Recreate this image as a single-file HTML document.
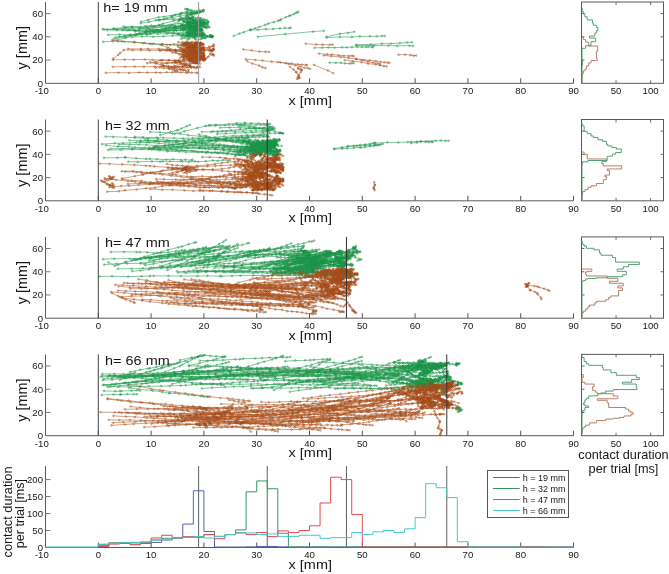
<!DOCTYPE html><html><head><meta charset="utf-8"><style>html,body{margin:0;padding:0;background:#fff;}svg{display:block;font-family:"Liberation Sans",sans-serif;filter:blur(0.35px);}</style></head><body>
<svg width="669" height="574" viewBox="0 0 669 574">
<rect width="669" height="574" fill="#fff"/>
<defs><marker id="mg" markerUnits="userSpaceOnUse" markerWidth="4" markerHeight="4" refX="2" refY="2" overflow="visible"><circle cx="2" cy="2" r="0.85" fill="none" stroke="#1a9048" stroke-width="0.55" opacity="0.95"/></marker><marker id="mb" markerUnits="userSpaceOnUse" markerWidth="4" markerHeight="4" refX="2" refY="2" overflow="visible"><circle cx="2" cy="2" r="0.85" fill="none" stroke="#a04a1a" stroke-width="0.55" opacity="0.95"/></marker></defs>
<g fill="none" stroke="#2aa055" stroke-width="0.7" stroke-opacity="0.85" marker-start="url(#mg)" marker-mid="url(#mg)" marker-end="url(#mg)">
<polyline points="102.6,29.0 114.4,29.0 124.6,28.4 132.4,28.2 140.2,27.7 143.0,27.9 152.4,27.9 161.3,27.2 170.5,26.9 175.1,26.7 183.5,26.4 189.3,26.4 190.2,26.5 194.7,26.5 198.9,26.9 203.1,27.0 205.2,27.2"/>
<polyline points="103.2,41.8 112.9,41.2 118.2,41.3 124.1,41.6 134.0,42.3 142.9,43.1 151.6,44.1 160.2,44.7 162.3,44.3 166.8,44.6 173.9,44.2 181.2,44.2 184.9,44.1 189.9,44.0 191.9,44.3"/>
<polyline points="103.9,29.6 117.3,29.7 127.7,30.5 134.2,30.3 146.8,31.0 149.8,31.1 153.5,30.8 162.1,30.9 171.7,30.5 176.4,30.6 183.0,30.2 188.5,29.8 192.6,29.8 195.3,30.3"/>
<polyline points="108.2,34.8 119.6,34.6 130.6,34.7 139.9,34.4 146.6,34.1 150.3,33.8 157.9,33.9 166.5,33.7 172.8,33.3 177.7,33.2 183.3,33.1 188.5,33.3 190.0,33.1"/>
<polyline points="107.2,30.0 116.8,29.9 129.2,29.6 138.8,30.0 147.7,29.5 155.5,29.5 165.0,29.3 173.3,28.5 180.7,28.4 184.6,28.0 190.6,27.8 196.3,27.4 199.1,27.1 197.4,27.4 200.1,25.9"/>
<polyline points="118.9,36.9 130.2,35.2 139.4,33.1 150.7,30.8 157.7,29.8 165.1,28.5 174.1,26.9 182.3,25.8 188.8,25.0 195.9,24.3 200.2,23.1 202.3,23.2 204.5,23.8 203.9,23.8"/>
<polyline points="113.7,38.9 124.6,37.0 134.9,35.5 141.6,34.2 150.4,33.2 160.3,31.9 169.5,30.7 176.2,30.1 182.4,29.4 185.1,29.1 189.1,29.0 187.1,27.5"/>
<polyline points="116.6,40.0 125.8,37.8 137.3,34.7 145.7,32.7 154.0,31.3 162.7,29.3 168.9,27.9 175.9,26.8 183.5,25.3 187.5,24.6 193.8,23.3 195.8,23.0 192.5,21.3"/>
<polyline points="115.5,37.3 124.7,36.0 135.8,34.2 145.1,32.8 154.3,31.9 159.7,31.1 169.0,29.9 175.9,28.8 181.5,28.0 188.0,27.4 194.2,26.2 198.5,25.6 201.2,24.8 199.2,26.1"/>
<polyline points="113.5,28.4 126.3,27.5 132.0,26.7 145.1,26.2 151.3,25.5 159.8,25.3 168.2,25.5 174.6,25.4 182.1,25.3 187.6,25.4 190.1,25.3 190.2,23.4"/>
<polyline points="123.5,26.3 131.8,27.2 140.2,27.9 150.0,29.1 160.1,30.8 164.7,31.5 174.4,33.0 179.3,34.3 182.7,34.7 186.6,35.7 187.5,38.7"/>
<polyline points="122.5,30.1 135.0,30.3 145.4,31.4 153.1,31.7 160.6,32.1 167.8,32.8 177.5,34.3 186.2,35.2 190.0,35.3 197.6,36.8 202.7,36.9 204.9,37.7 203.2,37.1"/>
<polyline points="134.9,31.5 146.1,31.1 152.9,31.0 163.0,31.0 173.4,30.5 180.6,30.4 184.5,29.9 188.6,30.1 190.3,29.6"/>
<polyline points="153.6,27.2 165.6,26.7 175.1,27.3 183.2,29.1 190.5,30.4 193.7,31.3 197.4,31.3"/>
<polyline points="156.6,29.9 166.3,28.5 175.7,28.2 185.0,29.3 190.4,29.8 195.8,30.7 195.1,29.6 191.7,30.1"/>
<polyline points="146.9,34.9 157.4,32.2 166.4,30.0 178.7,27.8 183.3,27.1 193.2,26.2 199.8,25.4 202.2,24.9 204.4,24.8 201.9,25.2 202.1,24.6"/>
<polyline points="131.7,37.3 141.8,36.6 153.2,36.7 163.5,36.3 172.6,35.7 180.9,35.9 186.1,35.7 194.7,35.3 200.2,35.8 202.2,35.4 201.6,36.8"/>
<polyline points="155.9,20.0 163.6,19.6 174.2,19.3 183.3,18.8 187.5,19.2 193.7,19.9 197.9,19.9 200.6,19.3"/>
<polyline points="178.7,20.4 189.0,17.6 193.4,19.2 192.1,17.0 198.0,17.6"/>
<polyline points="146.4,26.7 155.0,26.3 162.6,25.5 170.5,24.7 178.5,23.5 186.1,22.5 190.8,21.4 192.7,20.6 191.4,22.5 191.9,23.4"/>
<polyline points="171.7,25.0 179.0,20.8 186.9,15.9 192.0,14.0 196.5,12.1 194.7,12.6 194.1,11.6 192.5,13.0"/>
<polyline points="178.7,33.8 188.8,28.8 193.8,25.6 200.5,21.4 203.3,19.1 200.2,19.7"/>
<polyline points="183.7,28.3 188.9,22.5 193.3,17.1 196.1,12.9 194.0,13.5"/>
<polyline points="138.7,29.2 147.7,27.6 158.8,25.1 162.9,23.6 173.4,21.0 179.9,19.1 185.9,16.9 191.8,15.2 196.2,13.4 201.2,11.4 203.4,10.0 203.4,11.4"/>
<polyline points="141.0,21.7 147.9,19.9 158.5,17.3 164.0,16.6 175.0,14.7 180.7,13.9 186.5,13.2 192.6,12.4 197.1,12.7 198.8,12.5 197.3,12.8 196.2,13.0"/>
<polyline points="140.7,23.3 149.0,21.8 158.7,20.0 166.4,18.5 171.9,17.8 179.5,16.1 186.3,14.9 192.5,13.5 197.5,12.6 200.8,11.8 203.1,11.2 199.4,12.4 197.7,11.9 198.9,11.0"/>
<polyline points="183.7,21.9 187.9,14.1 188.0,9.1 187.0,9.5 187.2,9.0 185.2,9.0"/>
<polyline points="174.2,28.3 181.3,26.3 187.7,23.7 193.8,20.4 195.9,18.9 199.4,18.3 201.0,18.0"/>
<polyline points="174.3,30.7 181.2,25.3 185.1,21.8 187.9,16.9 190.3,13.3 190.5,13.6 190.6,14.0"/>
<polyline points="172.0,16.1 181.4,12.9 190.0,10.2 191.7,10.3 199.4,10.2 203.9,10.0"/>
<polyline points="159.7,20.1 171.5,16.5 180.3,14.0 187.0,12.1 190.7,11.8 196.5,12.2 199.9,12.3"/>
<polyline points="181.2,23.8 183.7,25.3 187.6,27.6 189.5,28.8 190.9,30.1 190.7,29.5 192.9,28.9 193.0,28.5 192.9,30.4 190.2,29.6 191.7,29.2 190.3,28.1"/>
<polyline points="189.8,24.5 192.2,27.9 195.8,31.4 197.9,34.3 198.8,35.8 199.3,35.0 199.6,34.4 198.6,35.6 198.6,35.9 199.7,35.7 203.1,35.6 204.1,34.0 204.7,34.8 204.6,34.6 202.3,34.4 198.8,34.2 198.4,34.4"/>
<polyline points="195.5,38.2 197.4,33.4 198.7,29.5 199.9,27.8 201.0,24.7 201.3,23.4 199.2,23.0 199.8,23.4 199.2,24.6 202.0,25.7 199.7,25.9 199.0,26.1 200.1,24.9 199.5,25.0 197.6,25.5"/>
<polyline points="188.9,30.8 193.4,28.1 196.9,26.5 199.9,24.5 203.0,22.9 203.7,22.2 200.7,22.9 197.1,23.0 194.0,22.8 190.6,22.0 192.2,22.6 192.7,21.3 194.9,19.2"/>
<polyline points="180.4,19.6 182.9,21.0 188.4,24.2 191.4,25.9 193.9,27.5 197.1,29.0 199.5,30.2 202.2,32.2 203.1,32.9 203.3,33.3 201.6,34.1 198.6,35.2 195.9,34.6 193.4,33.1 193.1,32.0 189.3,31.8 187.0,32.4 188.3,33.7"/>
<polyline points="181.1,38.8 184.8,37.7 189.6,35.6 191.4,35.0 195.5,33.4 198.3,32.2 200.1,31.4 201.1,31.1 202.6,30.7 202.1,30.1 196.8,29.6 197.8,29.7 195.7,29.1 197.2,29.6 198.0,29.9 199.6,29.9 200.3,29.4"/>
<polyline points="183.4,28.5 187.0,32.2 189.6,34.8 190.8,36.1 191.1,35.5 188.6,36.6 187.9,35.0 188.6,35.1 191.2,32.8 193.3,31.3 194.6,32.3 193.1,32.0 192.1,32.3 189.9,33.8"/>
<polyline points="195.4,39.6 195.5,36.5 195.3,31.8 195.7,30.4 195.0,29.5 195.0,29.3 196.0,30.2 195.5,29.3 195.9,30.9 198.0,30.7 198.2,30.5 200.7,29.7 201.5,29.3 199.6,29.3 200.7,28.9 200.7,29.6"/>
<polyline points="189.6,38.6 191.7,34.8 193.0,32.0 194.9,28.4 195.7,27.6 196.7,26.0 197.1,26.0 197.1,28.1 198.9,26.3 203.8,26.6 205.0,27.4 205.1,26.7 206.3,27.1 206.8,28.0 209.4,27.2"/>
<polyline points="181.2,17.4 185.9,19.5 189.9,20.9 193.0,21.9 194.2,22.7 195.1,21.0 194.5,21.1 194.7,22.7 194.1,23.5 193.4,23.8 195.2,23.1 190.8,23.6 188.8,25.1 189.7,26.3 189.7,25.9 188.1,25.5 189.0,24.6"/>
<polyline points="180.9,18.7 183.7,20.6 188.1,24.0 190.9,26.0 193.8,27.8 196.4,29.7 198.7,30.9 200.8,32.5 202.5,34.0 203.9,34.8 201.7,33.7 199.4,33.0 201.4,34.3 198.3,33.9 197.4,34.2 194.4,34.7 196.4,35.2 192.6,36.4 195.1,37.9 193.0,37.5 194.5,36.6 194.5,36.6"/>
<polyline points="191.9,37.1 193.1,33.0 193.3,29.8 193.9,31.3 191.7,31.9 189.1,33.3 189.3,33.9 187.0,33.4 187.0,33.6 188.7,35.2 188.6,34.3 189.6,34.3"/>
<polyline points="182.3,37.2 184.8,35.7 187.6,32.8 190.9,30.6 191.8,29.6 193.1,28.3 196.2,29.0 197.8,29.5 200.5,29.2 202.0,29.2 201.6,28.4 198.1,28.4 194.9,27.7 192.0,26.8 191.6,28.4 189.8,27.7 189.8,26.5 187.0,26.5"/>
<polyline points="192.9,34.4 195.0,30.3 196.1,28.2 198.0,24.0 198.7,21.8 198.9,20.1 199.3,21.4 196.4,21.9 194.7,20.9 197.1,21.4 199.1,21.1 197.1,24.3 195.3,26.5 196.8,27.0 194.9,27.1 194.3,26.0"/>
<polyline points="195.3,19.9 195.2,23.3 194.3,27.4 194.3,29.5 193.9,31.2 194.5,31.9 194.8,32.1 193.9,31.5 194.6,31.6 194.8,33.1 195.4,34.5"/>
<polyline points="185.8,27.1 189.8,25.9 194.0,24.7 196.9,23.7 201.1,22.6 203.2,22.2 204.2,21.8 205.1,21.1 203.0,23.4 205.6,24.0 204.8,23.5 204.0,23.4 207.7,21.6"/>
<polyline points="187.6,40.1 189.3,36.6 191.6,32.6 193.3,28.5 194.8,25.0 196.2,22.8 196.7,21.8 198.0,22.6 198.4,25.6 198.3,24.6 198.4,24.1 198.1,23.8 198.9,23.3 201.1,21.9 201.3,21.3 200.0,23.0 200.7,24.1"/>
<polyline points="182.6,34.9 186.1,32.2 189.3,30.8 192.6,28.3 194.7,27.3 194.6,29.6 196.5,27.3 193.2,26.7 192.8,27.3 196.2,26.8 192.1,26.2 195.2,25.8"/>
<polyline points="189.7,18.8 193.2,20.3 197.8,22.6 201.2,24.8 202.1,25.5 203.7,23.6 203.5,23.5 204.1,23.9 204.7,23.8 204.0,24.0 206.0,23.0 203.6,24.1 203.1,25.3 201.9,23.9 205.8,23.6"/>
<polyline points="194.2,34.3 192.9,29.7 192.6,26.5 191.9,23.1 190.9,19.4 191.0,18.1 191.8,18.9 189.9,17.7 187.5,18.7 189.4,18.8 188.8,18.5 192.6,17.4"/>
<polyline points="181.2,25.9 185.2,24.8 189.2,23.7 191.8,22.9 195.7,22.0 198.6,21.7 201.2,20.7 203.1,20.4 204.8,19.8 206.8,20.0 208.0,22.2 208.3,21.6 207.9,22.5 207.3,24.7 206.6,26.1 205.9,26.9 208.8,26.9 207.7,23.7"/>
<polyline points="185.5,27.8 189.1,25.4 191.7,23.3 189.3,23.4 188.9,23.2 188.1,23.5 188.6,25.7 187.0,23.3 190.8,22.8 188.3,22.1 187.1,20.5 187.7,21.4 187.7,22.0 187.0,22.1"/>
<polyline points="197.9,39.7 202.1,38.4 206.4,36.4 209.7,35.7 210.9,35.3 210.2,35.4"/>
<polyline points="200.9,39.1 205.0,38.3 209.7,36.9 211.7,37.2 212.1,36.5 211.2,36.3 212.9,36.3"/>
<polyline points="202.4,35.0 206.8,36.0 209.8,36.0 211.7,36.3 211.7,35.9 212.5,36.1"/>
<polyline points="198.9,36.1 202.7,36.3 206.9,36.3 210.6,36.8 212.6,36.2 212.3,37.3"/>
<polyline points="233.6,36.0 239.4,33.6 243.8,32.2 249.9,29.9 250.9,29.8 255.2,28.3 259.5,26.9 265.4,24.8 268.3,23.6 273.7,22.2 278.2,20.7 280.3,20.3 280.8,19.5 285.8,17.3 288.9,15.9 290.4,15.5 293.9,14.2 295.9,12.8 297.3,12.2 298.4,11.8"/>
<polyline points="250.6,29.9 257.9,29.7 266.1,29.2 273.1,29.0 279.8,28.4 284.9,28.0 289.1,28.2 290.7,27.7"/>
<polyline points="257.8,36.7 285.3,34.1 313.0,31.6 323.8,30.8"/>
<polyline points="326.5,36.7 339.9,33.8 347.8,32.8 354.3,31.7"/>
<polyline points="326.5,37.6 339.9,36.9 351.8,37.1 359.7,36.4 369.9,36.3 376.8,36.4 382.0,36.0 384.8,35.9"/>
<polyline points="314.5,47.8 322.2,47.7 328.2,47.5 334.6,47.6 342.2,47.4 346.9,47.4 351.9,47.2 357.4,46.9 361.9,47.1 365.9,47.0 368.4,46.8 372.0,47.0 373.1,47.2"/>
<polyline points="356.3,44.7 370.6,44.4 381.9,43.7 390.8,43.6 399.7,43.1 407.1,42.5 411.8,42.3"/>
<polyline points="356.3,45.5 374.0,45.5 388.4,45.6 397.2,45.9 409.4,45.6 413.2,45.9"/>
<polyline points="329.6,62.7 335.8,62.8 340.9,62.8 344.9,63.4 349.4,63.6 351.5,63.2 353.7,63.3"/>
</g>
<g fill="none" stroke="#b45e2c" stroke-width="0.7" stroke-opacity="0.85" marker-start="url(#mb)" marker-mid="url(#mb)" marker-end="url(#mb)">
<polyline points="112.2,40.2 121.7,41.3 134.6,42.1 144.7,43.0 149.8,43.6 153.5,43.6 162.3,44.2 170.2,44.9 177.9,45.3 185.0,46.1 186.5,45.9 193.6,46.8 198.4,47.2 203.5,47.4 208.7,47.8 210.2,47.8"/>
<polyline points="113.1,58.6 118.3,54.8 120.2,53.0 123.7,50.0 132.6,50.1 141.1,50.1 149.6,50.4 159.9,50.3 160.1,50.6 167.3,50.5 175.6,51.2 183.6,51.7 189.0,51.8 194.4,51.6 197.5,52.0 200.0,52.3"/>
<polyline points="113.0,59.8 124.7,59.6 133.6,59.6 144.8,59.5 152.5,59.8 160.3,60.2 161.9,60.2 168.6,60.3 175.8,60.4 184.0,60.4 189.1,60.6 194.8,60.1 198.3,60.2 199.9,60.6"/>
<polyline points="112.8,66.8 125.2,66.7 134.6,66.6 143.8,66.7 154.5,66.6 159.8,66.8 161.7,66.5 168.4,66.7 176.0,66.6 182.4,66.6 190.0,66.7 193.4,66.9 197.8,66.7 200.1,67.0"/>
<polyline points="105.8,72.8 118.5,72.6 129.2,72.9 139.1,72.5 147.3,72.6 156.1,72.5 160.2,72.7 166.6,72.4 172.4,72.4 180.7,72.4 186.2,72.7 191.6,72.6 196.5,72.8 197.9,72.7"/>
<polyline points="147.0,63.2 156.8,62.8 167.4,62.9 174.9,62.8 176.9,63.0 185.5,63.4 191.3,63.4 197.4,63.2 200.1,63.7"/>
<polyline points="128.0,48.8 140.8,49.0 147.8,48.9 158.7,49.0 167.6,49.2 170.2,49.4 175.5,49.8 182.5,49.6 189.1,49.9 194.0,49.7 196.2,50.1"/>
<polyline points="161.6,45.2 167.8,47.5 175.0,50.1 182.3,52.3 186.7,52.9 191.9,54.2 197.0,55.4 199.9,55.3 198.2,58.0 199.9,56.7 196.0,57.4"/>
<polyline points="172.3,52.6 181.3,54.1 189.1,54.7 194.1,56.0 196.8,56.4 199.0,55.3 195.2,55.8 193.4,57.3"/>
<polyline points="162.0,49.6 170.1,50.3 175.9,50.7 181.7,51.0 187.9,52.3 192.5,53.4 195.3,53.7 195.8,56.1 199.6,57.0 196.2,56.0"/>
<polyline points="183.2,45.7 184.5,53.2 187.3,57.2 189.6,60.2 191.7,60.3"/>
<polyline points="165.7,50.2 175.2,50.4 182.4,49.0 186.8,47.8 191.2,46.2 195.1,45.3 195.6,45.9"/>
<polyline points="178.8,54.3 184.2,58.1 191.9,61.3 195.3,61.7 195.6,59.1 191.8,59.7"/>
<polyline points="181.4,45.5 189.1,50.1 192.8,52.5 199.7,56.0 203.0,58.3 205.5,59.5 204.7,58.9 204.6,57.9 204.5,58.8"/>
<polyline points="170.0,50.6 175.8,52.5 183.1,54.6 187.4,56.2 190.2,56.6 187.4,55.1 187.7,55.0"/>
<polyline points="150.2,62.0 155.9,63.5 163.7,65.6 168.3,66.3 174.4,68.2 179.9,69.4 183.2,70.5 185.6,70.5 188.1,72.4 188.5,70.8 188.5,69.7"/>
<polyline points="161.4,63.8 166.6,63.3 172.3,62.7 179.3,61.8 183.7,61.5 189.5,61.9 191.9,61.5 194.9,61.9 193.6,61.2 193.5,61.1"/>
<polyline points="174.0,65.6 182.2,63.9 186.4,64.5 189.9,66.1 189.9,65.3 190.3,66.8"/>
<polyline points="181.0,63.6 184.3,64.0 184.9,65.5 185.8,65.3"/>
<polyline points="162.6,65.8 169.2,68.7 172.0,69.3 176.8,70.0 180.5,69.4 182.4,69.6 184.5,69.2"/>
<polyline points="163.0,65.5 170.8,66.9 177.6,67.1 182.3,67.4 187.1,67.5 191.4,67.6 194.3,67.5 197.5,67.2 196.0,68.5"/>
<polyline points="155.5,67.7 163.8,68.1 169.1,68.5 174.5,67.6 178.9,66.6 183.2,65.7 185.1,64.9 187.0,65.2 189.4,65.0 189.6,65.4 191.3,67.0"/>
<polyline points="171.7,67.1 175.8,71.5 174.1,70.6 177.7,71.6"/>
<polyline points="154.4,61.7 162.4,60.2 169.0,60.1 174.1,60.6 178.4,61.3 180.9,62.1 180.0,62.6 175.9,62.4 175.1,61.8 174.7,61.0"/>
<polyline points="190.9,49.1 192.6,46.3 193.9,44.8 196.5,44.9 196.5,44.3 195.6,44.5 195.0,44.8 193.0,44.8 192.0,44.6 190.7,45.8 193.3,46.4 192.3,46.9 190.5,47.4 187.6,48.4 191.3,48.5 191.8,48.0 193.5,48.1"/>
<polyline points="188.4,51.5 189.2,47.3 191.1,44.1 191.6,42.2 188.0,43.0 188.3,42.9 185.0,43.6 185.7,44.0 183.8,44.2 184.0,44.0 184.9,44.6 185.3,43.4 185.7,44.2 186.0,42.7 183.0,43.6 184.3,44.1 187.3,45.1"/>
<polyline points="190.6,43.5 192.8,45.2 197.2,47.6 198.8,48.7 200.8,50.4 201.8,48.6 200.6,48.3 202.4,49.4 201.3,50.0 202.4,49.8 204.0,49.2 203.5,50.8 204.0,51.0 202.5,53.0 201.1,53.4"/>
<polyline points="178.1,46.7 181.1,47.9 184.5,49.6 187.2,51.3 190.7,52.9 192.1,54.2 193.1,54.4 192.6,54.0 192.9,54.5 189.9,55.6 187.6,54.4 184.6,51.7 184.8,52.1 183.0,51.1 183.0,51.3 184.5,51.3 183.0,50.9"/>
<polyline points="193.0,57.6 194.3,53.3 194.6,50.8 194.7,48.2 195.1,46.6 192.5,47.1 191.9,47.6 188.6,47.8 191.9,49.0 195.1,48.9 195.7,50.1 195.1,49.6 194.0,49.7"/>
<polyline points="184.9,50.3 188.1,51.7 192.8,53.7 196.2,55.0 198.3,55.7 200.4,56.7 202.3,57.4 204.0,56.2 202.7,55.9 203.8,55.6 204.0,54.7 204.0,52.7 202.6,53.0 202.1,53.2 203.9,53.9 203.7,56.3 204.0,57.2 201.4,57.5"/>
<polyline points="191.1,60.4 192.7,56.9 193.9,54.5 196.3,50.7 197.2,48.8 199.2,46.2 200.2,43.9 200.8,42.6 198.3,42.4 200.6,42.8 200.9,43.9 202.7,43.5 199.5,43.7 197.0,44.0 199.0,43.4 200.2,43.2 199.7,43.2 200.0,43.9 198.4,43.1"/>
<polyline points="185.1,54.8 189.6,56.0 192.7,55.9 196.0,56.6 198.5,57.0 200.6,57.5 201.4,57.2 203.2,57.7 200.8,58.0 201.6,57.7 202.1,57.9 203.4,57.2 202.6,56.3 204.0,55.2 204.0,55.5 201.5,55.5 202.9,56.0"/>
<polyline points="190.9,56.3 191.8,52.6 192.9,50.6 191.8,50.5 191.7,51.8 191.8,51.8 189.3,52.0 187.1,53.6 185.3,53.0 188.7,52.2"/>
<polyline points="184.3,44.0 186.6,47.0 190.3,50.7 191.5,52.4 193.0,53.9 193.9,53.7 195.0,54.3 197.4,54.9 194.9,55.2 192.4,56.4 194.0,56.5 191.7,56.9 192.1,56.3 193.6,56.6 191.0,55.6"/>
<polyline points="182.8,57.0 187.4,57.6 190.1,57.7 194.2,58.7 197.7,59.3 199.0,59.3 200.0,59.2 201.1,59.2 201.7,58.6 202.8,58.6 204.0,58.5 203.2,58.0 204.0,60.3"/>
<polyline points="182.0,56.8 184.8,57.1 190.0,56.9 191.0,56.8 191.5,57.0 189.1,55.9 192.3,55.0 193.3,55.0 191.1,54.4 192.4,54.3 192.2,54.1 190.9,54.3 190.4,54.1 189.1,53.2 191.0,52.6 191.0,52.7"/>
<polyline points="179.6,50.1 183.5,52.1 187.6,54.2 190.5,55.2 193.7,56.7 195.2,57.8 197.4,58.4 199.9,58.5 200.2,57.4 201.3,57.9 199.8,59.0 198.3,59.0 198.6,58.1 200.7,58.3 199.0,57.9 197.7,57.4 195.7,56.2 193.6,55.8 194.8,54.9"/>
<polyline points="190.6,49.0 194.2,52.4 196.0,54.5 197.4,56.2 195.9,58.1 197.8,57.0 196.6,57.5 196.9,58.8 199.7,58.3 199.3,58.4 195.5,57.5 194.9,56.2 196.2,56.1 194.1,58.0 190.9,58.7 190.8,58.6 192.4,57.9 191.8,58.5"/>
<polyline points="178.1,60.5 180.4,57.6 183.1,54.5 185.4,51.1 187.1,49.7 188.8,46.9 189.4,45.7 191.3,45.6 189.5,44.8 189.1,44.1 186.8,44.0 183.3,44.6 184.9,45.0 186.2,44.5 187.4,44.6 188.5,44.4 187.6,42.8 188.3,43.5"/>
<polyline points="188.2,52.0 190.2,54.6 191.3,57.7 192.6,60.1 193.8,61.6 196.1,61.7 197.2,63.0 196.7,63.0 196.8,63.0 195.7,63.0 194.3,63.0 195.3,63.0 192.3,62.5 194.2,62.8 196.6,60.7 196.9,60.9 196.6,61.0 198.3,62.5 199.9,61.1"/>
<polyline points="193.4,52.2 197.0,52.5 199.0,52.8 200.8,52.7 201.2,52.6 199.3,53.3 198.7,52.4 196.7,52.6 198.3,52.4 201.5,53.4 201.5,53.9"/>
<polyline points="189.4,60.2 192.0,58.3 195.3,55.1 198.3,52.7 200.0,51.9 201.3,50.1 202.4,49.5 199.0,51.1 197.7,50.4 198.9,50.7 195.6,53.3 197.7,52.9 196.8,54.3 194.9,53.6 195.3,54.6 196.5,55.7 197.2,56.4 197.3,57.8"/>
<polyline points="180.1,47.9 185.1,50.2 187.6,51.3 190.8,52.9 194.9,54.2 196.7,55.2 199.6,56.6 201.1,56.9 202.1,58.0 202.5,59.7 203.4,60.4 204.0,60.2 203.6,59.4 204.0,60.1 204.0,59.3 203.7,58.1 204.0,59.3 204.0,59.3"/>
<polyline points="184.1,43.9 185.6,48.4 187.1,52.8 187.8,54.1 188.2,56.6 184.9,56.4 184.2,55.5 184.6,55.1 186.6,55.7 190.4,56.8 192.5,56.2 190.3,56.9"/>
<polyline points="186.1,56.2 190.8,54.6 194.4,53.0 197.4,51.9 198.7,51.5 199.8,52.0 200.2,51.9 199.9,51.5 198.9,51.3 197.9,51.5 197.2,50.9 196.5,50.7"/>
<polyline points="189.7,55.9 193.8,53.1 195.5,52.2 192.2,53.5 193.2,53.2 194.9,52.5 194.2,52.3 192.9,53.8 194.7,54.6 197.9,54.1"/>
<polyline points="179.5,60.7 183.2,59.7 187.8,58.4 190.4,58.2 193.0,57.3 194.7,57.0 194.9,57.1 189.8,58.5 191.7,59.1 191.0,59.0 190.1,59.6 194.2,58.9 192.3,59.5 190.8,59.6 190.2,59.0 189.1,59.1 187.1,59.5 183.3,59.2"/>
<polyline points="182.9,55.8 188.5,54.0 190.9,53.0 194.1,51.9 197.8,50.9 200.4,49.8 201.5,49.4 201.4,49.3 199.3,48.9 198.8,49.8 201.1,49.5 200.5,50.0 204.0,50.0 203.1,48.4"/>
<polyline points="178.2,42.1 182.6,42.2 186.7,42.2 189.9,42.6 192.6,42.1 195.2,42.6 196.5,42.4 196.4,42.2 195.1,43.3 194.2,43.7 198.0,43.7 197.7,44.5 197.1,43.4 196.8,42.9 194.9,42.9"/>
<polyline points="193.6,46.9 196.6,47.5 199.9,47.7 201.9,48.0 201.8,49.3 200.0,48.8 202.3,48.1 203.7,47.1 204.0,48.3 204.0,49.7 202.4,49.9 200.5,48.7"/>
<polyline points="189.9,46.4 194.6,46.3 196.8,46.3 198.2,47.5 198.9,47.6 198.7,47.3 199.6,46.6 200.3,45.0 200.2,45.3 199.9,44.9 201.3,45.3 203.8,44.5 202.9,44.1 202.5,45.8"/>
<polyline points="188.6,56.6 193.3,55.8 195.8,55.4 198.3,55.5 199.7,55.2 200.7,52.0 198.1,50.7 196.7,50.1 195.0,49.2 193.4,48.7 195.5,50.0 192.3,49.3 193.4,50.0 191.3,49.7 192.0,49.0 193.6,49.8 193.8,49.6 195.1,50.9 193.4,50.6"/>
<polyline points="186.9,55.0 190.3,51.5 191.8,50.3 193.3,48.7 189.8,49.9 189.3,48.2 188.8,47.7 187.9,47.3 187.5,48.0 189.0,46.6 187.9,46.4 189.3,48.4 188.8,47.0 188.8,47.5 188.0,47.7"/>
<polyline points="186.1,42.6 188.6,43.4 192.9,44.6 195.1,44.9 196.8,45.7 195.5,44.3 195.0,43.8 194.2,45.5 193.2,45.4 191.7,46.0 194.1,45.5 194.9,47.0 194.6,47.9 195.1,47.7"/>
<polyline points="209.3,46.6 212.0,46.0 213.5,46.6 214.0,45.5 213.6,44.2"/>
<polyline points="206.8,48.7 209.9,50.2 212.4,50.9 210.9,49.9 210.2,50.5"/>
<polyline points="208.2,56.7 213.2,54.5 212.8,54.4 212.2,54.3 214.0,55.6"/>
<polyline points="206.8,57.9 210.1,53.8 212.2,50.3 213.5,49.4 214.0,49.1 212.9,49.1 213.0,49.1"/>
<polyline points="205.5,50.1 209.0,50.5 211.6,51.3 213.9,50.2"/>
<polyline points="243.2,49.4 251.6,50.5 259.4,51.5 265.5,51.8 269.1,52.0"/>
<polyline points="245.7,59.2 255.3,59.9 262.6,60.6 271.6,61.6 277.8,62.1 286.0,63.1 291.5,63.5 298.0,64.4 302.0,64.6 305.8,65.0 307.0,65.0"/>
<polyline points="247.1,61.1 252.5,63.6 259.2,65.6 262.5,67.3 265.5,68.1"/>
<polyline points="280.4,62.4 288.7,64.0 295.3,65.2 300.4,66.5 304.5,67.8 307.6,68.1 310.1,68.8"/>
<polyline points="289.9,66.9 293.6,69.6 296.2,71.9 296.2,72.4 298.8,76.0 299.7,77.9 298.6,78.3 297.1,78.8 297.9,77.1 298.8,75.0 300.9,72.1 301.9,70.0 301.7,69.8 300.3,69.4 298.3,68.3 298.2,68.0"/>
<polyline points="313.9,64.9 327.8,70.5 333.2,73.2"/>
<polyline points="305.7,43.7 316.3,44.5 322.7,44.7 330.1,44.7 332.6,44.6"/>
<polyline points="318.9,53.6 327.1,54.3 332.2,54.5 338.5,55.3 343.7,55.8 348.8,56.0 352.1,55.8 353.7,56.2"/>
<polyline points="323.7,55.4 331.0,56.1 340.6,57.0 348.5,58.0 355.9,58.7 364.2,59.9 369.8,60.4 375.9,61.1 380.6,61.9 384.5,62.4 387.6,62.6 389.5,62.9"/>
<polyline points="344.6,60.1 353.0,61.3 361.5,62.2 368.1,63.6 375.5,64.4 380.1,65.3 383.8,66.2 386.6,66.4"/>
<polyline points="356.0,59.3 361.8,60.2 367.7,61.6 373.2,62.6 377.8,63.3 379.9,64.2"/>
<polyline points="398.5,54.7 405.1,54.6 410.7,55.1 413.6,55.7 416.3,55.5"/>
</g>
<g fill="none" stroke="#2aa055" stroke-width="0.7" stroke-opacity="0.85" marker-start="url(#mg)" marker-mid="url(#mg)" marker-end="url(#mg)">
<polyline points="102.1,144.1 114.7,143.3 123.0,143.2 136.4,142.4 140.1,141.9 147.4,142.0 154.6,141.6 167.5,141.1 176.7,140.7 184.2,140.2 193.3,140.3 199.7,140.0 202.4,139.9 209.5,140.4 217.1,140.6 223.8,140.2 228.8,140.4 236.5,140.5 241.0,141.0 245.3,140.7 248.4,140.9 249.7,141.1"/>
<polyline points="103.8,157.8 117.3,157.7 125.2,157.3 125.2,157.5 136.2,158.3 146.2,159.0 149.9,158.9 157.0,159.2 166.3,159.6 173.0,159.3 181.0,159.9 185.4,159.7 191.4,160.2 192.7,159.8"/>
<polyline points="128.2,161.7 137.8,161.8 151.9,161.4 160.1,161.6 162.7,161.3 170.0,161.4 182.3,161.5 188.8,161.8 195.0,161.4 198.2,161.7 205.8,161.3 212.8,160.5 217.8,160.8 223.1,160.1 228.1,160.3 230.1,160.1"/>
<polyline points="108.1,149.9 120.5,149.9 132.3,149.5 142.5,149.1 150.1,148.8 151.7,149.2 160.6,148.7 169.8,148.3 180.6,148.2 188.4,148.1 198.8,147.8 200.1,147.9 204.9,148.2 213.2,147.4 217.6,147.8 224.0,147.5 230.7,147.0 234.5,147.3 237.8,147.3 240.1,146.7"/>
<polyline points="160.2,135.2 170.4,131.9 176.5,130.5 178.2,130.1 181.6,128.4 186.8,126.3 189.9,124.8"/>
<polyline points="174.7,133.7 184.4,131.4 197.4,128.0 209.1,125.3 210.1,125.1 215.9,124.7 228.9,124.1 236.8,123.2 244.9,123.1 245.2,123.3 251.2,123.2 258.4,123.4 263.8,123.8 267.5,123.7 270.2,124.0"/>
<polyline points="205.3,126.0 215.3,125.7 225.1,125.3 233.2,124.9 240.2,124.8 241.5,124.7 250.4,124.8 256.3,124.9 260.7,124.8 266.1,125.1 268.2,124.9"/>
<polyline points="106.1,145.3 117.9,146.5 128.6,146.7 134.9,147.4 144.7,147.7 154.3,148.6 165.9,149.2 175.6,149.9 181.8,150.2 191.7,151.0 196.4,151.6 207.1,152.0 211.6,152.8 217.9,153.3 227.0,153.9 231.8,154.3 236.2,155.0 241.3,154.9 245.4,155.3 247.5,155.8 251.0,156.4 249.7,156.4 251.7,157.2"/>
<polyline points="118.8,144.4 130.1,144.4 138.8,144.6 146.4,144.8 156.5,145.6 169.1,146.1 177.1,146.5 185.5,146.8 192.9,147.2 202.6,148.2 209.2,149.0 215.4,149.2 223.8,150.4 229.8,150.8 234.9,151.5 240.7,152.3 245.7,152.5 250.1,153.6 252.4,153.6 254.4,152.1 255.5,151.6"/>
<polyline points="140.0,142.2 149.4,142.5 159.0,143.3 169.1,144.2 179.1,144.7 188.9,145.1 199.6,146.3 208.4,146.9 215.5,147.5 222.5,148.4 228.6,148.8 237.3,149.2 244.4,150.5 249.2,150.9 255.0,151.9 257.5,151.7 261.0,152.5 257.3,153.3 257.0,151.6 256.6,150.8"/>
<polyline points="110.4,148.8 122.8,148.5 132.3,148.6 140.4,149.0 152.1,149.4 157.9,149.3 167.1,150.1 177.3,150.3 184.0,150.6 193.9,151.0 202.1,151.8 207.8,152.0 217.6,152.6 223.5,153.2 227.4,153.4 234.9,154.0 237.7,154.4 242.3,154.6 244.9,155.0 240.1,152.3 240.3,151.0 238.7,151.8"/>
<polyline points="145.2,139.8 156.1,141.1 165.2,142.1 176.0,142.8 183.0,143.6 196.2,144.3 204.9,145.0 211.8,146.0 218.9,145.9 226.7,146.4 232.1,146.9 237.1,146.7 241.1,147.1 245.1,147.0 248.0,147.1"/>
<polyline points="105.6,136.6 113.2,136.8 125.7,137.2 134.7,137.7 147.9,138.5 158.0,139.0 166.9,140.2 176.3,140.8 185.5,141.7 192.4,142.4 201.9,143.1 206.9,144.2 216.6,145.2 224.0,146.1 230.4,147.4 237.5,147.8 241.6,148.7 246.8,149.6 252.9,150.3 255.8,151.2 257.9,151.2 260.3,150.2 257.8,149.7 261.4,150.4"/>
<polyline points="129.5,140.4 140.6,140.6 148.0,140.4 157.6,140.9 169.2,141.0 178.0,141.8 185.0,141.6 195.7,142.7 205.1,142.9 212.9,143.6 220.0,144.4 224.3,144.9 233.2,145.8 237.8,146.4 244.6,146.8 248.0,147.6 252.0,148.1 255.2,148.1 257.1,150.9 254.5,150.8 256.0,150.2"/>
<polyline points="148.2,149.1 159.7,150.4 167.7,151.3 179.4,151.6 186.1,152.1 198.4,152.3 206.0,152.8 214.8,152.4 220.4,152.3 228.5,152.0 233.1,151.6 237.1,151.1 240.2,151.1 237.5,153.3 239.6,154.6 239.7,154.8"/>
<polyline points="134.8,136.9 142.9,137.3 157.0,137.6 163.3,137.8 173.9,138.1 183.0,138.4 192.7,138.1 203.7,138.0 208.9,137.9 218.9,138.2 226.1,138.1 231.6,137.7 239.1,137.4 247.0,137.6 252.1,137.0 255.4,137.2 259.4,137.1 262.8,136.6 268.4,136.6"/>
<polyline points="149.3,147.5 158.3,147.4 171.1,147.7 178.1,147.4 187.1,147.8 199.5,148.3 205.6,148.7 215.1,149.0 223.1,149.5 230.5,149.5 234.6,149.8 242.0,150.8 245.0,151.0 248.2,150.9 250.0,151.2 253.7,151.8 253.6,151.7"/>
<polyline points="198.7,134.4 205.9,135.9 217.9,138.8 225.1,140.2 232.5,141.8 241.5,143.7 247.2,144.7 253.3,145.9 258.7,146.9 261.2,147.4 260.9,147.3 263.2,147.0 262.8,147.5"/>
<polyline points="188.1,139.6 198.3,138.7 210.1,137.9 214.7,137.3 224.0,136.4 233.3,135.8 241.5,135.7 246.8,135.1 253.9,135.1 259.7,135.1 264.4,134.8 267.7,134.9 266.8,136.3 268.6,136.9"/>
<polyline points="153.4,146.9 164.9,145.4 172.6,144.4 185.5,143.0 195.2,141.3 202.3,140.7 212.1,140.0 218.8,139.2 227.0,138.0 235.9,137.0 242.0,137.0 247.8,136.1 253.0,135.9 257.5,135.5 260.9,134.9 264.0,136.5"/>
<polyline points="207.8,140.2 215.2,140.0 226.0,141.2 235.7,142.1 243.1,142.6 249.7,144.0 255.8,145.4 262.5,146.4 264.4,146.6 265.6,148.1"/>
<polyline points="154.0,147.7 164.2,147.2 173.9,146.5 182.6,146.0 195.0,145.4 202.0,145.4 213.2,145.2 218.7,145.6 227.9,145.9 233.8,146.2 242.4,146.4 247.5,146.9 252.4,147.4 256.8,147.3 259.5,147.7 259.9,146.1"/>
<polyline points="150.2,131.9 159.9,132.3 172.5,133.5 180.4,133.8 188.3,135.2 199.9,136.3 206.0,137.0 216.7,138.6 224.3,139.6 231.9,140.6 238.2,141.7 243.0,142.5 247.6,143.4 249.6,143.5 248.6,141.3 246.9,142.2"/>
<polyline points="154.8,146.8 165.0,145.8 172.9,145.1 184.0,143.6 194.5,142.3 199.2,141.8 210.9,140.9 215.7,140.0 226.0,139.1 230.7,139.0 236.7,138.5 242.5,138.0 246.9,137.8 248.9,137.5 244.0,138.7"/>
<polyline points="171.8,149.5 181.8,146.5 191.2,144.6 201.8,143.0 209.1,141.9 215.5,141.7 226.0,140.4 232.8,140.0 237.9,140.0 242.4,140.0 249.0,139.6 251.1,139.9 253.2,141.8"/>
<polyline points="201.9,131.8 211.0,131.8 217.8,131.8 226.5,131.3 235.1,131.3 243.2,131.1 251.0,130.8 256.2,131.0 261.7,130.8 266.8,130.5 269.2,130.4 268.9,131.6 263.5,131.3"/>
<polyline points="220.1,127.7 229.4,127.5 240.4,127.7 249.6,128.3 255.9,128.8 264.1,128.6 269.3,129.0 272.9,128.6 268.9,126.6 270.2,127.0"/>
<polyline points="212.7,131.4 222.3,130.9 231.0,130.3 239.9,129.5 246.0,128.9 253.8,128.4 259.2,128.4 264.1,127.5 270.5,127.4 272.8,126.8 274.8,128.4"/>
<polyline points="236.0,124.2 244.0,125.2 253.9,126.8 259.8,128.2 269.3,130.3 274.6,131.2 280.3,132.9 282.8,133.6 279.8,132.9"/>
<polyline points="238.3,126.0 249.0,127.1 255.3,128.0 262.5,128.4 268.4,128.8 273.4,129.3 271.6,129.5 271.7,129.4"/>
<polyline points="217.1,134.0 225.7,133.5 235.2,133.1 245.5,132.7 252.2,132.5 263.0,132.9 269.7,133.2 275.2,133.3 279.4,133.2 283.0,133.2 281.2,132.8"/>
<polyline points="236.4,152.0 240.0,151.7 244.3,151.6 248.2,151.6 252.0,151.9 254.7,151.7 257.5,152.0 258.5,151.8 258.0,152.5 259.2,151.5 258.7,151.5 253.8,151.9 254.3,152.1 254.8,152.1 255.4,150.7 252.7,150.9 253.6,149.3 255.4,149.7 255.8,148.7 256.0,148.4"/>
<polyline points="255.2,156.0 257.7,153.3 261.7,150.7 264.3,149.1 267.0,146.9 269.1,145.6 270.9,143.6 271.9,143.1 269.6,142.9 268.2,141.2 272.1,141.3 273.1,141.4 273.6,143.1 273.8,142.5 274.5,141.0 277.4,141.8 275.8,141.6 276.6,141.9 275.8,139.6 273.1,139.4 274.4,139.0"/>
<polyline points="249.8,149.8 252.3,149.1 257.2,148.6 259.7,147.9 262.9,147.7 267.3,147.0 269.9,146.5 272.4,146.4 273.6,145.7 275.2,145.5 274.2,145.0 271.2,144.2 274.8,144.6 274.2,142.9 276.0,145.0 277.1,144.4 277.8,146.3 281.7,145.9"/>
<polyline points="246.5,146.4 251.0,146.9 254.6,146.4 259.1,147.0 262.2,147.0 264.2,146.9 267.7,147.4 269.6,147.2 271.1,147.6 268.4,149.0 270.4,149.2 268.0,149.3 267.7,148.5 270.5,148.1 270.5,149.2 269.2,150.5 268.7,150.4 264.8,151.0 265.6,149.8 266.2,147.8 270.5,149.2 270.0,148.5 270.6,148.9"/>
<polyline points="244.5,140.5 247.8,141.8 251.9,142.6 256.1,144.8 259.3,145.9 261.8,146.7 265.8,147.7 267.8,148.3 270.5,149.3 273.3,150.5 274.4,151.1 275.9,151.3 279.1,151.0 279.8,151.1 278.6,151.9 277.9,152.5 277.4,153.0 276.1,153.8 274.9,154.6 276.5,154.5 274.7,153.6 276.1,153.6 277.6,154.5"/>
<polyline points="244.8,152.9 248.9,150.9 252.7,149.8 255.2,148.4 259.0,146.7 261.7,145.7 263.5,144.8 266.4,143.3 267.3,142.9 266.5,144.3 265.0,144.1 265.4,143.8 265.1,143.8 265.6,142.5 264.0,143.1 263.0,143.0 267.4,142.2 268.1,141.8 268.9,143.0 270.1,144.1 272.0,144.8 271.5,144.6"/>
<polyline points="248.9,149.0 253.6,148.0 256.9,147.3 261.0,146.4 263.3,145.9 266.5,144.6 269.0,144.4 271.8,143.7 272.9,143.4 274.5,143.2 275.1,142.3 276.1,143.7 272.6,143.3 270.2,141.2 270.4,142.2 270.3,141.9 271.2,141.1 272.4,142.0 268.5,141.3 266.0,140.9 266.8,140.5 269.1,142.6 271.4,142.9"/>
<polyline points="248.1,141.7 252.0,142.8 255.9,142.8 259.4,143.5 263.9,144.0 266.7,144.2 268.7,145.1 270.0,144.8 270.1,145.2 271.6,145.8 273.4,147.1 273.4,147.4 272.0,146.1 273.6,144.9 271.1,146.5 268.5,146.2 269.3,145.7 269.9,146.4 266.1,145.4 269.1,145.0 267.7,145.1 268.7,146.6 266.6,146.7 267.3,146.0"/>
<polyline points="258.0,148.0 259.3,149.5 261.1,149.9 258.8,147.3 257.2,147.0 257.4,145.2 256.1,143.4 257.4,142.8 258.0,141.5 258.5,141.1 257.9,140.1 256.7,141.0 254.4,140.5 253.0,142.5 254.0,142.8 254.0,142.7 250.4,141.7"/>
<polyline points="240.4,150.2 245.0,148.3 246.9,147.7 252.4,146.0 255.4,144.9 257.3,144.0 260.5,142.9 262.2,142.2 263.8,141.5 267.9,142.1 270.8,141.5 271.9,141.8 270.8,141.9 272.5,142.2 274.0,143.6 275.5,143.3 272.7,143.3 270.4,144.2 270.4,143.4"/>
<polyline points="245.0,149.4 249.9,150.4 252.3,151.0 257.3,151.3 259.9,152.1 262.9,152.1 265.2,152.7 266.9,152.7 266.5,152.3 266.8,151.9 270.7,153.8 268.4,155.3 273.0,155.3 273.0,155.2 277.2,155.2 273.1,154.2 270.8,153.1 270.3,153.4"/>
<polyline points="248.6,148.0 252.3,150.2 254.9,151.8 257.2,153.2 258.9,153.7 259.0,153.8 261.6,153.1 260.5,153.8 260.5,155.9 259.8,156.0 260.2,155.0 255.8,153.9 257.4,152.7 256.1,154.7 253.1,154.8"/>
<polyline points="254.5,156.0 256.5,153.0 259.2,150.0 261.7,146.7 262.9,145.2 262.6,144.9 262.1,144.5 263.0,143.7 258.7,144.6 257.3,144.1 257.0,144.9 256.3,143.3 261.3,143.8 266.6,142.3 267.4,143.5"/>
<polyline points="239.6,150.0 243.3,150.1 248.0,150.4 252.0,150.0 255.0,150.3 258.7,150.4 261.8,150.7 264.8,151.0 268.9,151.4 271.6,151.2 273.7,151.2 276.1,151.7 278.2,151.4 279.3,151.3 277.7,151.2 278.0,150.3 276.9,149.5 275.9,149.2 276.6,151.1 276.5,150.8 273.9,151.7 275.3,152.5 275.1,154.7 276.6,153.9 277.9,154.1 281.2,154.7 277.7,155.4"/>
<polyline points="245.2,140.8 248.8,142.2 252.1,143.3 256.1,144.4 259.7,145.3 261.6,146.2 263.2,146.2 261.8,146.6 262.1,147.5 259.7,148.6 258.6,148.5 253.8,148.9 254.2,150.8 253.7,152.5 255.0,153.4 255.2,150.9 254.1,150.3 254.2,149.7 250.5,149.9"/>
<polyline points="255.8,144.5 259.6,147.0 263.0,149.8 265.4,151.0 267.2,152.7 268.4,153.8 269.6,153.5 273.0,154.8 272.3,153.7 269.2,152.4 270.8,150.9 268.9,150.8 265.2,149.4 265.9,151.7 265.6,150.8 269.2,150.3"/>
<polyline points="238.9,139.3 243.2,141.1 246.6,142.0 249.6,143.5 253.1,144.6 256.5,145.9 260.0,147.1 262.8,148.7 264.5,149.3 266.5,150.3 267.2,150.2 266.4,150.4 264.6,148.6 260.6,150.2 262.0,150.3 263.1,150.7 262.0,149.6 263.4,151.4 262.2,150.7 262.3,152.0"/>
<polyline points="249.0,141.8 252.9,142.6 256.6,143.3 259.7,143.5 261.7,143.6 264.2,144.0 264.2,143.0 263.1,142.4 262.9,140.8 262.8,141.0 263.1,141.1 262.0,140.6 261.4,142.6 259.8,141.8"/>
<polyline points="255.4,145.7 258.6,143.8 263.1,142.7 266.3,141.3 268.2,140.1 270.3,139.7 269.0,140.5 274.2,140.0 277.0,140.1 276.0,139.9 277.6,140.4 279.8,140.0 278.9,139.0 279.1,139.6 279.2,140.7"/>
<polyline points="243.4,154.6 246.3,152.1 250.0,149.6 254.0,147.0 255.2,145.7 257.9,143.7 258.8,142.7 259.1,143.4 257.4,141.3 257.4,142.2 258.2,143.1 258.3,143.5 258.9,143.1 253.6,144.3 252.2,146.2 251.9,145.4 252.3,144.7 251.1,145.3 251.6,145.4 249.9,145.7"/>
<polyline points="255.8,151.5 260.1,149.2 263.8,147.6 265.8,146.7 267.6,145.1 267.3,146.4 265.7,145.3 268.1,143.6 269.7,143.6 265.9,146.3 260.7,145.9 259.1,143.9 259.6,143.9 255.2,143.7 256.4,142.7 253.6,141.8 256.0,142.7"/>
<polyline points="254.8,143.2 258.4,144.1 260.7,144.5 262.3,145.3 262.3,145.3 261.6,144.9 261.2,143.7 260.9,144.4 263.1,142.2 264.4,142.6 263.9,140.6 262.8,141.8"/>
<polyline points="239.0,154.6 243.5,153.9 246.7,153.4 250.0,152.3 252.0,151.8 254.8,151.4 256.2,150.7 257.2,151.3 258.5,152.2 256.6,151.7 255.2,150.5 254.0,149.9 253.7,148.5 256.4,147.4 253.5,147.6 254.2,148.1 252.6,148.4 251.1,148.9 250.9,148.2 250.5,149.3 251.8,149.7 251.0,150.3"/>
<polyline points="257.0,147.2 260.5,144.4 263.4,145.7 264.9,147.5 264.5,146.4 265.3,146.4 263.7,146.5 263.4,146.5 259.9,146.6 259.5,146.5 259.4,146.8"/>
<polyline points="245.6,141.5 249.0,141.8 253.1,143.0 257.0,143.4 261.4,144.1 262.9,144.7 266.6,144.7 269.3,145.1 272.2,145.5 273.6,146.0 274.9,146.1 273.7,146.7 274.1,145.0 271.7,144.7 274.1,143.8 274.2,143.8 274.7,145.5 274.4,146.0 274.6,146.5 276.0,149.0 279.9,149.7 280.0,150.3 280.4,150.9"/>
<polyline points="239.1,140.5 243.4,141.5 247.6,142.5 249.9,142.7 254.5,144.0 257.1,144.5 259.8,145.5 260.2,146.0 257.8,145.1 258.1,146.1 257.8,146.8 256.0,147.2 261.2,146.5 259.4,145.9 259.7,145.8 260.9,146.9 262.5,146.4"/>
<polyline points="243.1,147.7 247.3,147.7 251.0,147.6 254.3,147.9 257.2,148.3 261.4,148.3 264.1,148.3 266.7,148.4 268.9,148.3 270.8,148.6 272.5,148.4 271.1,148.5 271.0,148.1 269.5,146.9 269.5,145.9 274.0,148.4 275.4,148.0 273.3,147.7 273.5,149.9 272.1,151.7 271.2,151.1 270.0,150.3"/>
<polyline points="255.5,140.0 259.8,141.9 263.1,143.4 265.5,144.1 268.5,145.3 271.9,146.2 272.9,146.7 269.8,146.9 267.6,147.4 267.7,148.2 269.1,147.7 268.4,149.4 271.4,151.2 271.4,151.4 273.1,152.5 274.3,152.3 275.3,151.0"/>
<polyline points="240.6,149.3 245.0,148.7 249.7,147.9 253.5,147.1 256.8,146.2 260.4,146.0 264.2,144.9 266.7,144.4 268.3,144.2 270.7,143.9 273.4,143.2 274.4,143.1 274.9,143.0 273.1,142.2 274.8,142.2 275.7,142.3 272.8,142.6 272.4,142.9 272.7,142.3 273.3,143.7 275.0,143.5 275.0,142.6 274.4,140.5 275.5,140.5 271.6,142.0 273.2,141.8 272.1,141.6"/>
<polyline points="247.0,147.2 251.8,147.3 255.6,146.7 259.0,146.3 261.5,145.6 265.1,145.3 267.9,144.9 270.2,144.9 273.2,145.0 273.7,144.6 274.6,145.7 274.3,146.3 274.8,145.7 273.3,147.4 274.4,147.0 273.0,144.7 276.0,144.8 278.0,144.6 276.0,144.7 275.6,144.4 274.6,143.6 272.4,145.6 271.0,145.2"/>
<polyline points="334.1,148.6 342.0,147.3 347.4,146.6 354.2,145.9 360.1,145.0 365.1,144.5 370.0,143.9 373.1,143.2 375.2,142.9"/>
<polyline points="334.2,149.3 342.3,148.6 347.3,148.4 353.6,147.9 359.9,147.5 361.0,147.5 364.9,147.2 370.3,146.2 373.7,145.8 377.5,145.3 379.2,144.9"/>
<polyline points="347.9,146.0 357.1,145.8 365.3,145.5 369.8,145.2 374.8,145.0 376.0,144.9 380.5,144.5 382.8,143.8"/>
<polyline points="375.1,143.2 387.4,142.4 398.3,142.5 407.7,142.1 411.0,141.8 416.9,141.6 427.3,141.3 435.6,140.8 441.0,140.5 445.5,140.8 448.6,140.7"/>
<polyline points="410.9,143.2 416.8,142.5 420.8,141.4 420.9,141.5 425.4,141.7 429.2,142.0 431.7,141.8 432.7,142.0"/>
</g>
<g fill="none" stroke="#b45e2c" stroke-width="0.7" stroke-opacity="0.85" marker-start="url(#mb)" marker-mid="url(#mb)" marker-end="url(#mb)">
<polyline points="99.5,163.6 109.5,163.9 122.3,164.4 134.4,164.9 145.8,165.7 150.0,165.9 154.4,166.4 168.5,167.5 175.9,167.7 187.5,168.4 194.0,169.3 197.2,169.5 203.6,169.6 213.1,170.0 222.2,170.9 228.4,171.4 234.5,171.6 240.2,171.8 242.4,172.5 247.2,172.4 251.8,173.0 257.2,173.7 260.2,173.9 262.0,173.9"/>
<polyline points="202.3,157.0 209.7,157.2 219.9,157.5 225.1,158.2 226.1,158.3 234.0,158.7 237.7,159.2 242.6,159.8 244.8,160.3"/>
<polyline points="125.0,171.6 136.5,172.1 146.9,172.9 155.2,173.8 162.6,174.5 171.1,175.7 181.3,176.8 190.4,178.2 195.8,179.5 202.7,180.8 211.0,182.2 217.4,183.7 221.0,184.5 228.4,186.6 231.4,187.3 233.7,187.7 234.8,187.9"/>
<polyline points="127.7,184.0 140.0,183.4 150.4,183.3 157.7,183.0 166.0,183.0 174.7,183.2 184.0,183.5 194.8,184.5 200.4,185.1 209.3,185.2 214.4,186.1 223.8,186.9 228.5,187.4 232.8,188.2 235.1,188.4 234.9,188.7 235.3,188.0"/>
<polyline points="141.7,173.9 153.1,172.5 163.0,170.5 172.3,169.6 180.5,168.4 191.5,166.6 197.2,165.8 207.6,164.9 214.8,164.1 221.9,162.9 227.7,162.3 234.8,161.5 238.1,161.1 242.9,161.0 246.4,160.4 246.4,161.3 245.3,161.8 249.4,160.6"/>
<polyline points="104.6,178.3 116.2,179.8 127.9,181.1 135.1,181.7 144.8,182.5 154.0,183.2 165.7,184.2 171.5,184.7 183.3,185.1 189.2,185.5 196.1,185.2 204.1,185.7 211.6,185.7 221.3,185.5 225.9,185.7 235.2,185.1 241.3,185.3 244.9,184.6 250.4,184.4 254.6,184.5 259.3,183.8 260.7,184.3 261.4,184.3"/>
<polyline points="121.7,171.3 133.1,171.1 141.0,171.9 150.5,172.8 159.8,173.4 169.4,174.0 176.1,174.8 187.3,176.5 193.0,177.2 201.9,178.9 206.4,179.1 213.1,180.6 219.3,182.0 223.6,182.9 227.2,183.2 230.3,183.7 230.3,184.3 233.7,183.4 230.1,184.0"/>
<polyline points="121.8,178.9 131.8,180.6 141.5,180.9 150.5,182.2 161.5,182.4 171.1,182.9 180.3,183.0 188.3,183.4 193.4,183.3 202.0,183.0 209.8,183.1 217.1,182.7 223.6,182.5 229.6,181.7 238.2,181.4 243.5,180.6 246.7,180.7 250.2,180.2 252.9,179.8 252.4,180.7 252.7,180.0"/>
<polyline points="107.2,191.7 118.8,191.3 124.9,190.3 136.5,189.5 146.1,188.3 154.9,187.7 162.4,186.2 172.3,185.3 181.1,184.1 186.8,182.9 195.9,181.0 201.2,179.7 208.1,178.8 215.1,177.1 219.5,176.5 224.4,175.0 228.6,174.6 230.1,173.6 231.5,174.8"/>
<polyline points="109.5,187.3 121.2,186.1 129.1,185.7 138.4,185.0 149.0,184.4 158.3,183.6 168.6,183.4 177.9,183.1 184.0,182.8 191.1,183.0 199.8,182.9 207.7,183.3 215.4,183.1 222.4,184.0 230.6,184.3 235.3,184.1 240.3,184.6 245.6,185.0 251.3,185.7 254.8,185.8 256.9,185.7 258.1,187.5"/>
<polyline points="140.7,182.4 150.4,183.8 162.3,184.8 169.5,185.5 180.3,186.1 188.9,186.7 200.1,187.5 206.0,187.0 217.6,187.4 222.0,187.2 229.1,187.3 236.7,186.8 242.8,187.0 245.9,186.7 248.8,186.1 246.0,187.1 241.2,187.6 239.8,185.5"/>
<polyline points="122.5,178.5 134.7,176.2 143.0,174.7 150.8,172.6 161.1,171.3 174.3,169.2 183.3,168.4 190.6,167.7 197.5,166.8 207.5,166.2 215.4,165.9 221.0,165.5 230.6,165.2 235.6,164.6 241.3,164.6 245.0,164.8 250.6,164.7 252.5,164.8 253.0,166.3 256.3,165.6"/>
<polyline points="170.0,183.9 178.1,182.7 187.1,182.0 197.7,181.4 205.2,181.2 210.3,181.5 219.7,181.4 224.4,181.8 228.6,182.4 234.2,182.5 236.7,182.7 238.8,179.3"/>
<polyline points="184.0,169.1 196.3,170.1 202.5,169.6 212.6,169.5 221.9,168.9 229.1,167.9 233.9,166.8 241.2,165.7 244.8,165.0 248.1,163.6 247.2,161.1 247.7,162.6 246.9,162.5"/>
<polyline points="190.9,176.8 202.2,176.3 211.0,176.7 219.8,176.8 226.5,177.1 233.0,177.7 235.6,178.2 234.9,177.2"/>
<polyline points="206.7,182.4 218.7,183.0 226.8,183.0 234.6,183.5 242.1,184.4 248.0,185.0 253.1,185.6 256.8,186.3 256.5,187.6 257.0,187.7 258.6,188.2"/>
<polyline points="156.2,179.1 163.9,179.3 175.7,179.6 183.8,179.5 193.2,179.5 203.0,179.8 209.8,179.8 216.9,179.8 225.7,179.3 232.3,179.3 235.9,179.2 242.7,178.8 246.6,178.8 251.4,178.9 254.5,178.5 253.4,176.7"/>
<polyline points="152.7,183.4 163.5,182.4 172.5,181.8 180.5,180.8 191.3,179.6 199.4,179.0 209.3,178.1 216.7,176.9 223.3,176.6 231.0,175.1 234.9,174.6 243.3,173.8 249.3,173.1 252.8,173.1 256.5,172.2 259.6,171.9 260.4,173.6 262.8,173.6 261.0,174.5"/>
<polyline points="156.8,181.2 168.1,182.8 177.0,184.8 184.2,185.3 195.4,186.5 204.0,187.5 209.3,187.5 219.1,187.6 222.9,187.7 232.2,187.7 235.9,187.8 240.5,187.5 243.2,187.1 239.1,187.5"/>
<polyline points="102.2,181.3 107.0,184.3 109.1,185.2 112.5,187.4 113.9,187.7 114.0,186.1 110.0,185.5 110.3,185.5"/>
<polyline points="105.0,179.3 110.2,178.4 112.9,177.8 114.0,176.7 109.5,176.7 109.2,176.2"/>
<polyline points="103.0,181.6 107.3,180.4 110.0,179.5 112.6,178.5 111.6,178.2 111.1,178.5"/>
<polyline points="100.9,180.4 104.8,182.0 107.2,183.7 110.2,184.8 112.6,185.6 112.0,183.2 113.5,184.4"/>
<polyline points="172.0,167.7 177.9,168.6 182.6,169.8 186.3,170.7 188.1,170.7 187.9,171.1 185.6,172.2 183.8,172.8"/>
<polyline points="172.1,172.7 176.6,171.5 181.9,170.4 185.9,169.5 189.9,168.7 193.2,168.0 194.8,167.5 195.3,170.9 190.2,171.9 186.8,173.3"/>
<polyline points="167.6,167.9 172.8,168.7 177.9,169.0 183.1,169.4 185.7,169.7 187.8,169.9 190.2,170.6 192.1,170.1"/>
<polyline points="172.7,174.5 178.1,172.2 181.7,170.8 183.7,169.5 182.8,169.9 184.6,168.2 184.5,167.2"/>
<polyline points="166.9,163.8 172.2,165.0 177.3,165.4 182.3,165.7 186.3,166.4 188.5,165.9 186.7,167.2 185.6,168.7 185.8,167.7 189.8,167.7"/>
<polyline points="243.8,168.9 247.8,170.1 251.2,170.8 255.5,172.3 258.8,173.1 262.6,173.9 266.7,175.2 268.8,175.8 271.7,176.8 274.4,177.6 276.7,177.9 278.1,178.7 279.5,178.5 282.6,178.6 283.0,179.2 281.4,180.2 280.3,180.3 279.4,181.2 280.2,182.2 278.1,183.1 280.3,183.8 282.2,184.5 283.0,185.6"/>
<polyline points="236.8,164.2 239.5,167.1 242.4,170.1 244.7,171.7 247.8,175.0 249.7,177.2 252.0,179.3 253.2,180.8 254.8,181.9 255.3,183.3 256.5,183.3 253.4,184.3 252.7,182.7 250.2,184.2 250.0,183.2 247.6,181.2 248.2,181.4 246.9,181.3 247.5,181.0 246.3,179.8 245.0,181.6 247.3,181.0 247.7,182.4 250.6,183.5"/>
<polyline points="240.0,159.0 244.4,160.5 248.3,160.9 251.1,161.7 255.3,163.1 257.6,163.8 261.6,164.2 264.1,164.9 266.4,165.9 268.3,166.0 269.4,166.1 270.8,166.7 273.2,167.0 273.1,165.8 277.0,165.0 276.0,165.4 275.3,166.5 273.3,165.6 273.7,164.3 273.9,164.1 273.9,164.0 275.4,163.9 278.1,165.7 278.1,166.5 279.4,167.2 278.3,167.7"/>
<polyline points="235.0,156.2 238.5,159.9 241.3,162.9 243.9,165.6 246.0,168.1 247.6,170.5 249.7,172.3 251.3,174.6 252.8,176.5 253.6,176.8 256.2,177.0 255.3,176.1 253.6,177.1 254.3,175.4 254.5,175.6 253.2,175.6 250.6,173.6 250.4,174.1 251.3,173.5"/>
<polyline points="234.6,171.8 238.4,172.0 242.4,172.4 245.2,172.5 249.4,173.1 251.6,172.9 253.8,172.9 254.7,173.4 255.7,173.0 252.2,173.4 249.0,174.3 244.5,174.2 248.7,175.1 249.2,174.3 249.4,174.5 251.6,175.8 250.8,175.8 250.2,176.1"/>
<polyline points="248.9,163.5 252.2,164.0 256.3,164.8 260.7,165.1 263.6,165.9 266.5,166.2 269.1,166.9 272.2,167.5 275.1,167.3 276.7,167.8 277.4,167.6 276.1,167.3 273.3,167.8 275.3,166.5 278.1,166.9 280.8,165.9 281.9,165.5 277.7,166.2 276.4,167.2 278.4,166.0 276.2,165.7 275.6,164.8 277.8,165.5 276.3,165.5 275.0,166.5"/>
<polyline points="248.6,182.3 250.9,178.3 253.0,175.0 254.9,171.7 256.6,169.2 258.1,166.1 259.5,163.6 261.6,160.8 262.3,159.0 263.6,157.2 264.5,156.2 266.8,157.0 268.1,157.1 267.6,158.8 270.0,158.0 271.0,157.7 272.9,159.3 275.9,159.8 276.4,158.7 279.8,157.6 279.2,157.6 277.7,157.6 275.5,158.5 274.7,156.7 276.8,155.9 274.8,156.3"/>
<polyline points="237.1,187.2 240.6,183.9 242.3,182.4 245.5,179.2 248.3,177.1 251.6,174.0 253.0,172.2 255.1,170.6 257.4,168.3 258.6,167.0 260.6,165.5 261.0,164.4 259.0,166.1 255.4,166.6 255.6,167.7 255.3,167.0 258.1,166.7 258.6,166.6 254.9,166.5 254.8,166.9 256.0,167.7 259.7,168.9 258.2,170.4 258.5,169.6 257.5,170.9 256.1,170.4"/>
<polyline points="245.2,167.0 247.7,169.7 252.0,172.6 254.6,175.1 256.8,176.7 259.4,178.5 261.7,181.2 263.9,182.2 264.6,183.6 265.9,184.1 264.4,181.6 264.5,181.3 265.7,179.5 268.8,180.1 267.7,179.5 269.8,179.7 270.4,178.4 267.2,179.4 266.5,178.8 265.6,178.0 266.8,177.7 269.4,176.0 267.6,176.0 269.2,174.6"/>
<polyline points="253.6,182.6 255.0,179.0 256.4,175.3 258.2,171.3 258.5,169.1 260.3,166.7 260.5,164.8 261.3,163.4 260.6,164.0 260.4,161.9 266.0,161.6 266.4,161.7 267.3,162.4 266.7,162.1 270.0,162.9 268.3,162.6 271.2,163.2 270.7,163.3 271.9,163.0 273.6,163.4 277.9,159.8 279.5,160.4 275.9,159.6"/>
<polyline points="247.2,158.4 250.1,161.7 252.6,164.8 254.6,167.5 256.6,170.7 258.4,172.2 260.3,175.2 262.1,177.4 264.5,179.9 266.1,182.7 268.1,184.8 269.0,186.0 269.7,187.6 270.4,188.0 268.8,188.1 264.1,188.0 265.4,188.3 267.5,187.8 266.2,188.4 267.9,188.7 269.8,188.7 272.9,188.9 274.7,189.7 270.9,190.0"/>
<polyline points="247.1,177.4 251.0,178.8 254.7,180.2 258.5,182.3 260.9,182.9 264.1,184.1 266.0,185.0 267.1,185.1 265.3,185.8 263.3,185.6 259.4,183.6 260.4,182.1 260.6,182.5 260.3,182.9 255.5,181.9 255.9,181.1 257.1,182.0 253.0,182.1 252.0,184.0 252.2,185.8 249.9,184.7 244.8,184.3 245.6,184.4 246.5,186.5"/>
<polyline points="245.9,171.5 249.5,172.8 253.0,174.0 254.6,174.6 257.8,175.6 259.4,176.0 261.4,177.0 263.7,175.4 263.8,174.1 264.7,173.9 259.9,176.0 259.8,176.6 261.0,176.2 262.9,177.1 263.2,177.4 263.5,175.4 266.5,173.8 266.2,174.2 266.0,174.0"/>
<polyline points="235.4,185.4 239.9,184.8 244.1,185.1 247.7,184.5 251.3,184.1 255.7,184.1 258.2,183.3 261.4,183.4 265.0,183.1 267.3,182.7 269.4,182.7 271.0,182.7 272.2,182.7 267.0,183.4 268.2,183.0 270.0,184.0 271.4,185.4 272.3,185.9 270.3,184.8 270.3,184.3 269.0,184.3 270.8,183.2 272.8,182.7 272.1,181.9 271.0,183.5 269.5,185.0 269.9,186.7 268.2,188.0 269.4,189.4"/>
<polyline points="239.2,182.0 242.5,179.5 245.8,177.5 250.2,174.1 251.9,172.4 255.6,170.0 257.1,168.7 260.1,166.6 262.8,165.1 264.4,163.2 266.1,162.0 268.3,160.6 268.8,159.9 270.9,160.0 273.3,160.1 273.4,160.3 270.7,161.1 272.3,160.4 274.8,162.0 273.9,162.0 274.0,162.0 274.7,161.4 275.2,161.6 273.6,161.3 273.1,163.1 270.1,163.8 270.7,164.8 271.4,163.4 271.0,163.2"/>
<polyline points="245.1,162.3 248.5,164.9 250.8,167.5 253.7,169.9 256.4,172.7 259.8,175.1 261.3,176.5 264.1,179.4 265.6,180.3 267.8,182.6 269.0,184.0 270.8,185.4 271.4,186.0 270.6,185.9 267.7,186.0 268.2,185.5 271.8,186.6 269.8,186.4 271.3,185.5 270.9,185.4 270.9,186.7 269.4,187.3 269.4,188.9 270.0,189.7 267.2,189.8 266.0,189.1"/>
<polyline points="238.6,183.8 241.3,179.9 242.9,175.7 244.3,173.8 246.6,170.3 248.6,166.7 249.6,164.7 251.5,161.9 252.4,159.1 253.4,158.3 253.8,156.7 252.0,157.2 253.0,155.4 252.0,154.5 249.9,154.2 252.4,154.1 251.4,154.4 253.6,154.1 254.3,154.7 254.9,155.9 256.1,154.7 256.9,155.2"/>
<polyline points="254.1,189.9 257.8,187.7 261.1,185.7 263.9,184.4 266.4,182.8 269.5,181.4 271.4,180.5 273.6,179.5 274.5,178.5 275.7,178.3 279.9,179.3 279.7,177.8 279.8,179.6 273.7,180.5 273.0,181.0 274.8,180.9 276.5,181.0 275.4,182.5 278.7,182.5"/>
<polyline points="247.9,180.1 250.6,178.9 254.0,176.7 258.3,173.8 260.8,171.7 263.4,169.8 265.2,168.8 267.5,167.1 269.8,166.3 270.4,165.7 267.1,165.8 268.2,166.5 265.7,167.2 264.9,166.7 261.6,166.3 261.2,165.9 261.1,165.0 260.2,163.5 256.1,164.1 257.4,164.5 252.7,164.1 257.1,164.5 256.1,166.1 255.7,166.5 255.2,166.9"/>
<polyline points="234.5,162.8 238.2,163.5 242.7,164.7 245.0,165.4 248.1,166.3 253.0,167.3 255.8,167.9 259.1,168.8 261.8,169.1 263.9,169.6 266.7,170.1 268.3,170.8 270.0,171.4 271.1,171.4 271.4,170.8 271.8,170.4 272.3,171.4 271.7,171.2 274.3,170.7 271.5,168.7 273.9,170.2 277.7,171.5 274.4,171.3 274.4,171.9 276.1,173.0 280.8,172.6 280.0,172.7 277.4,172.0 276.3,171.2 275.2,171.2"/>
<polyline points="240.6,167.4 243.9,165.9 248.4,164.8 252.6,163.7 256.4,162.6 258.4,161.9 262.8,160.3 265.2,159.9 267.5,159.1 269.6,158.4 271.9,158.0 272.7,157.4 274.4,156.9 275.3,157.6 274.6,157.7 276.4,158.0 277.6,158.7 280.1,159.5 278.3,158.8 276.9,156.3 277.0,155.2 277.3,155.1 278.6,154.7 278.0,154.0 280.2,154.0 283.0,156.1"/>
<polyline points="248.9,170.2 253.2,169.8 256.6,169.3 258.8,169.3 262.2,168.9 264.6,169.0 266.4,168.7 268.5,167.9 268.7,166.4 267.7,165.5 267.0,165.6 269.1,163.6 265.0,163.8 265.2,163.0 268.5,162.4 264.4,162.2 262.6,162.7 264.0,164.0"/>
<polyline points="236.8,185.2 240.3,184.7 245.6,185.0 248.0,184.4 252.6,184.7 256.9,184.6 260.0,184.3 262.7,184.2 266.2,184.2 268.6,184.4 270.5,184.1 273.1,184.0 275.9,183.7 277.5,183.8 278.3,184.0 278.6,184.0 278.8,183.6 278.6,184.7 276.6,184.1 278.9,182.3 279.2,181.5 278.6,180.5 279.0,179.1 279.3,181.1 282.5,180.5 282.4,181.2"/>
<polyline points="256.5,178.3 260.3,180.1 263.6,181.0 267.8,182.8 270.6,183.8 274.0,185.0 275.8,185.5 278.7,186.5 280.2,186.8 274.1,185.6 274.7,186.6 273.7,187.6 276.1,188.1 273.8,189.7 273.0,190.0 272.8,190.0 273.5,189.9 273.4,189.6"/>
<polyline points="250.7,183.1 252.0,186.8 253.3,189.9 255.7,188.5 254.3,187.0 253.5,186.4 256.1,185.4 257.5,185.0 257.7,185.2 258.7,184.7 262.9,186.3 264.4,187.3 267.5,188.6 264.3,189.2 264.7,189.5 261.2,188.5 262.1,189.8"/>
<polyline points="257.1,165.3 256.9,168.4 256.8,172.0 256.1,176.1 256.2,177.8 255.2,176.6 254.0,177.3 250.2,178.7 251.4,177.3 251.8,176.0 250.6,176.1 248.7,177.6 249.1,176.6 248.4,176.6 249.4,176.1 250.5,177.3 250.8,177.7 249.8,179.7 251.0,180.3 252.4,181.4"/>
<polyline points="250.2,187.6 255.2,186.0 258.0,185.3 261.5,184.5 264.6,184.0 267.8,183.2 272.0,182.4 274.0,181.8 276.5,181.1 277.2,180.9 280.7,181.5 282.2,180.8 283.0,180.1 283.0,181.2 283.0,181.5 280.4,181.0 283.0,179.3 278.7,180.3 279.2,179.8 277.1,178.1 276.5,176.2 277.6,176.1 277.8,176.2 276.0,177.0 276.5,175.6 277.6,175.9"/>
<polyline points="245.3,167.0 249.3,167.6 253.6,167.4 257.2,167.8 259.1,167.6 263.8,167.5 267.0,167.8 269.0,167.9 272.6,167.9 275.1,168.2 276.6,167.9 278.8,168.2 280.0,168.2 278.0,167.9 277.7,168.9 279.5,167.8 279.7,168.1 279.0,166.9 282.1,167.1 282.6,167.5 283.0,167.8 283.0,168.0"/>
<polyline points="234.2,176.1 237.5,177.8 241.9,179.3 246.0,181.1 248.4,181.9 251.7,183.7 254.6,184.5 257.6,186.2 259.0,186.4 261.0,187.2 259.2,186.5 257.7,187.1 255.0,187.3 253.1,187.2 253.4,188.8 256.2,188.5 254.5,189.4 253.7,190.0 255.2,190.0 251.9,190.0 252.9,190.0 252.6,190.0"/>
<polyline points="243.8,185.4 246.9,183.8 250.6,180.3 252.8,179.1 256.1,176.0 257.9,174.4 261.3,172.0 262.9,170.6 265.4,169.0 266.9,167.3 268.3,166.2 268.8,166.2 270.6,165.4 271.7,165.2 269.6,163.0 269.2,162.9 269.6,165.5 271.7,165.6 273.4,165.7 276.5,165.5 278.0,164.6 276.7,164.7 276.1,163.6 275.7,163.9 279.3,164.4 281.9,164.8 280.7,163.1 278.6,164.4"/>
<polyline points="251.2,166.7 253.2,164.6 256.2,162.6 258.9,160.9 261.6,158.8 263.1,157.9 264.7,156.5 265.6,154.0 264.6,154.0 260.6,155.0 259.6,154.0 261.8,154.5 260.5,154.0 261.3,154.0 264.5,155.6"/>
<polyline points="238.3,176.7 242.5,176.8 245.5,177.0 249.3,177.0 252.9,177.0 256.3,177.4 259.9,177.5 262.4,177.2 263.1,177.4 265.3,177.0 262.8,177.0 261.3,177.6 260.3,178.1 259.7,176.9 262.3,176.1 261.8,174.9 260.8,174.9 262.3,173.1 266.0,172.1 261.7,172.4 262.5,171.9 265.4,173.1 265.1,173.6 261.8,174.0 260.2,174.3"/>
<polyline points="237.0,180.7 240.8,178.6 244.4,177.0 247.5,175.7 252.0,173.0 255.4,171.1 257.3,170.3 260.6,168.2 263.1,166.7 265.4,165.9 268.0,164.3 270.3,163.0 272.6,162.0 274.2,161.0 274.9,160.1 275.5,157.3 276.3,158.5 275.0,159.4 274.3,159.2 273.0,159.6 271.4,159.0 269.9,159.0 267.7,159.0 266.6,158.6 266.0,158.7"/>
<polyline points="235.4,165.2 239.5,165.1 243.6,165.8 247.8,166.1 250.4,166.6 254.8,167.4 256.6,167.1 260.2,167.4 261.7,168.0 263.4,168.1 261.5,168.4 262.1,168.9 260.9,169.4 258.7,169.6 258.4,170.7 256.4,169.4 255.6,169.8 256.9,169.3 255.6,170.7 255.1,168.8 254.4,169.6 258.0,168.3 256.6,169.8 259.4,170.2 259.2,172.6"/>
<polyline points="255.5,168.9 258.7,170.5 263.2,172.7 265.2,173.8 269.5,175.4 272.1,176.4 275.5,178.2 276.9,178.4 278.0,178.9 276.0,179.3 273.9,179.6 275.1,180.2 275.4,181.0 279.1,181.1 280.1,181.6 281.3,180.3 282.0,180.8 283.0,179.4 283.0,180.1"/>
<polyline points="244.4,178.3 247.6,179.2 252.2,180.6 256.4,181.4 259.0,182.4 262.3,183.8 262.7,184.2 263.6,185.5 265.0,186.5 264.4,186.9 266.2,186.6 268.0,186.1 266.9,186.1 269.9,187.5 271.3,187.9 272.0,188.0"/>
<polyline points="238.1,173.9 241.8,174.2 246.3,173.6 249.6,173.6 253.6,174.3 257.7,174.1 260.9,173.9 262.7,173.9 264.7,174.0 266.1,174.2 265.3,176.2 262.5,175.5 260.2,174.4 260.7,173.7 261.5,173.5 261.8,174.9 259.4,174.9 258.8,175.5 259.6,176.2"/>
<polyline points="247.0,156.9 251.1,158.7 254.7,160.5 257.7,162.0 260.2,163.1 263.8,164.7 267.2,165.7 269.3,167.0 272.0,168.2 274.1,169.1 276.0,170.2 277.7,170.6 278.8,171.1 280.5,173.1 279.2,171.5 275.2,172.0 277.4,172.5 275.9,172.8 274.5,170.8 270.9,170.3 274.4,170.1"/>
<polyline points="245.1,169.2 250.1,168.7 252.0,168.6 256.9,167.9 259.9,167.6 263.9,167.0 267.0,166.9 269.6,166.2 272.2,166.3 274.5,166.0 277.0,165.3 278.8,165.5 280.1,165.2 283.0,163.9 282.1,164.4 279.9,166.6 283.0,166.7 283.0,167.6 283.0,169.8 283.0,170.9 280.7,169.8 283.0,169.3 283.0,167.8 280.9,168.9 280.8,169.3 282.8,169.2 283.0,170.4 282.2,170.4"/>
<polyline points="250.5,158.3 251.8,162.2 252.7,165.4 253.7,169.1 254.1,172.1 255.3,176.0 256.0,178.3 256.9,181.8 257.2,184.5 258.1,185.8 258.5,188.3 258.6,189.0 261.3,190.0 260.8,188.9 262.4,189.9 264.2,188.9 261.6,189.0 262.8,188.7 262.4,189.4 259.3,189.5 258.9,189.4 257.6,190.0 256.9,189.8 257.1,190.0 258.8,189.7"/>
<polyline points="199.9,190.0 212.4,190.6 222.2,191.2 228.0,191.4 237.4,191.9 239.9,191.9 246.6,192.5 252.6,193.2 259.3,193.9 264.6,194.3 270.2,195.0 272.3,195.3"/>
<polyline points="150.3,189.1 162.2,189.7 172.5,189.7 184.4,190.4 193.4,191.0 199.8,190.7 202.8,191.0 209.9,191.1 221.1,191.5 227.2,192.1 234.4,192.4 241.7,192.6 246.9,192.4 253.1,192.7 256.3,192.8 257.8,193.3"/>
<polyline points="374.2,182.2 374.8,184.8 374.9,185.1 373.7,187.5 373.6,188.0 374.1,188.8 374.6,190.2"/>
</g>
<g fill="none" stroke="#2aa055" stroke-width="0.7" stroke-opacity="0.85" marker-start="url(#mg)" marker-mid="url(#mg)" marker-end="url(#mg)">
<polyline points="110.8,252.0 124.1,251.8 136.6,252.0 140.0,252.1 147.3,252.2 157.3,253.0 160.3,252.9 168.2,252.3 176.1,251.1 182.2,250.3 184.9,250.2"/>
<polyline points="103.0,259.3 114.3,258.7 129.7,258.7 140.0,258.7 141.0,258.2 151.5,257.9 164.5,256.5 172.9,255.9 175.2,255.8 180.4,255.5 189.2,254.2 198.1,253.3 202.1,252.7 207.9,252.0 209.9,252.3"/>
<polyline points="104.2,264.6 116.4,263.8 127.2,263.5 140.3,263.3 141.4,263.2 154.3,261.8 165.2,261.3 175.6,260.5 180.2,260.3 182.2,260.0 192.2,258.9 200.1,257.9 207.0,257.2 213.4,256.7 217.0,256.5 219.8,255.7"/>
<polyline points="117.8,268.8 131.6,268.7 142.9,268.4 149.9,268.0 151.4,267.8 162.0,267.4 174.6,266.9 182.0,266.5 190.2,266.3 192.1,265.8 200.1,265.4 208.1,264.9 216.8,264.2 223.8,263.7 229.2,263.4 234.3,263.2 237.4,263.2 239.8,262.7"/>
<polyline points="99.3,276.5 112.1,276.2 128.2,276.6 141.6,276.3 149.9,276.0 153.7,275.9 168.4,275.9 180.9,276.0 197.5,276.1 207.4,275.8 220.2,276.2 221.5,276.1 231.9,275.9 240.6,275.6 253.2,275.4 262.2,275.4 272.2,275.7 279.8,275.3 281.5,275.5 287.6,275.2 296.4,275.5 302.4,275.4 308.6,274.9 313.7,275.3 318.1,275.2 320.1,275.1"/>
<polyline points="108.3,262.3 114.7,265.8 118.1,264.9 125.0,262.1 126.3,261.9 137.0,260.0 145.8,258.5 149.7,258.1 155.8,256.8 162.4,255.6 171.1,254.0 179.1,252.1 185.1,251.1 190.1,250.0 193.5,249.5 199.0,249.0 205.9,248.2 211.8,247.8 218.0,247.2 221.8,246.9 225.7,246.6 228.5,246.4 229.7,246.0"/>
<polyline points="144.1,264.0 153.5,260.5 162.3,258.3 169.0,256.2 180.2,253.5 187.6,251.8 192.6,250.3 197.6,249.1 203.0,247.9 205.9,247.1"/>
<polyline points="150.6,258.4 160.2,257.3 167.7,256.1 179.6,254.0 187.9,252.6 195.1,250.8 203.6,249.3 208.6,248.5 215.1,247.1 219.7,246.1 222.8,245.7"/>
<polyline points="131.5,260.5 140.2,259.1 148.5,257.3 158.9,255.7 168.3,254.5 175.4,253.4 183.9,252.3 190.6,251.1 196.7,250.7 203.3,249.9 207.7,249.2 210.6,248.9"/>
<polyline points="135.4,259.6 144.1,256.7 153.7,254.1 161.5,252.0 168.0,249.9 178.3,247.4 182.0,246.5 188.6,244.2 194.4,242.7 196.2,242.3"/>
<polyline points="159.7,266.2 169.8,263.5 178.3,260.7 184.7,258.5 194.8,255.8 202.3,253.3 208.8,251.9 213.5,250.6 220.6,248.7 224.3,247.9 227.4,247.4"/>
<polyline points="133.3,259.2 145.0,257.8 151.0,257.2 160.5,255.6 169.7,254.6 178.6,254.0 183.6,253.5 191.1,252.5 197.7,251.6 204.7,251.1 209.9,250.6 214.2,250.3 215.7,250.0"/>
<polyline points="167.5,270.2 177.8,265.3 187.1,261.1 194.6,257.1 201.6,253.7 206.4,251.4 213.7,247.1 219.1,244.0 223.5,241.7 226.0,240.0"/>
<polyline points="149.1,260.4 159.4,259.3 167.0,258.3 178.1,257.3 188.1,256.1 194.9,256.1 204.0,254.6 212.8,254.1 218.7,253.4 227.9,252.5 235.4,252.1 241.9,251.2 248.6,251.1 255.3,250.6 259.4,250.3 263.3,249.9 268.2,249.5 270.1,249.0"/>
<polyline points="147.7,257.3 156.0,256.7 167.9,256.9 176.1,256.8 183.5,256.9 194.1,256.8 205.4,256.5 214.3,256.3 220.7,255.9 228.2,256.0 236.7,256.0 245.2,255.3 250.9,255.0 260.3,254.7 267.4,254.9 271.9,254.1 279.2,253.9 283.7,253.8 290.8,253.5 294.8,253.3 299.3,253.0 304.4,252.7 307.8,252.6 309.8,252.5"/>
<polyline points="191.8,262.4 199.6,261.1 208.7,259.4 217.8,257.6 229.4,255.7 239.3,254.1 246.7,252.6 255.1,251.4 259.7,250.7 267.3,250.1 276.4,248.8 280.8,248.7 288.3,247.9 294.1,246.8 298.2,246.6 301.5,246.5 303.7,245.8"/>
<polyline points="180.8,266.9 191.6,265.1 201.6,263.1 209.5,261.3 216.3,260.3 225.9,258.9 232.9,258.1 239.4,257.4 246.2,256.2 250.4,256.0 254.7,255.4 257.5,255.4"/>
<polyline points="153.4,267.8 163.0,266.5 170.4,265.5 181.1,264.0 188.9,262.6 199.6,260.9 206.3,259.6 216.0,258.4 223.2,257.1 227.9,256.5 237.5,254.8 243.9,253.4 250.0,251.8 253.6,251.3 259.4,250.4 264.0,249.5 268.4,248.8 269.6,248.2"/>
<polyline points="194.7,265.6 204.4,261.9 212.7,257.9 218.5,255.1 224.5,252.1 229.1,249.1 234.4,246.1 237.2,244.1"/>
<polyline points="132.1,271.3 140.4,270.5 149.0,269.4 161.4,268.1 168.2,267.3 177.7,265.7 185.6,265.0 195.2,263.7 202.0,262.8 212.5,261.4 220.2,260.3 226.0,259.7 235.9,257.7 242.1,257.1 248.0,256.2 255.3,255.4 262.6,254.0 268.8,253.6 274.2,252.4 279.8,252.0 284.7,251.0 290.7,250.4 294.8,249.6 298.3,249.2 301.5,248.8 302.9,248.0"/>
<polyline points="145.4,265.2 153.4,263.9 161.9,262.2 172.5,260.2 181.6,258.5 191.2,256.4 199.7,254.1 204.8,253.1 214.0,251.3 219.5,249.9 226.3,248.6 232.9,246.7 237.8,245.5 242.4,244.8 247.4,243.4 249.0,243.0"/>
<polyline points="198.9,263.3 205.3,261.4 214.4,258.0 218.7,255.7 222.6,252.9"/>
<polyline points="166.9,267.8 175.0,266.5 186.7,263.7 196.6,261.5 204.6,259.0 209.3,257.5 218.1,254.9 224.8,252.5 230.4,250.7 234.5,249.1 237.6,247.8"/>
<polyline points="203.3,267.7 209.5,262.3 217.1,256.6 223.4,251.7 227.6,248.4"/>
<polyline points="198.0,262.2 208.6,260.4 215.5,259.6 223.7,258.4 233.2,257.3 244.2,255.4 249.8,253.9 258.3,252.6 265.7,251.0 273.9,249.4 281.1,247.8 286.5,246.9 293.0,245.8 298.2,244.3 303.6,243.4 309.4,241.5 311.9,241.5 314.2,240.6"/>
<polyline points="204.0,265.3 214.1,263.7 219.2,262.6 230.5,260.5 236.0,258.9 243.6,256.6 247.9,254.7 253.7,253.1 255.5,252.6"/>
<polyline points="239.8,252.2 250.6,251.6 256.5,251.8 269.7,251.2 275.3,251.1 284.5,251.2 293.0,251.4 297.7,251.2 305.7,252.0 311.8,252.1 317.2,252.4 320.7,252.4 323.6,252.1"/>
<polyline points="247.9,257.3 258.7,257.3 263.7,256.8 276.6,256.4 281.0,255.8 289.0,254.7 298.7,253.7 303.6,253.3 309.9,252.4 312.8,251.7 316.1,250.9"/>
<polyline points="248.6,270.7 256.0,268.1 267.4,264.0 273.9,261.9 281.5,259.9 289.2,257.7 296.9,255.5 304.7,253.6 308.3,252.4 314.0,251.3 316.4,250.9"/>
<polyline points="224.0,267.3 232.4,266.4 241.4,265.3 251.1,263.9 262.4,262.8 270.4,261.6 278.6,260.9 286.1,259.9 291.7,259.5 300.7,258.4 307.2,257.5 313.0,257.2 319.4,256.0 324.9,255.1 328.6,254.8 332.3,254.4 334.9,254.3"/>
<polyline points="247.8,254.6 256.1,254.7 265.1,254.8 275.6,254.5 287.1,255.0 294.5,255.2 301.0,255.7 309.0,255.5 312.2,256.3 318.0,256.7 321.1,256.7"/>
<polyline points="259.0,268.4 268.2,265.9 276.9,264.1 281.4,262.3 290.6,259.4 293.8,258.5 297.6,257.3"/>
<polyline points="250.1,253.2 260.7,251.7 266.5,250.5 278.0,248.0 281.6,246.8 286.8,245.1 291.2,243.4"/>
<polyline points="277.3,265.0 286.9,263.7 296.2,261.6 302.6,260.5 308.8,258.6 315.1,256.9 321.9,255.4 326.6,253.8 328.5,253.5"/>
<polyline points="274.5,269.1 284.8,262.7 289.1,260.0 296.8,253.6 300.8,249.9 303.5,246.6"/>
<polyline points="235.1,262.8 245.6,260.4 255.2,257.9 263.3,256.3 271.9,255.0 281.0,253.6 286.3,252.7 294.4,251.8 300.1,250.9 307.4,250.8 312.4,250.0 316.4,249.9 319.1,249.5"/>
<polyline points="177.9,272.7 185.9,272.9 198.0,272.4 205.5,271.7 216.3,271.7 222.9,270.7 233.7,270.5 239.2,270.6 250.1,270.0 259.5,269.0 263.9,269.0 274.4,268.5 279.1,268.5 287.8,267.9 294.4,267.7 300.2,266.9 305.5,266.4 310.6,266.5 315.6,265.8 319.9,266.0 325.7,265.4 328.8,265.2 330.8,264.9 331.7,264.9 331.0,264.0"/>
<polyline points="233.2,270.2 240.6,268.9 254.0,267.5 261.9,266.1 269.5,264.5 276.3,263.5 284.6,262.3 293.3,261.7 300.2,260.7 304.8,260.1 312.0,259.1 317.8,258.6 321.7,257.9 325.2,257.6 328.3,257.0 326.6,256.6 324.5,257.8"/>
<polyline points="242.9,263.3 253.4,262.8 264.7,262.0 272.7,261.6 282.0,262.0 288.5,261.3 299.4,261.7 303.9,261.3 311.2,261.4 319.6,261.4 325.0,261.4 330.7,261.7 334.4,261.7 337.2,261.4 336.3,260.8 338.7,261.3"/>
<polyline points="193.4,270.2 200.5,270.3 213.0,270.7 218.8,270.8 229.9,271.6 237.2,271.9 245.2,271.5 255.2,272.0 261.3,271.7 270.3,271.9 276.7,272.3 281.7,272.2 287.2,272.1 294.1,272.1 298.8,271.8 304.0,272.3 306.8,271.9 308.4,271.8 308.1,271.1"/>
<polyline points="260.7,263.3 271.6,261.9 277.1,261.4 287.7,260.2 294.8,259.6 298.5,259.6 302.6,258.7 301.6,260.5"/>
<polyline points="196.1,268.1 207.4,267.1 216.0,266.4 224.4,266.3 234.3,265.3 242.4,264.9 250.9,264.3 256.8,264.2 264.6,264.2 273.6,263.7 279.5,263.8 286.7,264.0 291.9,263.7 300.0,263.8 303.0,264.0 307.2,263.8 311.8,264.3 314.1,264.1 310.6,265.0"/>
<polyline points="176.9,271.2 184.3,271.6 197.3,271.3 207.2,271.2 215.6,271.7 223.4,271.7 231.6,271.2 241.7,271.5 247.9,271.9 256.4,271.4 263.1,271.8 272.3,271.9 280.0,272.0 287.1,271.6 292.7,272.0 299.9,271.8 305.9,271.8 312.0,272.0 317.9,272.0 322.1,272.4 327.9,272.3 330.7,272.7 333.8,272.3 336.0,272.3 336.3,273.2 335.2,270.7"/>
<polyline points="260.1,267.8 269.1,264.7 278.7,261.8 284.9,260.7 293.5,259.3 296.6,258.9 301.3,258.9 299.1,259.8 301.3,259.2 300.2,259.5"/>
<polyline points="214.5,267.9 223.8,267.8 234.0,267.7 241.8,267.6 252.4,267.9 258.4,268.0 266.1,268.3 275.9,268.3 284.3,268.3 289.4,268.4 297.9,268.3 301.8,268.7 309.2,268.4 313.0,268.7 319.8,268.5 322.9,268.9 324.6,269.0 321.3,267.9"/>
<polyline points="224.2,266.3 234.2,266.4 241.8,265.9 251.2,266.7 259.4,266.4 266.5,266.7 273.8,267.1 281.6,267.7 287.7,267.7 293.4,268.3 300.1,269.2 303.9,268.9 306.6,269.2 310.9,268.1"/>
<polyline points="191.8,262.2 202.2,263.5 208.7,264.6 220.9,265.4 227.4,266.2 234.9,266.8 244.2,268.0 253.6,268.5 259.6,269.0 269.8,268.9 276.4,269.3 280.2,269.7 289.0,269.5 291.8,269.5 297.2,270.0 303.5,269.5 306.7,269.8 308.7,270.0 310.7,270.0 311.3,270.9 313.5,270.0"/>
<polyline points="188.5,270.8 197.6,271.2 206.0,271.6 215.2,271.6 225.3,272.3 234.7,272.5 243.3,272.6 253.2,273.0 257.8,272.7 267.0,273.2 273.8,273.5 279.6,273.1 284.5,273.4 290.5,273.4 295.2,273.4 299.0,273.7 301.8,273.5 300.8,274.1"/>
<polyline points="277.3,257.5 280.3,257.6 284.6,257.5 288.6,257.7 292.2,257.7 295.8,257.9 300.3,258.0 303.5,258.0 307.0,258.2 309.2,258.9 312.5,258.4 314.5,258.7 316.9,258.8 318.2,258.7 319.1,258.9 318.0,259.4 316.0,258.5 317.0,257.5 314.8,257.7 316.4,257.5 316.0,255.9 315.8,255.9 315.8,256.4 314.8,254.8"/>
<polyline points="274.3,272.7 277.5,272.4 281.7,272.9 286.0,272.7 290.6,272.6 293.3,273.1 297.3,273.0 301.9,272.9 305.1,272.6 307.9,273.0 312.9,272.9 316.1,273.2 319.2,273.1 321.4,273.0 324.7,272.9 327.5,273.1 330.5,273.1 332.9,273.3 336.0,273.1 338.2,273.6 340.9,272.9 343.5,273.3 345.6,273.5 347.6,273.5 348.7,273.6 349.7,273.3 350.6,273.0 351.6,274.2 351.0,273.3 350.1,275.7 350.8,275.6 350.6,276.2 347.9,277.0 349.8,277.0 350.3,276.8 349.6,276.7 350.8,277.0 353.4,276.9 351.6,275.8 351.3,276.0 349.8,275.2 351.0,275.6"/>
<polyline points="285.2,272.0 290.4,271.0 293.8,270.7 298.1,270.0 300.8,270.0 304.4,269.4 308.5,268.4 312.5,267.6 316.2,267.0 318.7,266.9 322.9,266.5 324.7,266.1 328.3,265.2 332.0,264.8 334.3,264.5 336.4,264.4 339.0,263.4 341.3,263.3 342.9,263.3 344.6,262.9 345.4,263.1 345.0,263.2 344.6,263.1 341.8,264.2 344.1,266.1 342.2,266.3 344.4,265.6 344.0,265.1 343.1,263.3 345.0,262.3 346.0,262.4"/>
<polyline points="276.5,265.5 281.0,265.2 285.4,264.5 287.9,264.4 293.6,263.7 295.7,263.7 299.8,263.2 303.0,262.7 307.3,262.2 310.8,262.1 314.6,261.5 317.8,261.6 320.2,260.8 323.0,260.5 326.5,260.4 328.9,260.4 331.7,260.2 334.8,259.4 337.1,259.0 339.8,258.7 341.5,259.1 343.7,258.4 345.1,258.3 346.8,258.6 347.5,258.2 346.6,257.7 347.0,257.7 348.1,257.5 347.4,258.0 348.1,256.9 349.6,254.8 347.4,254.7 347.6,254.7 345.7,255.9 341.7,258.0 341.6,258.4 340.6,258.6 341.5,258.6 343.7,257.9 346.4,258.1 343.5,257.5"/>
<polyline points="292.7,255.3 297.6,254.9 301.5,254.5 305.5,254.9 310.1,254.1 313.4,254.5 316.2,254.1 319.7,253.5 322.8,253.4 325.9,253.2 329.2,253.2 331.2,253.1 334.3,253.0 336.6,252.7 338.1,252.9 339.4,252.5 339.1,253.9 337.6,253.3 338.9,253.0 336.8,253.7 336.8,252.9 338.2,251.9 339.9,251.0 339.6,251.0 338.8,251.0 338.4,251.9 339.6,251.3 339.8,251.0 340.0,251.0 342.4,251.0 342.3,252.0"/>
<polyline points="298.6,262.0 300.9,263.3 305.3,265.3 308.8,266.5 312.0,267.9 315.6,269.7 317.5,270.5 321.1,271.8 322.8,273.1 324.9,273.6 326.3,274.2 327.3,274.8 324.8,276.4 325.2,276.6 324.8,276.6 321.3,276.7 321.1,277.0 323.6,275.9 325.9,275.1 322.9,274.2 323.0,274.4 323.7,274.4 326.1,273.4 329.5,273.2 329.1,273.8 329.5,272.5"/>
<polyline points="295.9,265.8 300.4,266.7 303.8,267.7 306.7,269.1 308.2,269.7 310.8,270.0 312.5,270.6 312.3,270.3 312.2,269.2 313.0,268.7 313.5,268.6 313.4,269.4 309.6,270.7 307.8,270.0 306.4,269.9"/>
<polyline points="275.9,273.6 280.6,272.6 284.3,272.1 289.0,270.9 291.5,270.8 295.1,269.4 298.4,269.0 302.2,268.3 306.6,267.3 308.7,266.9 313.4,265.7 316.5,264.7 319.1,264.5 322.2,264.1 324.5,263.5 327.6,262.6 330.0,262.0 331.9,261.5 333.9,261.1 335.3,260.8 336.8,260.1 338.1,260.5 339.9,260.4 339.7,260.0 340.0,260.5 338.1,258.9 338.1,258.1 337.9,257.6 344.2,258.6 345.9,257.6 345.7,256.3"/>
<polyline points="276.2,269.3 280.7,268.1 284.9,266.8 287.8,266.4 290.9,265.6 294.6,264.5 298.1,263.6 302.0,262.8 305.5,261.7 307.9,261.2 311.6,260.2 315.4,259.1 318.0,258.8 320.1,257.7 321.9,257.4 324.7,256.7 326.1,256.3 327.5,255.9 328.8,255.7 327.1,256.5 328.8,255.5 329.1,256.5 330.2,257.1 332.5,255.2 334.7,254.8 335.8,255.0 335.3,256.9 336.7,257.2 336.4,258.1"/>
<polyline points="288.0,270.2 291.8,270.0 296.2,270.8 300.0,271.1 303.6,271.4 307.6,271.3 309.8,271.9 313.6,271.9 317.1,272.8 319.1,272.9 322.5,272.8 325.2,273.2 326.5,273.4 329.1,273.5 330.7,273.6 331.7,273.6 330.8,274.8 330.9,274.3 332.0,273.4 333.1,273.0 335.3,273.2 332.9,274.4 332.2,274.6 333.4,274.2 330.8,273.1 330.6,270.4 326.1,270.2 326.6,270.0"/>
<polyline points="291.6,256.4 296.8,255.6 299.6,255.7 303.4,255.5 308.1,254.9 311.6,254.6 314.7,254.4 317.2,254.4 320.2,253.5 322.9,253.8 325.9,252.9 327.7,253.3 329.3,252.9 330.8,253.1 330.6,252.6 331.2,251.3 330.6,252.9 328.6,253.6 328.4,255.1 330.4,255.8 330.7,256.3 329.9,255.8 329.0,256.0"/>
<polyline points="296.3,267.9 300.1,266.5 303.8,265.0 306.3,263.7 309.2,262.5 310.7,261.9 314.0,261.6 314.7,260.7 312.1,261.5 311.5,261.1 313.8,262.1 315.2,261.4 315.6,262.0 317.3,261.9 321.0,262.9 319.0,263.2 316.9,262.3 314.9,262.6 317.7,263.0"/>
<polyline points="290.0,256.3 295.0,257.0 297.0,257.6 301.7,258.3 303.8,258.5 305.5,259.3 307.0,259.1 306.5,261.1 303.1,259.9 302.2,261.1 300.4,261.9 297.3,261.8 299.0,262.3 298.1,262.5 299.9,263.2 300.1,262.9 298.2,262.5 295.0,262.7"/>
<polyline points="293.1,263.6 297.9,263.5 300.5,263.5 304.4,263.2 308.3,263.1 312.5,262.7 316.9,262.2 319.5,262.1 322.8,261.9 326.4,261.7 330.5,261.4 332.5,261.1 335.2,261.0 338.4,260.8 340.4,260.9 342.7,260.3 344.9,260.9 345.9,260.2 347.3,260.6 346.6,259.7 348.1,259.3 348.6,258.0 350.4,259.3 350.3,258.1 348.1,258.2 348.3,257.3 350.0,256.9 347.5,257.9 347.7,255.5 345.9,256.8 346.5,257.7"/>
<polyline points="303.3,258.2 308.2,259.0 311.7,259.9 314.1,260.5 319.2,261.4 321.4,261.8 324.9,262.7 327.9,263.6 330.2,264.4 333.6,265.0 336.1,266.0 338.6,266.2 340.8,267.0 342.3,267.4 343.0,267.4 343.9,267.5 341.7,266.3 342.1,266.4 341.1,265.7 340.2,264.8 340.1,263.1 342.7,262.0 341.7,261.9 339.0,261.3 338.6,262.4 337.5,262.0 339.4,261.0 338.3,260.0 338.7,260.1 338.1,261.3"/>
<polyline points="272.6,268.2 276.0,268.4 281.8,268.9 284.3,268.9 288.9,269.4 292.6,269.8 297.3,270.4 300.6,271.1 303.4,271.1 305.9,271.6 309.6,271.8 313.5,272.5 316.3,272.4 319.2,273.0 321.4,273.1 323.6,273.7 325.8,274.0 328.0,273.9 329.4,274.0 330.6,273.9 329.3,275.7 326.8,275.1 325.9,274.9 326.7,275.1 326.5,274.9 323.3,273.7 324.7,273.3 325.2,273.0 323.6,272.2 323.9,270.9 320.7,269.9 319.0,268.7 316.4,268.7 316.8,267.3 320.5,266.6"/>
<polyline points="293.9,261.1 298.9,261.6 303.4,261.4 306.1,261.5 309.6,262.3 312.4,261.8 314.0,261.9 315.9,262.3 316.6,262.8 319.6,261.8 323.6,259.5 322.6,259.4 323.5,260.6 324.8,260.0 324.5,260.5 324.5,260.2 326.4,259.6 324.0,259.5 323.0,259.6 320.9,260.8 322.2,261.5 322.9,262.1 321.9,263.7 321.9,262.7"/>
<polyline points="273.5,272.7 276.1,271.3 281.4,268.4 284.4,266.6 286.9,265.6 290.3,264.0 293.9,262.4 297.2,260.3 300.0,259.2 302.3,258.5 304.9,256.7 305.6,256.2 307.7,255.2 308.6,255.0 308.5,254.2 305.9,252.9 304.9,251.7 305.4,251.4 305.6,251.0 302.0,251.2 303.8,252.7 307.1,252.4"/>
<polyline points="275.3,265.2 279.5,266.5 283.6,268.5 287.1,269.8 289.3,270.5 292.3,271.4 295.2,272.6 298.0,273.3 299.6,274.4 301.4,274.7 304.2,273.3 306.7,274.7 304.8,274.6 304.7,276.1 308.4,275.3 306.5,275.9 306.7,276.6 309.3,276.5 310.2,276.1 312.8,276.5 313.3,277.0 314.1,276.0 312.0,275.9 311.1,276.0 310.6,276.8"/>
<polyline points="277.4,270.8 281.6,268.9 285.7,266.5 288.6,265.5 291.0,264.3 294.4,263.0 298.1,260.9 300.3,260.2 302.8,258.6 305.8,257.0 307.4,256.6 309.5,255.5 310.2,255.6 309.5,255.4 309.8,254.1 307.4,254.3 303.0,254.2 305.0,253.2 304.3,252.1 303.3,251.5 304.1,251.0 305.0,251.1 302.0,251.0 305.0,251.0 304.5,251.1 305.4,251.0 303.4,251.0"/>
<polyline points="306.1,273.3 309.3,269.8 311.0,267.1 313.1,264.7 314.2,263.4 315.1,262.3 317.8,262.5 318.7,263.8 316.5,264.7 317.5,265.6 319.5,265.3 319.5,266.5 323.1,266.7 322.1,265.3 319.7,264.2 319.8,264.8"/>
<polyline points="288.6,265.8 292.6,264.4 295.3,262.8 299.0,261.8 301.4,260.4 302.8,259.8 302.2,260.6 300.6,259.8 299.4,260.0 298.7,259.7 296.9,258.7 297.1,258.2 299.5,257.7 298.0,257.7 298.8,258.2 301.4,257.7"/>
<polyline points="270.7,264.2 274.9,263.6 278.8,263.3 283.5,262.3 286.7,262.0 289.6,261.2 293.6,260.9 297.6,259.8 300.2,259.6 304.5,258.8 307.2,258.5 310.0,257.6 314.2,257.1 317.3,256.5 319.2,255.9 322.5,255.4 325.0,254.9 327.9,254.4 329.8,254.1 332.8,253.6 335.3,253.4 336.6,252.7 338.2,252.8 339.6,252.2 340.2,252.5 340.5,251.9 339.4,252.7 337.5,252.6 337.3,252.6 338.5,252.8 339.5,254.5 340.1,254.3 341.6,254.7 341.2,254.4 337.7,254.0 336.4,253.2 336.7,252.8"/>
<polyline points="283.7,264.8 288.9,264.5 292.2,264.0 295.7,263.8 300.9,263.3 303.9,262.9 307.0,263.1 310.3,262.6 313.4,262.0 316.2,262.2 319.0,261.9 320.6,261.9 322.5,261.3 323.9,261.7 324.4,260.1 322.3,260.5 321.8,260.9 321.3,261.1 321.4,261.3 322.5,261.3 319.6,261.9 319.3,263.0 316.3,262.7 317.0,263.2"/>
<polyline points="305.9,258.6 310.5,258.5 315.1,258.5 318.6,258.5 321.2,258.8 326.3,258.9 328.1,258.8 331.7,258.5 335.1,258.5 337.9,258.3 341.5,258.3 343.9,258.4 345.7,258.4 346.9,258.4 348.2,258.7 346.6,258.2 343.1,257.7 340.7,259.1 341.3,258.8 341.6,258.9 336.6,258.6 336.0,258.9 336.9,257.4 336.0,256.9 337.1,256.7 338.3,257.0 340.2,257.6 339.3,257.1 338.0,255.1"/>
<polyline points="287.8,267.9 290.9,267.7 295.1,266.8 298.3,266.5 300.9,266.3 305.1,266.1 307.2,266.1 309.7,265.6 312.6,265.5 313.3,265.4 314.3,266.1 317.0,267.5 314.3,266.9 313.9,265.9 316.3,265.1 314.4,264.7 316.1,265.8 313.2,266.1"/>
<polyline points="284.4,268.1 287.7,268.5 293.6,269.3 296.1,269.3 300.3,270.0 304.5,270.4 307.4,271.2 312.2,271.2 314.4,271.4 317.0,272.3 320.7,272.6 323.5,272.8 327.1,273.3 328.9,273.1 331.5,273.8 333.6,274.2 334.8,274.3 335.7,274.2 337.4,273.9 335.6,273.2 333.6,273.4 334.7,273.8 334.1,273.2 331.8,273.7 331.0,273.7 333.6,274.9 332.0,273.8 331.7,273.0"/>
<polyline points="301.2,269.9 305.2,267.7 308.4,266.1 311.6,264.2 314.8,262.5 315.9,261.5 317.7,260.6 314.9,260.7 316.1,261.5 319.5,261.9 318.7,262.1 318.4,261.2 320.2,262.8 323.0,263.2 324.4,263.2 325.2,262.7 328.7,263.6 329.4,264.8 333.9,266.2 333.9,265.2 336.3,263.8 334.2,263.8 334.0,263.1"/>
<polyline points="275.9,253.0 280.1,253.7 284.3,254.9 288.1,255.3 291.7,256.0 296.9,256.7 300.0,256.7 303.0,257.4 306.9,258.3 310.4,258.4 313.5,259.2 317.4,259.7 321.6,260.5 324.9,260.7 327.0,261.5 330.7,262.0 333.6,262.2 336.4,262.8 338.5,263.3 341.3,263.6 343.2,264.1 345.9,264.4 347.5,264.3 349.5,265.2 350.7,265.1 351.6,265.3 352.0,265.6 353.0,265.0 351.7,263.9 350.8,264.0 348.4,264.7 345.8,265.3 344.4,265.1 345.2,265.3 343.6,266.4"/>
<polyline points="268.1,276.1 272.5,274.8 275.8,273.9 279.3,273.4 283.9,272.6 288.5,271.1 291.3,270.6 294.9,269.5 298.8,268.6 302.3,267.8 306.1,267.5 308.6,266.6 312.8,265.5 315.6,264.9 317.9,264.8 321.8,264.1 324.2,263.1 326.4,263.2 329.1,262.2 332.1,261.9 334.0,261.3 335.4,261.1 337.6,260.3 339.6,259.6 340.5,260.0 341.7,259.2 340.8,259.4 339.9,261.5 340.2,261.1 343.4,261.6 340.5,262.1 343.1,261.7 343.8,262.7 342.0,263.3 339.6,262.6 341.1,263.7"/>
<polyline points="301.6,262.7 304.7,262.0 308.4,260.4 312.4,258.6 314.6,257.6 318.7,256.2 320.6,255.6 323.6,254.0 325.2,253.9 326.7,253.3 327.6,251.5 329.7,251.0 328.9,251.0 326.1,251.0 326.7,251.0 324.7,251.2 323.2,251.9 327.1,252.2 329.3,253.1 330.6,253.9 333.3,253.6 330.5,253.8 327.2,254.4 325.8,255.1 328.7,254.6 326.1,254.7"/>
<polyline points="277.8,275.5 281.9,275.4 285.6,274.8 290.3,275.0 294.3,274.6 298.8,274.0 301.5,273.8 306.0,273.3 308.7,273.1 312.3,273.0 315.5,272.8 318.6,272.5 321.2,272.9 324.6,272.1 327.2,272.0 330.3,271.9 333.6,271.7 336.2,272.0 339.2,271.2 341.0,271.5 342.5,271.4 345.1,270.9 346.1,271.3 347.4,270.8 348.6,270.9 351.8,272.5 349.4,273.9 348.7,274.3 345.5,274.7 345.2,274.6 344.7,273.6 345.0,272.4 346.1,272.7"/>
<polyline points="292.9,268.6 295.9,268.0 300.9,267.1 303.5,266.3 306.3,265.8 309.4,265.1 312.5,264.3 314.5,264.0 315.6,263.8 316.5,264.6 316.0,264.5 314.7,263.8 314.9,263.2 312.3,263.4 313.1,263.2 311.2,262.5 312.4,262.1 310.9,262.0"/>
<polyline points="303.0,256.9 306.7,256.4 311.5,256.3 315.1,255.8 318.5,255.1 320.7,254.9 323.6,254.9 324.7,254.6 322.7,255.2 319.3,255.3 318.8,256.4 319.1,257.6 318.4,257.8 315.3,258.4 313.9,257.4 312.8,257.7 312.9,256.3 314.2,256.8 314.5,257.8 317.7,257.7"/>
<polyline points="305.4,257.3 307.7,259.3 310.4,261.1 313.4,262.6 314.5,263.7 313.5,265.2 314.7,265.1 313.9,265.7 312.5,263.2 312.2,263.6 309.3,263.1 309.1,263.8 310.3,264.5 309.9,265.5 310.5,266.1 312.6,265.7 312.1,264.8 312.8,262.2 309.4,260.9 311.0,262.5"/>
<polyline points="280.4,270.1 284.9,269.9 289.0,269.5 292.3,269.0 296.7,268.7 300.0,268.9 303.9,268.5 307.9,267.9 311.4,267.9 314.3,267.9 317.0,267.4 320.9,267.3 324.6,266.5 326.0,266.8 329.0,266.8 331.2,266.6 333.7,265.8 336.8,265.7 338.2,265.4 340.4,265.8 341.8,265.8 342.8,265.3 341.7,265.0 343.3,264.1 344.2,265.8 342.0,266.2 341.6,265.1 340.3,265.5 340.6,265.4 339.6,266.0 339.7,266.3 337.1,266.6 338.3,266.3 338.3,266.9 338.1,266.0"/>
<polyline points="277.7,272.9 280.8,272.0 285.0,271.3 288.3,270.2 291.5,269.0 295.7,268.5 298.9,267.4 302.2,266.0 305.5,265.6 306.8,265.1 309.8,264.5 312.3,263.6 313.7,263.2 315.6,262.9 316.7,262.9 319.9,261.4 320.9,261.2 321.0,261.2 321.7,262.1 323.1,263.4 322.8,263.3 320.9,262.2 321.6,261.4 323.2,260.3 320.9,259.7 321.8,261.3 321.0,261.3 324.1,262.1 322.0,261.9 324.2,261.8 323.5,262.3"/>
<polyline points="270.3,270.7 273.4,269.6 277.9,268.4 281.7,266.9 285.4,266.1 288.7,264.8 291.3,264.0 294.3,263.5 296.7,262.3 300.8,261.2 303.2,260.3 304.5,260.3 306.5,259.5 308.7,258.8 309.4,258.4 309.9,258.5 309.3,257.4 313.0,257.1 312.8,258.1 309.1,257.1 309.9,258.0 312.5,258.4 314.3,257.4"/>
<polyline points="270.9,271.2 274.6,270.5 278.3,269.5 283.0,268.5 286.3,267.8 289.5,267.5 293.9,266.7 298.3,265.7 300.5,265.7 305.6,264.6 307.9,264.0 311.4,263.6 314.3,262.8 317.5,262.1 320.8,261.5 324.7,261.1 326.8,260.1 330.1,259.8 332.5,258.9 335.0,258.5 337.8,258.4 340.2,257.5 342.3,257.3 345.0,257.2 347.2,256.5 348.3,256.0 350.1,255.8 351.1,255.5 351.8,255.6 351.2,255.0 352.1,253.7 353.9,253.0 352.9,251.6 353.0,251.0 356.0,251.0 356.7,251.7 356.9,252.1 360.2,251.6 357.4,253.5 355.7,252.6"/>
<polyline points="282.9,263.0 286.9,262.6 291.8,261.2 295.6,261.2 299.8,260.4 303.0,259.8 306.4,259.0 310.1,258.5 314.8,257.8 316.4,257.7 320.2,256.9 324.0,256.1 326.5,255.9 328.9,255.3 332.8,254.7 334.7,254.8 338.0,253.6 340.8,253.7 343.4,253.2 344.7,253.2 346.5,252.6 347.9,252.1 348.8,252.5 348.0,251.9 349.0,251.0 348.9,251.0 348.8,253.0 347.6,252.6 349.9,252.9 349.0,253.4 346.1,254.7 346.3,255.1 341.8,255.3 340.9,255.7 342.2,256.3"/>
<polyline points="331.8,253.2 336.8,252.7 343.2,252.3 346.3,252.7 351.0,252.4 354.9,251.7 357.5,251.6 360.0,251.8 357.0,250.3 354.9,248.7 355.5,247.7"/>
<polyline points="337.3,253.8 342.2,252.6 347.5,251.0 350.3,250.3 353.7,249.0 355.0,248.5 354.5,248.0 352.9,248.5 355.3,248.8 356.0,245.9"/>
<polyline points="344.8,254.9 351.4,256.7 355.3,257.4 359.3,258.9 361.4,259.3 359.6,260.2 357.4,260.6"/>
<polyline points="335.0,255.7 340.5,253.2 346.2,251.5 348.6,249.8 353.4,248.1 354.9,247.5 354.2,247.2 353.0,247.3"/>
<polyline points="348.9,256.1 352.6,255.5 355.4,255.9 353.3,254.8 352.7,253.0 353.1,253.2"/>
</g>
<g fill="none" stroke="#b45e2c" stroke-width="0.7" stroke-opacity="0.85" marker-start="url(#mb)" marker-mid="url(#mb)" marker-end="url(#mb)">
<polyline points="112.2,293.3 118.0,295.9 119.9,297.1 121.6,297.5 126.0,299.6 130.6,301.1 133.8,302.4 134.7,302.8"/>
<polyline points="127.3,283.2 138.7,283.3 150.3,283.9 161.4,284.1 170.8,284.8 180.1,284.9 181.3,285.0 192.1,285.6 202.8,285.5 211.4,286.2 221.7,286.7 230.9,286.5 237.2,287.1 240.1,287.2 245.9,287.1 254.3,287.3 261.1,288.0 269.7,287.8 275.1,288.0 281.3,288.6 285.7,288.6 291.2,288.5 295.9,289.1 298.6,289.1 299.9,289.0"/>
<polyline points="111.2,292.0 124.2,292.8 135.6,294.0 146.3,294.8 158.2,295.6 160.2,296.2 170.3,296.8 177.0,297.0 187.9,297.9 198.9,298.1 210.3,299.1 218.4,299.1 226.6,299.6 230.0,300.3 236.2,300.4 242.1,301.2 251.8,301.7 257.6,302.3 265.6,303.3 270.2,303.2 276.7,304.1 280.9,304.4 285.0,304.6 288.2,305.1 290.2,304.9"/>
<polyline points="158.2,292.1 169.8,293.6 175.0,294.3 188.1,295.3 193.9,295.6 202.8,296.3 210.5,296.0 218.8,296.3 227.5,296.6 233.7,296.1 241.0,295.9 246.0,296.4 251.9,295.9 256.8,295.7 259.7,295.4 262.1,295.5 260.8,296.1 260.7,296.5"/>
<polyline points="117.8,290.7 126.1,291.0 135.2,291.4 145.9,291.7 157.0,292.3 162.8,292.9 174.7,293.4 182.9,293.6 189.7,294.0 198.1,294.9 208.6,295.5 214.5,295.8 226.2,296.6 232.0,297.0 241.1,296.9 248.0,297.4 252.7,297.9 261.6,298.9 266.5,298.7 275.0,299.3 279.8,300.2 284.3,299.9 289.5,300.5 296.3,301.4 300.5,301.4 305.6,302.0 309.4,301.9 311.9,302.3 313.7,302.8 311.2,302.2 316.1,302.2"/>
<polyline points="145.6,283.3 156.8,284.9 166.2,285.8 175.2,286.9 182.6,287.7 190.9,288.3 202.2,290.0 210.0,290.6 218.3,291.4 226.2,292.1 233.4,292.8 242.4,293.9 250.1,293.9 255.3,294.9 264.8,295.3 269.3,295.5 277.5,296.5 283.1,296.4 288.1,296.9 295.1,297.2 299.4,297.6 304.7,297.6 306.8,298.1 311.0,297.8 313.4,298.1 313.4,299.4 314.0,298.7 320.1,299.0"/>
<polyline points="123.5,298.2 134.0,299.4 142.1,300.5 149.8,301.7 162.3,303.0 169.0,304.0 178.7,304.8 188.2,305.6 193.0,306.3 203.6,306.8 209.1,307.6 217.9,307.7 224.1,308.4 229.3,309.0 235.1,308.7 241.1,309.4 247.1,309.9 252.0,310.0 256.9,310.1 261.6,310.2 262.6,309.8 260.0,308.3 260.0,309.5 260.0,308.3"/>
<polyline points="174.6,293.7 184.5,295.7 192.3,296.4 200.5,297.9 213.5,300.5 221.8,301.4 228.8,302.6 235.3,303.6 243.8,304.9 253.2,306.2 261.3,306.9 269.5,308.3 275.3,309.4 282.2,309.8 287.3,311.1 292.0,311.5 297.0,311.8 302.2,312.5 306.5,313.5 311.3,313.6 312.7,314.2 315.6,313.7 313.2,312.1 313.1,312.2"/>
<polyline points="115.4,284.8 122.6,285.2 133.2,285.7 146.3,286.4 155.4,287.2 160.4,286.8 172.4,287.6 178.8,287.8 187.5,288.0 196.4,288.9 205.0,289.0 210.8,289.4 217.6,289.7 225.9,289.6 231.4,290.1 238.1,290.5 244.8,290.7 250.3,290.4 254.2,290.6 260.4,290.7 263.4,290.9 267.5,291.5 269.4,291.2 265.3,291.5 266.9,292.0 270.4,292.4"/>
<polyline points="187.5,284.1 194.5,284.7 205.5,286.1 216.7,287.2 224.7,288.0 231.4,289.3 241.5,290.3 249.2,291.1 255.2,292.0 265.6,293.7 271.1,294.6 279.7,295.4 286.3,296.1 294.3,297.6 300.0,298.6 303.7,299.3 310.2,299.6 316.2,300.4 320.4,301.3 323.6,302.1 328.3,302.3 329.3,302.4 333.9,303.4"/>
<polyline points="118.5,286.4 129.7,287.3 139.0,287.6 144.9,287.9 156.7,288.8 164.2,289.4 172.0,290.3 183.7,291.1 189.6,291.5 198.2,292.0 208.0,292.4 214.5,292.7 222.5,293.0 231.3,294.0 237.5,294.2 242.4,294.5 251.2,295.1 256.8,295.1 263.2,295.8 268.6,295.7 273.2,295.9 278.5,296.4 284.8,296.7 288.5,296.4 293.2,297.1 295.5,297.0 297.3,297.2 298.7,295.6"/>
<polyline points="154.4,288.5 164.6,288.2 174.1,287.7 182.5,288.3 189.4,288.5 199.1,288.6 209.5,289.3 216.6,289.8 221.9,290.2 230.9,291.2 235.8,291.8 244.9,293.0 250.3,293.4 255.4,293.7 260.4,294.4 264.8,295.4 268.0,295.7 270.6,296.4 270.9,295.2 269.5,293.8"/>
<polyline points="131.7,294.8 141.4,294.1 153.0,293.3 160.1,293.4 168.9,293.0 177.3,292.5 187.1,291.9 195.3,291.7 204.6,291.6 211.2,291.9 218.6,292.2 225.5,291.9 234.2,292.1 239.8,292.3 246.1,292.7 252.3,293.0 258.0,293.2 263.7,293.9 269.5,293.9 273.2,294.3 277.9,294.4 279.3,294.4 282.6,295.9"/>
<polyline points="145.8,281.6 157.8,282.4 163.9,282.8 172.8,282.5 182.5,283.7 192.8,283.8 201.6,284.4 208.2,284.8 216.7,285.4 227.4,286.1 236.4,287.0 243.1,287.2 248.7,287.9 256.5,288.6 264.5,289.2 271.9,290.3 279.7,291.2 285.7,291.7 292.4,292.4 298.3,292.9 301.6,293.3 308.5,294.7 311.3,294.6 315.5,295.7 321.1,296.3 323.5,296.3 325.3,296.9 325.1,295.7 328.5,297.4 323.3,296.7"/>
<polyline points="164.5,282.0 174.7,282.6 183.1,283.0 193.2,283.2 201.7,283.5 212.7,284.0 221.5,284.4 230.0,285.2 236.0,285.9 245.7,286.5 252.4,287.1 257.1,288.1 263.6,288.6 270.5,289.2 277.6,290.2 281.7,291.0 288.6,291.5 292.7,292.5 296.4,292.7 297.7,292.8 297.0,294.5 294.1,293.1"/>
<polyline points="171.3,297.8 180.9,298.0 189.4,299.0 202.3,299.7 211.4,300.7 219.4,301.5 226.1,301.8 234.6,302.3 242.7,303.1 253.1,303.8 259.6,304.3 267.9,304.8 273.2,305.1 280.3,305.7 286.6,306.0 293.5,306.2 298.1,306.7 304.0,307.1 306.2,307.5 311.3,307.5 312.9,307.5 314.1,306.6"/>
<polyline points="177.2,286.2 184.8,286.1 197.1,285.6 206.0,285.7 213.4,285.8 223.2,286.4 230.5,287.3 236.5,287.8 244.7,288.2 250.3,288.7 255.2,289.3 260.7,290.6 264.9,291.1 267.0,291.2 267.0,292.1 269.4,291.4"/>
<polyline points="138.4,279.2 146.8,280.3 155.7,282.3 167.1,284.0 177.6,285.5 185.1,286.5 194.1,287.5 202.2,288.4 210.2,289.7 219.8,291.1 228.7,291.4 234.2,292.1 241.9,292.7 248.9,293.4 257.7,294.2 264.8,294.8 271.1,295.2 278.1,296.0 284.1,295.7 287.4,296.1 294.4,296.8 297.6,297.1 302.6,296.9 306.0,297.4 307.8,296.9 307.0,296.6 307.7,295.8 307.1,296.4"/>
<polyline points="122.0,297.0 131.5,296.2 141.3,295.9 150.5,295.3 161.7,295.3 167.3,294.7 176.8,294.7 188.1,294.7 195.2,294.2 204.9,293.8 212.9,293.9 220.3,294.1 230.5,294.0 235.7,293.8 245.3,294.2 250.9,294.0 260.3,294.4 264.5,294.5 273.7,294.3 280.9,294.9 285.3,294.6 292.4,295.1 298.7,295.0 302.6,294.9 309.1,295.3 314.0,295.6 317.4,296.1 321.8,295.8 325.3,295.9 329.4,296.1 330.6,296.6 329.7,297.2"/>
<polyline points="168.5,280.1 179.1,282.5 188.9,284.3 195.1,285.5 204.0,286.9 213.3,288.5 224.4,290.5 230.5,291.6 239.6,292.6 244.1,293.3 254.6,295.1 258.1,295.3 266.7,296.4 272.7,297.0 279.3,298.2 282.9,298.1 289.6,299.2 294.4,299.5 296.7,299.7 299.2,299.6 299.8,298.5"/>
<polyline points="183.5,289.0 191.8,289.4 200.9,289.3 213.7,288.6 218.3,288.5 230.9,287.9 239.6,287.1 243.9,287.3 253.8,286.4 261.8,286.3 267.3,285.7 273.2,285.3 281.6,285.1 287.2,284.4 292.8,284.1 297.8,283.3 302.8,282.8 304.6,282.7 307.6,282.6 311.5,281.5"/>
<polyline points="190.8,284.1 201.2,285.4 208.6,286.7 219.3,287.3 229.0,287.9 234.1,288.2 243.7,288.6 250.9,288.2 256.6,288.1 266.3,288.2 272.7,287.8 276.3,287.3 282.1,286.8 286.4,286.6 287.9,286.4 293.2,287.4 295.7,289.1"/>
<polyline points="130.1,288.7 141.4,288.7 147.5,288.6 161.9,287.5 167.8,287.8 178.7,287.3 186.5,287.2 197.6,287.0 204.4,286.4 211.6,286.2 222.5,286.5 230.4,286.3 236.7,285.7 247.4,285.8 255.1,285.6 261.4,285.3 269.6,285.2 275.0,285.5 283.1,285.2 289.0,285.4 292.7,285.4 300.3,285.1 306.1,285.1 311.9,285.4 316.5,284.9 319.4,285.3 323.2,285.3 327.3,285.0 329.0,285.4 327.5,285.6 326.6,286.4"/>
<polyline points="166.0,284.3 174.3,284.7 184.9,284.7 195.2,284.8 205.4,285.3 211.3,285.6 222.5,285.5 229.6,286.2 239.1,286.0 245.4,286.3 255.6,287.1 261.3,287.6 268.2,287.9 277.8,288.1 282.4,288.8 289.8,288.9 295.8,289.6 300.5,289.6 308.1,290.1 312.8,290.9 316.5,291.0 319.8,290.8 321.0,291.4 321.6,291.2 320.8,291.5"/>
<polyline points="124.0,282.9 133.2,283.7 142.1,283.9 150.7,283.8 161.5,284.2 169.5,284.5 179.2,284.4 188.3,284.9 198.1,285.0 203.5,285.1 216.0,285.0 220.3,284.9 230.2,284.9 236.4,285.0 245.4,285.1 253.1,284.6 258.4,285.0 267.8,284.5 271.6,284.5 279.3,284.3 285.6,284.2 292.5,283.8 296.8,283.9 300.8,283.3 306.0,283.3 311.5,283.1 314.4,282.9 317.9,283.2 319.7,283.1 322.6,281.9"/>
<polyline points="184.1,279.5 194.8,281.0 203.2,281.7 210.9,282.7 220.4,283.6 229.3,284.4 236.5,284.5 245.6,285.0 252.9,285.3 260.5,285.5 269.0,286.0 275.4,286.0 280.4,286.1 287.9,286.1 294.2,286.2 296.6,286.1 301.3,285.5 305.3,285.7 307.4,285.5 305.0,286.1 302.2,287.6 304.5,287.6"/>
<polyline points="191.3,279.2 199.7,280.3 208.4,281.9 218.2,283.4 228.0,284.2 235.5,285.3 243.4,285.9 252.3,287.0 256.3,286.9 264.3,287.1 270.2,288.0 276.0,287.7 280.3,287.8 284.5,288.2 287.5,288.1 289.0,288.9 291.1,288.3 287.0,288.4"/>
<polyline points="237.3,297.2 246.1,297.4 255.7,297.5 267.2,297.9 275.9,297.9 281.1,297.7 291.1,297.2 299.1,297.1 305.6,296.8 312.2,296.0 317.2,295.5 323.4,295.3 326.8,294.7 329.3,294.7 330.3,294.4 330.2,292.7"/>
<polyline points="206.4,292.5 215.4,294.0 224.9,294.7 236.4,295.9 246.2,296.7 252.8,297.4 263.4,297.8 270.4,298.3 278.9,299.0 284.3,299.1 293.0,299.1 302.7,299.1 308.7,299.3 312.9,299.2 321.3,299.6 325.6,299.0 330.8,299.1 335.0,299.0 337.6,298.7 341.0,298.5 343.5,299.3 338.5,298.3"/>
<polyline points="255.8,283.5 263.9,286.3 275.5,289.6 282.1,292.3 290.0,295.4 294.8,297.4 301.6,300.6 305.2,302.3 307.9,303.8 308.4,303.3 309.0,303.8 309.4,303.7"/>
<polyline points="195.8,281.7 204.3,282.6 212.9,283.6 222.8,284.4 234.5,284.9 242.3,285.9 252.0,286.6 258.0,287.0 266.3,287.9 273.3,288.0 282.4,289.2 291.1,289.2 296.3,289.9 302.5,290.4 309.4,290.7 314.4,291.5 321.9,291.8 327.4,292.0 331.6,292.6 335.3,292.8 339.1,292.5 340.6,293.0 336.3,293.3 334.8,293.2 339.8,293.4"/>
<polyline points="236.4,284.2 246.0,287.2 255.3,290.9 263.2,293.6 272.3,296.8 278.6,298.7 286.2,301.8 292.4,303.2 299.3,306.0 304.0,307.5 308.8,308.9 313.1,310.5 315.5,311.2 313.5,310.1 316.0,311.4 316.2,310.5"/>
<polyline points="240.1,299.5 250.4,298.6 258.1,298.3 267.7,299.1 276.9,299.6 283.0,300.5 290.0,301.2 295.0,302.4 300.2,303.6 303.4,304.3 303.0,306.4 301.3,305.3 301.3,304.9"/>
<polyline points="244.0,284.2 254.9,285.1 264.1,286.3 271.5,287.1 280.4,288.2 287.9,289.2 297.2,290.9 306.8,292.3 311.3,292.8 317.7,293.9 324.0,295.3 329.3,295.7 334.9,297.2 336.6,297.1 334.5,296.3"/>
<polyline points="248.4,285.8 256.8,286.9 269.2,288.3 277.8,290.2 283.3,291.0 291.2,292.5 300.0,294.3 309.2,297.0 314.1,297.8 321.5,300.1 327.0,301.7 332.0,303.0 337.0,304.4 340.6,306.1 343.5,306.7 345.0,305.4 346.1,304.1"/>
<polyline points="239.6,290.5 249.8,291.5 257.4,292.5 267.0,293.6 275.7,294.7 282.2,295.3 289.7,295.9 298.9,296.5 306.3,296.8 312.1,297.5 317.7,297.6 325.0,297.7 327.1,298.2 333.2,298.3 334.7,297.9 332.6,298.5"/>
<polyline points="251.1,289.1 261.9,292.2 268.2,294.3 279.6,297.4 287.2,299.7 295.6,301.9 300.2,302.7 309.3,304.7 315.5,305.9 322.3,307.4 327.0,308.7 333.7,309.6 339.0,310.8 341.8,311.5 344.0,311.9 339.8,312.1 342.7,311.6"/>
<polyline points="253.9,282.4 264.7,284.5 271.0,285.1 281.9,286.9 288.4,287.4 295.3,288.3 302.1,288.5 309.7,289.2 316.6,288.8 322.4,289.1 327.6,289.2 331.8,289.3 334.8,289.3 337.1,286.0"/>
<polyline points="252.5,278.4 264.5,278.3 271.6,278.5 282.3,278.4 287.6,278.3 299.4,277.2 305.7,277.5 313.3,276.6 318.4,276.4 325.7,276.0 329.9,275.5 334.7,275.0 336.6,274.7 336.3,275.6 338.9,273.2"/>
<polyline points="245.6,284.2 254.4,283.4 264.2,282.5 274.1,282.8 280.0,282.9 291.0,283.6 295.5,283.7 305.0,284.7 308.3,284.9 315.6,286.2 320.7,287.2 322.5,287.3 321.8,287.2 322.0,287.7"/>
<polyline points="233.5,288.5 244.2,287.3 252.4,286.3 260.8,285.3 268.8,283.8 276.3,282.6 284.6,281.4 293.6,279.9 300.2,278.2 306.4,276.9 310.9,275.8 316.6,274.9 319.4,274.0 322.1,273.5 321.9,272.1 322.8,272.5"/>
<polyline points="259.0,284.8 270.1,286.8 275.2,287.1 284.6,288.0 292.3,288.1 296.5,288.2 303.3,288.1 305.9,288.1 304.8,286.5"/>
<polyline points="221.9,287.4 232.4,286.1 238.6,285.5 249.1,284.4 257.6,283.5 265.2,282.4 276.0,281.4 282.3,280.3 290.7,279.4 296.5,278.5 304.3,276.8 308.5,276.4 315.5,275.5 320.0,274.7 324.2,273.9 328.1,273.0 330.5,273.1 331.1,271.4 332.9,270.9"/>
<polyline points="257.7,279.3 267.7,279.8 278.3,281.2 288.6,281.2 295.4,282.1 303.7,282.5 311.1,282.6 317.9,282.8 324.7,282.9 330.9,282.8 335.4,282.6 338.7,282.9 338.5,283.5"/>
<polyline points="238.4,282.6 250.0,279.8 256.5,278.1 264.1,276.7 273.0,274.8 282.7,273.6 289.1,273.7 295.0,272.9 299.3,273.0 302.1,273.3 302.3,273.2 300.0,273.4"/>
<polyline points="310.8,280.3 315.5,280.5 317.7,281.1 322.4,280.8 325.6,281.1 329.8,281.4 332.4,281.7 335.4,282.0 336.3,282.1 338.1,281.9 338.3,282.6 341.6,282.9 341.5,283.3 343.7,282.5 345.4,282.8 346.4,282.5 348.7,282.2 351.6,282.1 352.0,281.8 347.9,282.3 345.6,283.3 347.7,283.9 349.2,283.4 349.0,283.2 346.9,283.0"/>
<polyline points="317.5,272.5 321.5,272.5 327.2,272.9 332.1,272.7 335.5,273.4 338.0,272.9 341.6,272.9 345.1,273.6 348.2,273.1 350.8,273.3 352.6,273.7 354.5,273.4 357.1,273.9 357.6,274.4 355.5,274.1 354.8,274.8 355.1,274.1 354.5,273.6 357.4,273.2 356.1,273.5 357.1,275.3 354.2,274.8 353.0,275.8 350.9,275.6 350.7,275.6 351.6,275.3"/>
<polyline points="302.8,289.9 307.9,287.6 311.5,285.8 315.9,284.0 317.9,282.4 323.2,280.6 325.4,279.4 328.5,277.8 332.4,276.5 335.2,274.9 338.0,273.5 340.0,272.8 341.9,271.5 343.8,270.6 344.7,270.1 343.7,269.4 338.3,270.6 339.0,271.5 341.7,273.6 344.8,273.7 346.4,274.0 346.6,274.9 348.8,274.6 348.0,273.4 344.9,273.2 341.7,273.3 342.4,272.8"/>
<polyline points="311.7,275.1 316.6,276.1 321.1,277.7 324.0,278.1 327.2,278.9 332.2,279.9 334.1,280.0 337.6,280.6 339.9,281.5 340.9,281.9 341.1,281.3 339.8,282.7 341.0,282.3 341.5,283.1 343.9,283.0 339.8,283.1 335.0,282.2 338.5,282.7"/>
<polyline points="312.3,271.9 314.7,274.7 317.7,277.7 320.4,279.9 323.5,283.6 325.0,285.0 327.0,287.6 329.6,290.3 331.0,291.6 331.2,292.5 332.6,291.9 336.3,290.3 336.1,289.9 335.6,288.7 335.1,290.1 334.6,290.1 337.7,288.5 334.8,286.7 333.9,286.1 333.5,286.3 330.4,287.0 329.4,290.0 331.6,292.0 333.0,291.4"/>
<polyline points="302.9,284.9 306.8,283.1 310.0,281.1 312.8,278.7 317.3,276.1 320.2,274.3 322.8,272.9 325.5,271.7 327.6,270.7 328.3,270.0 331.1,270.9 331.5,271.0 332.2,271.0 334.2,272.5 336.1,272.4 334.0,273.6 333.3,273.7 333.5,272.6 335.3,273.5 336.0,273.0 337.9,272.5 337.9,271.7 337.0,272.2"/>
<polyline points="326.3,283.7 331.0,282.5 333.7,282.0 333.5,280.0 335.2,280.0 335.0,281.0 336.1,281.8 333.9,282.4 337.2,282.0 338.2,281.4 340.6,282.7 339.8,283.2 337.9,284.2 336.4,283.8 332.3,284.0"/>
<polyline points="316.9,287.9 320.9,286.5 325.6,284.7 329.1,283.5 332.1,283.1 335.0,282.2 337.9,280.9 341.5,279.8 342.6,279.2 344.2,279.2 340.3,280.3 342.0,278.9 341.2,278.3 342.3,276.9 340.1,278.0 338.3,276.6 341.9,276.6 346.6,276.7 346.7,278.0 349.4,276.9"/>
<polyline points="312.3,297.8 316.1,296.2 320.5,294.5 322.8,294.0 326.4,292.2 329.9,291.4 332.7,289.9 335.9,288.5 338.4,287.8 340.9,287.0 342.6,286.4 344.3,285.7 344.9,283.6 347.8,285.2 349.9,284.4 349.5,284.2 350.5,283.6 348.1,282.2 348.2,283.1 349.1,282.8 350.6,282.0 353.5,283.1 351.2,281.5"/>
<polyline points="324.1,271.2 328.0,272.2 330.6,273.2 334.2,273.9 335.8,274.4 339.3,275.2 339.7,276.2 337.5,274.9 336.1,274.1 337.0,274.9 337.2,273.5 335.9,275.7 338.6,277.2 339.3,277.7 341.0,278.4"/>
<polyline points="324.8,287.4 327.6,284.3 331.2,280.5 332.6,279.1 335.1,275.9 336.1,275.1 336.9,274.8 339.3,273.9 337.1,273.8 337.5,272.5 334.5,273.3 336.7,274.0 335.5,273.5 335.4,273.6 336.6,274.0 339.4,273.1 339.6,269.8 340.7,269.1 344.8,269.5"/>
<polyline points="319.1,273.0 323.3,275.3 327.3,278.2 329.9,279.6 332.9,281.9 336.6,284.2 339.6,285.9 342.6,287.8 345.5,289.2 347.4,290.8 349.1,291.6 350.1,292.5 350.0,293.7 349.6,294.2 348.3,293.6 346.8,292.9 340.9,294.0 340.0,293.4 343.4,294.9 342.9,295.9 345.4,295.9 344.2,295.7 348.1,295.5 349.3,293.8"/>
<polyline points="320.5,295.7 323.1,293.2 326.5,289.1 328.6,286.7 331.8,283.3 333.4,281.9 335.5,279.2 337.4,277.1 338.9,275.5 339.6,274.6 342.8,275.9 341.8,274.8 342.6,273.7 342.5,273.4 345.1,273.8 342.2,273.3 339.8,273.0 341.0,271.8 342.6,270.5 344.5,269.9 344.5,269.9 341.8,269.0 343.0,269.9 344.2,270.2 344.5,271.5 347.1,272.8"/>
<polyline points="321.2,287.7 325.2,289.9 328.9,291.1 331.0,292.7 332.4,292.9 331.5,292.1 332.8,291.8 331.4,293.4 332.6,294.7 333.0,295.1 331.2,293.9 333.7,294.8 334.5,294.6 332.2,296.1 329.0,292.1 331.2,292.2 334.0,293.3 338.0,294.1 339.6,293.7 338.8,292.7 338.4,292.9"/>
<polyline points="328.5,292.6 331.7,289.9 333.4,287.4 336.7,285.1 340.4,281.5 342.9,279.1 345.7,276.8 347.5,274.9 350.0,272.6 351.6,271.3 353.2,270.1 353.6,269.2 350.9,270.0 351.6,272.3 351.2,272.2 351.0,271.0 349.1,270.4 347.0,271.3 347.1,271.3 348.8,271.7 350.0,270.9 351.4,272.6 352.6,273.9 349.2,273.4 347.0,273.7 347.5,273.2"/>
<polyline points="329.8,281.1 333.9,281.4 337.0,281.4 341.3,281.7 344.6,281.7 347.0,281.7 349.4,281.7 351.2,281.9 354.4,282.8 355.2,282.5 354.2,281.3 354.1,283.2 355.1,281.5 356.4,280.2 355.5,279.1 354.3,277.7 355.1,279.6 357.6,279.1 358.3,279.1"/>
<polyline points="301.4,280.9 305.7,281.9 308.6,282.4 313.2,283.7 318.1,285.0 320.9,286.1 324.0,286.9 327.4,287.9 331.2,288.7 333.8,289.8 336.9,290.3 339.1,291.3 342.2,291.5 343.6,292.1 345.6,293.1 346.6,293.0 342.5,292.2 339.3,293.6 337.4,294.0 335.8,292.8 334.3,291.8 334.1,292.1 333.2,291.1 334.1,290.2 337.1,288.9 338.9,290.5 338.4,290.7 344.1,287.8"/>
<polyline points="317.9,275.5 321.7,275.4 326.4,276.2 331.8,276.3 334.4,276.8 338.7,276.9 343.3,277.6 345.5,277.6 348.3,278.0 349.6,278.0 351.4,278.7 349.7,277.7 347.2,277.0 344.1,276.6 343.4,276.5 343.9,276.3 345.6,275.7 343.5,275.4 342.6,277.1 344.1,278.4"/>
<polyline points="325.7,288.6 327.9,286.9 331.9,283.1 334.4,280.5 336.7,279.2 339.2,276.3 340.5,275.5 342.1,274.9 343.3,273.5 340.1,272.1 341.8,272.4 342.0,273.1 340.5,274.5 338.1,275.6 339.3,274.7 339.1,274.5 336.3,273.7 334.3,274.8 332.5,274.4 334.1,274.9"/>
<polyline points="312.2,277.2 315.9,277.4 320.5,278.0 325.3,278.3 329.7,278.7 332.1,278.9 335.6,279.3 338.6,279.7 340.5,279.5 342.2,280.2 341.1,278.3 338.6,277.6 341.4,279.3 337.0,279.6 337.1,280.5 339.1,279.5 340.8,279.5 339.2,280.4 340.6,279.3 335.8,278.9"/>
<polyline points="300.7,279.1 304.9,277.6 309.0,276.9 313.1,275.9 317.2,274.8 321.0,274.1 323.6,273.7 326.1,272.7 329.8,272.0 332.1,271.5 335.1,271.0 336.2,270.4 337.3,270.2 338.6,269.0 337.7,268.7 336.3,269.1 333.3,268.9 332.8,269.2 333.5,271.0 338.4,271.9 339.4,272.5 339.3,274.3 339.1,273.1 341.5,273.1 343.8,272.5 345.3,270.8 348.5,270.0 352.0,268.7 351.0,268.6"/>
<polyline points="324.0,281.1 328.9,278.9 332.0,277.4 334.6,275.9 338.0,274.2 341.4,272.1 343.3,270.8 346.0,269.8 347.2,269.6 350.0,269.2 347.5,270.9 345.7,271.5 344.2,272.1 342.9,270.5 342.7,270.6 342.1,270.6 340.9,270.4 339.9,271.4 335.8,271.7 334.8,272.2 335.5,271.4 335.5,271.6 334.2,271.9 338.5,271.0"/>
<polyline points="303.3,296.3 306.4,295.3 311.9,294.1 315.4,293.4 318.6,292.3 322.4,291.5 326.8,290.3 329.0,289.4 333.3,288.6 336.0,287.6 338.2,286.7 340.7,286.4 341.6,285.7 343.1,286.0 344.7,285.0 344.5,283.9 345.9,283.6 345.5,283.6 345.5,283.5 351.1,283.9 348.9,284.5 351.7,284.8 356.4,284.8 354.6,285.0"/>
<polyline points="311.0,276.8 316.5,275.9 320.4,274.6 324.0,274.3 328.3,273.2 331.6,272.2 334.1,272.0 338.3,270.5 341.3,270.0 342.4,269.8 345.2,269.0 346.4,269.3 344.4,269.2 344.4,269.9 343.7,271.8 345.2,272.2 347.7,271.5 346.2,271.2 343.9,271.4 345.7,272.2 343.6,271.8"/>
<polyline points="326.8,275.8 330.6,273.9 334.8,271.8 337.4,270.0 338.5,269.2 340.8,268.5 336.5,269.8 340.2,270.9 341.2,270.1 344.3,269.8 342.8,270.2 341.9,268.8 339.6,268.9 341.0,270.2 340.2,271.6 340.8,272.9 341.3,273.2 340.4,274.9 344.0,274.5 348.1,274.8 348.6,274.3"/>
<polyline points="302.9,271.5 306.2,273.7 309.0,275.6 313.2,279.2 315.4,280.5 318.9,282.8 321.2,284.6 324.1,286.3 326.0,287.8 328.8,289.7 330.5,291.0 332.3,292.3 332.8,292.6 338.5,293.0 341.1,294.0 341.3,294.3 340.5,292.9 343.3,292.4 344.8,292.4 345.7,290.8 343.4,290.8 342.3,292.9 343.0,292.3"/>
<polyline points="321.8,289.9 325.1,290.8 328.2,291.7 328.7,291.7 327.5,294.2 324.7,294.3 327.2,296.0 327.8,295.5 327.1,295.3 328.1,293.7 331.6,293.6 334.4,294.5"/>
<polyline points="314.6,270.4 317.9,272.6 322.1,274.4 325.1,276.8 329.8,279.2 332.6,280.5 335.3,281.6 338.7,283.7 341.4,284.9 344.1,286.7 346.5,288.0 348.5,289.2 350.5,290.2 350.8,290.7 349.3,289.6 348.1,289.1 345.5,288.2 349.3,288.2 348.4,286.9 348.5,287.3 349.4,287.1 349.0,285.9 350.3,286.1 347.9,284.9 347.0,285.5 343.6,285.4 340.8,284.8"/>
<polyline points="317.1,268.7 318.7,272.5 319.9,275.7 322.1,280.0 323.9,284.1 324.8,286.2 325.4,287.3 328.0,287.2 326.0,286.2 327.0,286.4 328.9,285.5 328.1,284.3 324.5,285.2 325.7,284.4 324.2,284.0 320.9,283.7 325.0,284.9 322.6,283.8 320.8,284.5"/>
<polyline points="305.1,297.2 309.1,296.6 313.8,295.1 317.3,294.2 320.8,293.2 324.1,291.9 327.0,291.2 329.5,290.9 332.1,289.7 333.5,289.4 333.6,290.7 336.9,290.4 336.4,290.7 332.8,290.0 335.0,289.5 338.0,289.4 339.6,291.4 338.8,292.6 340.3,291.6 339.0,291.2"/>
<polyline points="309.2,292.8 313.1,289.8 316.6,288.2 320.1,286.4 321.9,285.0 324.2,283.5 326.7,282.2 329.7,280.6 331.2,279.7 333.0,278.5 334.1,278.3 336.3,278.8 335.1,278.6 333.9,277.4 333.9,278.2 337.3,277.9 338.3,277.9 338.1,278.3 337.3,277.2 336.9,277.6"/>
<polyline points="312.7,276.1 316.5,275.0 321.0,274.6 323.8,274.0 325.7,273.4 327.1,272.8 327.4,271.6 327.9,270.9 328.0,270.0 329.3,269.2 329.6,269.6 326.9,271.0 326.0,271.4 326.0,269.4 323.7,269.7 323.2,271.3 324.9,270.5 323.3,270.9 321.5,270.7 320.6,272.1"/>
<polyline points="345.1,299.8 347.4,302.4 349.3,305.0 349.8,305.9 351.0,307.5 353.5,309.9 354.6,311.9 356.2,312.8 355.3,312.6 353.9,311.2 352.8,310.7 352.2,309.9"/>
<polyline points="142.1,299.6 150.7,299.8 162.6,300.8 167.2,300.7 176.9,301.0 186.8,301.5 195.1,302.3 202.6,302.2 212.1,303.1 217.6,303.0 224.3,303.4 231.9,304.0 236.7,304.1 242.1,304.7 248.3,304.6 252.8,305.3 256.0,305.5 258.4,305.8"/>
<polyline points="174.1,299.1 185.1,300.2 192.5,300.8 202.0,301.9 213.4,302.2 221.6,302.7 229.4,303.3 236.7,303.5 241.8,304.0 251.5,304.4 256.4,304.2 261.8,304.2 265.9,304.6 268.1,304.4"/>
<polyline points="170.9,302.1 177.9,303.0 190.9,303.6 199.4,303.5 206.5,304.0 216.6,304.4 225.3,304.9 231.4,305.1 240.1,305.1 247.5,305.5 256.8,305.2 262.2,305.6 269.4,305.9 275.3,306.0 281.3,305.8 288.5,306.0 292.8,305.9 298.7,306.1 302.0,306.3 306.0,305.9 308.1,306.1"/>
<polyline points="165.9,302.4 173.9,303.0 185.1,304.2 196.0,305.5 202.4,306.4 213.8,307.2 219.6,308.3 226.7,308.8 234.3,309.6 243.1,310.0 248.1,311.0 254.0,311.1 259.6,311.9 263.9,312.2 265.9,312.1"/>
<polyline points="184.7,303.2 195.2,303.2 203.7,303.4 212.9,303.4 222.5,303.3 232.5,303.3 239.2,303.4 250.6,303.8 256.9,303.6 262.2,304.0 270.9,303.8 278.8,303.8 283.8,304.1 288.2,304.4 293.1,304.4 297.8,304.6 300.2,304.5"/>
<polyline points="526.6,285.0 534.3,286.0 537.4,286.5 539.1,287.3 544.1,288.7 547.9,290.0 549.4,290.9"/>
<polyline points="526.4,284.5 529.9,290.3 530.4,290.1 535.0,292.0 537.2,293.1 537.8,294.3 540.7,297.5 541.5,299.1"/>
<polyline points="525.0,283.8 526.6,285.0 527.8,286.1 527.6,286.4 525.9,286.7 526.2,286.8 527.2,285.0 527.8,284.3 528.8,283.5 529.0,282.9"/>
</g>
<g fill="none" stroke="#2aa055" stroke-width="0.7" stroke-opacity="0.85" marker-start="url(#mg)" marker-mid="url(#mg)" marker-end="url(#mg)">
<polyline points="100.7,376.9 114.1,376.5 127.0,376.3 139.9,376.2 141.6,375.8 152.4,375.1 164.8,374.5 174.5,374.1 187.0,372.9 190.1,373.2 198.7,372.7 209.2,371.7 218.2,371.1 228.8,370.6 238.1,369.8 240.0,370.0 249.3,369.4 257.0,369.7 265.6,369.0 270.4,368.9 277.8,368.5 284.4,368.6 289.1,368.1 294.4,368.3 298.0,368.1 300.2,368.0"/>
<polyline points="103.9,390.9 115.3,391.3 119.9,391.2 121.5,391.0 131.4,390.6 136.9,390.3 140.2,390.7"/>
<polyline points="101.7,395.0 113.4,394.5 120.2,394.6 121.0,394.4 127.4,394.1 133.6,394.2 136.9,394.2"/>
<polyline points="129.9,371.9 140.3,369.7 148.0,368.5 149.8,368.3 156.2,367.0 162.6,365.5 169.2,364.3 171.7,364.2"/>
<polyline points="179.9,360.2 191.5,357.5 198.7,356.4 204.9,355.2 210.3,355.8 216.3,356.3 222.7,356.6 224.7,356.9"/>
<polyline points="199.8,360.7 213.4,360.5 223.1,360.1 235.2,359.3 239.9,359.3 243.1,358.7 255.4,358.4 262.1,358.1 269.5,357.6 276.0,357.8 282.6,357.3 287.0,357.4 290.2,356.9"/>
<polyline points="285.2,361.2 295.3,360.5 305.2,360.4 310.3,360.2 313.9,359.8 322.7,359.3 327.0,359.2 330.1,359.0"/>
<polyline points="108.2,387.1 119.9,385.6 127.7,385.0 136.5,384.1 146.6,383.4 158.9,382.1 166.6,381.2 177.5,380.4 184.4,380.1 194.3,379.2 204.8,377.9 210.1,378.1 221.3,377.2 226.4,376.1 233.4,376.2 243.0,375.4 248.3,375.1 257.9,374.0 263.8,373.4 269.1,373.5 275.2,373.2 280.7,372.1 284.7,372.4 290.0,372.0 295.1,371.6 297.7,371.4 299.5,370.9"/>
<polyline points="106.4,385.8 114.4,384.7 126.3,382.9 136.1,381.4 145.7,380.0 156.4,378.6 161.8,377.6 171.8,376.0 179.6,375.1 187.2,374.0 193.9,373.2 203.3,371.6 208.5,371.3 217.1,369.6 222.6,368.6 226.6,368.5 231.3,367.4 236.3,367.2 237.8,366.4"/>
<polyline points="102.3,374.0 114.2,373.9 123.3,374.1 133.9,374.0 141.3,374.2 154.6,374.0 161.7,374.3 170.7,373.9 181.3,374.1 189.1,374.7 198.4,374.4 208.3,374.3 214.7,374.4 224.1,375.0 230.9,374.4 238.1,374.8 248.3,375.2 256.6,374.9 262.6,375.4 268.9,375.2 277.0,375.1 283.2,375.8 288.4,375.5 292.3,375.6 298.4,375.9 304.0,376.0 308.3,376.1 312.4,376.0 315.1,376.2 317.1,376.5"/>
<polyline points="109.8,375.4 120.1,375.9 129.4,375.6 142.8,376.3 151.9,375.9 159.1,376.0 169.8,376.4 180.4,376.2 185.9,376.3 196.1,376.9 205.2,376.7 210.5,376.8 220.6,376.4 226.4,376.8 234.7,376.8 240.1,376.8 248.7,376.5 252.5,376.7 259.4,376.4 262.9,376.7 269.6,376.0 272.2,376.1 274.7,376.6"/>
<polyline points="109.2,375.3 121.0,376.7 128.9,377.1 142.1,378.4 150.8,379.0 159.7,380.1 168.8,381.0 177.7,381.5 185.2,381.9 192.3,382.6 200.6,383.1 206.3,384.1 212.2,384.3 217.1,384.5 221.4,384.9 224.0,385.0"/>
<polyline points="110.0,386.5 118.1,386.8 130.8,386.8 140.7,386.4 148.8,386.3 161.1,386.1 169.8,385.9 180.8,385.6 185.6,385.3 196.1,384.6 202.9,384.3 210.4,383.8 221.1,383.3 227.3,383.3 232.7,382.5 240.0,382.1 246.7,381.8 253.6,381.4 257.6,381.0 263.4,380.6 265.0,380.3 267.8,379.8"/>
<polyline points="102.1,375.8 115.0,375.4 121.9,376.1 135.4,375.9 141.7,376.1 155.5,376.9 163.9,376.9 171.0,377.0 182.8,376.9 191.3,377.8 201.8,377.6 206.4,377.8 218.9,378.3 226.0,378.7 233.2,378.6 240.5,379.1 247.2,379.3 254.1,379.7 261.4,380.0 265.9,380.2 273.8,380.4 277.4,380.4 284.4,380.6 288.6,380.6 291.8,380.7 293.6,380.8"/>
<polyline points="104.0,384.8 116.3,383.7 125.4,382.6 132.6,382.1 146.0,381.2 153.1,381.2 161.0,380.9 171.7,380.1 180.2,379.8 189.9,379.8 195.8,379.5 205.4,379.5 213.4,379.6 218.9,379.5 225.0,379.1 230.7,379.4 237.8,379.6 242.6,379.6 245.2,379.6 248.3,379.9"/>
<polyline points="103.6,378.9 112.1,378.1 124.6,377.5 135.8,377.1 146.0,376.6 153.9,376.1 164.2,375.7 173.4,374.7 181.3,374.3 188.9,374.2 199.3,374.1 207.7,373.7 216.0,372.9 222.8,372.5 229.8,372.8 236.6,372.5 243.2,371.8 247.3,372.0 253.2,371.7 257.2,371.9 261.8,371.8 263.7,371.6"/>
<polyline points="102.9,385.1 111.9,384.4 123.8,383.1 134.8,382.4 145.0,381.4 151.7,381.0 163.5,379.7 170.0,379.3 182.1,378.2 189.2,378.2 200.5,377.1 209.1,376.7 216.1,376.0 224.3,375.0 233.4,375.0 242.7,374.1 250.3,373.2 257.0,372.8 263.1,372.7 270.0,372.0 279.4,371.7 284.6,371.1 291.5,370.8 296.0,370.4 303.2,370.4 305.9,370.1 312.1,369.6 314.5,369.8 318.6,369.5 320.2,369.7"/>
<polyline points="107.5,376.7 120.5,376.8 130.3,376.0 137.6,375.8 149.9,375.4 157.3,375.3 169.9,374.9 174.8,374.6 186.8,373.9 193.8,373.7 203.3,372.6 211.6,372.4 220.2,371.6 229.5,371.3 236.7,370.4 241.3,370.6 250.8,369.3 256.5,369.0 260.8,368.6 266.3,368.0 271.9,367.6 277.6,367.6 283.1,367.1 284.9,366.9 287.4,366.6"/>
<polyline points="102.8,380.1 112.2,379.7 122.4,378.3 133.9,377.6 142.6,376.7 147.9,376.5 158.5,375.5 166.0,375.1 176.2,373.7 184.5,373.2 192.1,372.4 196.9,372.3 205.2,371.8 210.3,371.2 215.4,370.7 220.6,369.9 223.6,369.7 226.8,369.9"/>
<polyline points="117.6,377.5 125.3,375.3 131.3,373.7 135.3,372.0"/>
<polyline points="157.9,374.4 165.3,371.8 174.2,368.2 180.0,366.2 182.4,364.6 187.7,361.9 194.6,358.3 197.5,356.7 200.4,355.4"/>
<polyline points="188.8,365.5 199.5,363.2 207.4,361.1 216.5,359.0 222.4,357.2 225.3,356.4"/>
<polyline points="128.7,387.9 138.8,389.1 152.7,390.6 161.9,391.9 169.0,393.2 169.8,393.1 179.2,393.7 188.2,394.9 194.4,395.3 200.7,396.1 203.9,396.7 207.1,396.7"/>
<polyline points="120.2,375.6 128.2,374.4 141.4,373.8 147.6,373.4 157.6,373.0 168.8,372.6 174.2,372.2 184.0,371.4 193.4,371.3 198.1,371.1 207.2,371.2 214.2,370.7 219.0,370.5 224.3,370.3 227.4,370.4 230.2,370.8"/>
<polyline points="152.7,374.3 162.7,375.7 175.0,375.9 182.4,376.1 192.1,376.5 199.9,377.1 209.0,376.6 217.6,376.6 227.2,376.1 234.9,375.9 242.5,375.8 247.5,375.4 252.3,374.7 257.8,374.8 260.2,374.5"/>
<polyline points="141.7,383.9 152.2,382.4 162.6,381.3 173.7,380.6 181.3,380.0 191.8,378.7 201.4,378.0 210.0,377.2 216.1,376.5 225.4,376.0 231.5,375.6 242.1,374.5 246.3,374.4 254.9,373.8 260.4,373.8 265.9,373.1 269.9,373.1 273.4,372.9 276.1,372.4"/>
<polyline points="128.8,383.4 137.6,381.6 147.9,380.0 159.4,378.0 165.9,376.4 175.2,374.8 182.9,372.6 188.7,371.1 196.3,368.6 201.1,367.3 205.5,365.5 207.9,365.2"/>
<polyline points="172.1,384.1 179.6,382.3 193.6,379.6 197.9,378.6 206.6,377.6 216.8,376.7 222.7,375.5 230.3,374.9 233.7,374.7 237.4,375.1"/>
<polyline points="124.2,377.2 134.9,376.5 143.9,375.9 152.7,375.1 163.9,374.6 174.9,373.8 184.3,372.8 191.8,372.4 201.8,371.6 208.2,371.0 216.6,370.8 223.8,370.5 231.0,369.9 238.2,369.7 245.9,369.4 251.5,368.4 258.0,368.3 261.0,368.0 265.5,367.8 268.0,368.0"/>
<polyline points="154.4,377.3 165.3,374.3 174.4,372.3 183.6,370.9 192.6,370.3 197.7,370.5 201.7,370.8"/>
<polyline points="125.2,378.3 134.5,377.6 145.6,376.5 154.0,375.6 162.5,374.5 174.3,372.4 182.9,371.2 189.3,370.2 195.7,369.2 204.7,367.5 210.1,366.2 216.7,365.0 222.2,363.7 226.0,362.8 229.0,362.2"/>
<polyline points="231.6,374.0 240.4,373.5 249.2,373.5 262.1,373.6 271.9,373.3 279.8,373.3 287.1,372.9 296.1,373.0 306.3,372.8 312.8,372.6 318.9,372.0 325.7,371.6 332.7,371.5 339.2,371.1 344.1,371.2 348.8,371.2 352.9,371.0 355.2,370.6"/>
<polyline points="240.3,368.1 250.7,368.9 260.7,369.4 270.6,370.3 282.2,370.5 292.4,371.1 299.2,371.2 310.0,372.0 317.3,372.6 326.1,373.1 333.9,373.0 343.2,373.8 349.0,373.6 357.8,373.8 364.9,374.6 370.3,374.5 377.1,374.8 384.0,375.1 388.6,375.3 393.4,375.2 396.6,375.2 398.6,375.3"/>
<polyline points="263.9,380.2 275.5,378.7 283.7,378.0 293.7,376.3 304.6,374.5 313.6,372.9 321.7,370.8 330.1,369.0 337.7,367.6 342.1,366.3 350.4,364.3 355.4,362.6 358.2,361.7 361.7,360.9"/>
<polyline points="299.7,368.8 307.1,369.3 318.1,370.3 329.5,371.5 336.3,371.7 344.6,372.1 352.4,372.4 359.8,372.8 365.8,372.8 373.5,372.3 376.2,372.8 379.7,372.6"/>
<polyline points="189.2,365.8 197.7,366.0 208.2,366.6 220.2,366.5 227.6,366.8 237.7,367.2 248.2,367.6 256.9,368.3 269.7,368.8 278.3,369.3 285.9,369.3 293.8,369.8 301.5,370.9 309.6,371.3 318.8,371.7 324.0,372.4 334.6,373.5 339.6,373.4 346.6,374.1 352.4,374.9 358.7,375.9 366.1,376.2 371.0,377.0 376.8,377.8 381.7,378.2 384.9,378.6 387.8,378.6 389.9,378.8"/>
<polyline points="222.8,367.2 231.5,367.8 240.7,367.9 251.0,368.6 261.9,368.8 268.9,369.1 279.3,369.8 286.6,370.1 298.6,370.5 305.4,371.0 311.2,371.3 319.3,372.0 325.6,372.2 335.2,372.6 341.5,373.4 345.2,373.1 351.4,373.9 354.9,374.3 360.0,374.6 361.4,374.9"/>
<polyline points="191.9,383.9 200.7,383.9 213.2,383.7 220.4,384.0 230.9,384.2 239.7,384.3 251.2,384.0 257.9,383.8 267.0,384.5 277.4,384.4 285.8,384.5 295.2,384.1 302.2,384.8 309.9,384.8 317.5,384.6 323.8,384.6 330.9,385.2 337.8,384.9 345.5,385.5 352.2,385.7 355.6,385.2 363.0,385.9 367.8,385.5 370.8,385.8 374.6,385.6 376.7,385.8"/>
<polyline points="296.0,376.1 307.0,376.2 317.7,375.8 324.7,375.8 335.9,374.6 346.4,373.9 354.1,373.3 360.2,373.2 370.9,371.5 376.0,371.0 383.4,370.4 388.8,369.3 393.1,368.8 395.5,368.2"/>
<polyline points="190.1,378.1 201.6,377.2 207.6,377.1 218.4,376.2 229.6,375.6 236.9,375.3 249.1,374.2 258.7,373.9 266.7,373.5 275.8,372.8 282.7,372.1 291.5,372.0 298.2,371.3 309.6,371.1 316.6,370.0 323.0,369.6 329.9,369.5 337.7,368.9 342.5,368.9 350.0,368.2 354.8,367.6 358.2,367.3 363.5,367.5 367.4,367.1 372.2,366.7 373.7,366.9"/>
<polyline points="248.1,370.7 258.4,371.2 269.7,371.5 278.8,372.3 288.2,372.5 296.8,372.9 306.6,374.1 312.0,373.9 320.7,374.5 330.4,375.9 335.8,376.2 345.0,376.6 350.4,377.4 356.6,377.8 362.1,378.3 367.8,379.0 373.3,379.9 376.3,379.6 379.4,380.3"/>
<polyline points="201.9,388.5 212.2,387.7 225.1,387.1 233.8,386.6 243.0,386.6 251.1,385.8 261.4,385.5 274.4,384.1 279.5,383.9 288.4,383.3 299.7,382.4 306.2,381.8 314.5,381.1 322.4,381.0 334.0,379.5 339.9,379.2 348.0,378.3 354.0,377.8 362.0,377.6 367.0,376.8 372.9,376.5 379.4,375.2 383.9,375.1 390.2,374.2 393.3,373.9 396.9,374.1 398.7,373.3"/>
<polyline points="273.9,390.1 285.1,384.6 295.3,379.9 301.6,375.9 307.0,372.6 314.0,367.6 319.5,364.6 321.9,362.3"/>
<polyline points="253.3,388.4 262.9,387.7 272.0,387.0 281.8,385.5 289.2,384.2 296.2,383.4 303.0,381.7 306.7,380.8 310.2,380.2"/>
<polyline points="260.3,378.5 267.8,377.5 282.7,375.2 288.3,374.3 298.6,373.3 307.2,372.9 317.7,372.4 325.5,372.1 330.8,371.8 338.7,371.8 346.8,371.2 352.4,371.7 358.4,371.6 361.6,371.9 365.0,371.8"/>
<polyline points="244.5,372.1 257.6,375.0 265.9,376.3 275.4,378.3 283.8,379.3 292.8,380.4 299.1,380.3 309.9,381.6 315.5,381.3 321.4,381.8 325.6,381.7 329.6,382.1"/>
<polyline points="215.0,373.6 226.2,373.9 233.6,374.3 247.4,375.1 255.8,375.3 266.4,375.3 275.6,376.0 285.4,375.7 291.3,376.2 303.2,376.0 312.2,375.6 318.6,376.1 326.9,375.4 335.9,375.3 339.6,375.5 347.4,374.8 354.7,374.9 360.2,374.6 365.5,374.3 371.4,373.8 376.1,373.7 378.8,373.3 381.3,373.6"/>
<polyline points="289.7,391.9 298.7,390.4 310.4,388.9 321.0,387.6 329.0,386.0 339.7,384.8 347.5,383.5 354.8,382.7 363.0,381.2 370.2,380.2 376.5,379.4 383.5,378.5 387.7,377.8 391.8,377.9 395.2,377.1"/>
<polyline points="313.1,382.8 324.3,382.2 335.6,381.9 341.7,381.2 351.7,380.8 361.5,379.8 366.6,379.6 376.2,378.0 382.0,377.6 389.9,376.4 394.5,376.0 399.1,375.1 401.1,374.7"/>
<polyline points="302.7,381.5 313.7,379.6 321.4,379.3 328.9,378.7 338.9,378.0 347.7,377.5 353.8,377.4 360.3,376.6 364.6,377.1 367.3,376.8"/>
<polyline points="296.4,382.0 307.2,381.0 314.3,381.0 323.8,380.5 334.5,379.4 341.4,379.3 351.9,379.0 355.3,378.9 364.7,378.1 371.6,378.1 375.3,377.8 380.8,377.3 382.6,377.7"/>
<polyline points="326.4,383.8 336.7,381.8 344.3,380.5 353.9,379.4 360.5,378.3 363.5,378.5"/>
<polyline points="322.2,384.6 332.1,383.8 342.5,383.5 353.0,384.1 358.1,383.8 364.6,384.4 369.8,385.3"/>
<polyline points="251.2,388.2 262.0,388.2 272.3,387.9 280.6,388.1 291.4,388.0 298.8,387.6 307.2,387.7 316.7,387.7 329.5,387.6 337.6,388.2 344.3,387.8 352.7,387.8 360.3,388.1 366.5,387.9 370.6,388.4 378.5,388.6 384.3,388.5 387.5,388.5 391.2,388.5 393.5,389.1"/>
<polyline points="289.3,380.4 299.0,380.0 308.4,379.7 318.2,378.8 327.4,378.0 340.0,377.6 346.8,377.0 354.6,376.3 362.5,375.8 373.3,375.0 378.6,374.9 386.7,374.2 393.4,373.6 399.2,373.4 402.2,372.8 407.1,372.7 409.2,372.3"/>
<polyline points="263.4,375.2 273.4,374.7 285.5,374.5 294.6,374.6 304.5,374.5 313.8,374.4 321.2,374.3 328.9,374.1 334.3,373.9 343.9,374.0 348.7,373.8 353.2,374.4 355.8,374.3"/>
<polyline points="334.9,378.7 346.9,377.5 352.5,377.2 360.9,377.6 365.3,377.7"/>
<polyline points="325.6,362.3 333.7,362.5 342.4,363.3 352.2,363.9 362.1,364.0 371.7,364.6 377.2,365.1 387.6,365.3 395.7,365.3 401.9,365.6 407.6,366.3 415.3,366.3 420.6,366.6 423.8,366.5 428.6,366.8 432.5,367.2 435.1,366.8 434.3,367.3 437.9,367.7 437.4,369.2"/>
<polyline points="379.3,369.3 389.5,370.4 397.8,370.7 404.8,371.2 411.7,370.7 416.5,370.6 421.7,370.3 425.3,369.9 423.9,367.4 417.4,366.4"/>
<polyline points="358.8,364.4 366.5,367.0 375.8,370.2 385.6,373.2 392.2,375.8 401.9,378.8 406.8,380.2 412.2,381.6 414.8,382.6 416.6,383.4 414.8,382.9 416.1,385.1"/>
<polyline points="314.5,386.5 324.1,383.6 333.0,381.6 344.1,379.0 350.4,377.7 358.6,375.3 368.2,373.3 376.0,371.8 382.3,370.2 388.1,369.0 397.3,367.1 403.3,366.3 408.5,365.1 412.3,364.7 418.0,363.7 421.6,362.5 423.5,362.6 424.6,361.6 425.9,361.9"/>
<polyline points="335.3,388.8 344.5,388.4 354.3,388.5 361.1,388.5 369.9,388.8 379.9,388.2 385.5,387.7 393.9,387.9 398.5,387.6 404.3,386.9 408.6,386.4 410.8,386.6 412.8,386.9"/>
<polyline points="301.0,382.4 308.4,382.1 320.2,380.9 329.9,379.8 338.1,379.2 344.1,378.3 353.7,377.1 361.2,376.6 369.4,375.3 378.4,374.2 385.2,374.0 391.1,372.8 398.3,372.1 403.9,371.3 407.4,371.1 412.4,370.3 417.6,369.1 420.8,369.3 423.7,368.4 426.4,368.2"/>
<polyline points="306.7,371.7 314.2,370.7 327.0,370.1 335.2,370.2 343.0,369.4 353.9,369.3 359.9,369.0 369.5,368.6 376.0,369.1 384.4,369.1 389.3,368.8 394.4,369.0 399.3,368.6 403.8,369.0 406.5,369.1 403.5,368.0 405.2,367.4"/>
<polyline points="318.1,380.4 329.3,378.8 336.4,377.8 348.6,376.2 357.6,374.9 362.9,374.2 371.2,373.0 382.5,371.6 390.0,370.7 394.8,370.2 403.9,369.2 408.9,368.5 415.8,368.0 423.6,367.3 429.9,366.8 434.4,366.8 439.3,366.1 442.5,365.9 444.2,366.3 442.4,367.4 442.8,365.5 443.5,366.0"/>
<polyline points="376.6,373.1 385.4,372.4 395.7,371.4 402.0,370.6 411.0,369.7 414.2,368.8 417.6,369.4 415.2,367.5"/>
<polyline points="307.6,371.8 317.7,372.2 324.9,373.0 335.8,373.4 345.7,374.0 355.2,375.4 360.7,375.6 370.5,376.2 376.7,377.2 384.2,377.5 392.1,378.5 399.2,379.2 407.4,379.6 411.8,380.0 419.2,380.6 423.3,381.3 429.6,382.1 432.8,382.5 437.0,382.8 438.6,382.7 441.5,378.9 440.3,378.4 439.7,377.8"/>
<polyline points="310.4,366.6 321.6,368.6 330.8,370.0 341.1,372.1 347.4,372.6 358.3,374.7 365.8,376.5 372.0,377.2 379.2,378.5 388.1,380.1 394.3,381.3 401.9,383.0 406.7,383.9 412.6,385.4 417.0,386.3 421.3,387.1 424.0,387.5 425.2,386.2 424.5,386.2 422.7,386.3"/>
<polyline points="330.2,370.3 337.6,371.4 350.6,372.5 356.6,373.3 364.9,374.7 373.9,375.5 383.8,377.1 389.0,377.7 399.2,379.4 403.4,380.2 412.0,382.2 419.2,383.1 424.5,384.7 429.6,385.2 434.0,386.3 438.8,387.6 442.2,388.2 444.8,388.3 442.8,390.2 444.5,393.4"/>
<polyline points="308.0,374.5 318.9,376.0 326.5,376.3 336.3,377.4 344.8,378.3 352.6,378.8 361.1,379.0 371.3,380.0 380.0,381.0 385.9,381.7 393.2,381.8 402.6,382.5 407.2,383.4 413.6,383.6 420.0,383.9 426.0,384.3 431.3,384.6 437.0,385.1 440.2,385.6 444.3,385.5 445.9,385.9 445.9,387.0 447.5,388.0"/>
<polyline points="330.6,370.4 338.8,369.6 351.9,368.8 359.4,368.1 367.1,368.2 375.9,367.6 385.6,367.5 395.3,367.3 401.2,367.8 410.1,367.9 417.9,367.9 422.8,367.7 428.5,368.1 435.5,368.5 439.3,368.8 443.5,368.6 445.9,368.7 442.6,370.6"/>
<polyline points="150.0,371.8 161.4,368.3 168.9,366.2 176.4,363.5 185.2,361.0 192.0,358.5 198.0,357.1 202.2,355.8 203.8,355.3"/>
<polyline points="230.1,371.9 240.6,369.0 248.6,366.3 257.9,363.5 264.1,361.7 272.2,359.5 275.9,358.1 281.2,356.5 283.2,355.8"/>
<polyline points="299.9,374.9 309.8,372.0 318.4,369.9 327.6,367.2 335.6,364.8 343.1,362.6 348.8,360.9 354.7,359.4 359.7,357.4 361.9,356.8"/>
<polyline points="379.9,377.7 389.9,373.9 397.9,370.7 404.6,367.7 412.5,364.7 419.3,361.5 425.0,359.3 428.9,357.8 430.9,356.9"/>
<polyline points="119.7,379.8 130.3,377.0 139.0,374.5 146.2,372.1 154.1,369.8 162.0,367.5 168.6,365.2 174.1,364.0 178.0,362.7 180.0,362.1"/>
<polyline points="259.9,377.9 272.1,374.9 281.6,372.3 288.1,370.6 297.8,368.5 306.1,366.1 311.8,364.8 318.8,362.5 323.5,361.6 327.6,360.3 330.0,359.9"/>
<polyline points="339.8,380.1 348.9,377.0 358.9,373.7 366.2,371.1 376.1,368.1 382.5,365.8 389.2,363.5 393.9,362.1 398.0,360.6 400.1,360.1"/>
<polyline points="420.1,376.3 423.4,373.9 426.3,371.9 428.1,370.2 428.9,370.6 431.6,370.7 432.1,369.4 431.3,368.3 432.7,368.7 432.2,367.4 435.4,366.8 432.3,365.8"/>
<polyline points="412.7,388.2 416.4,384.6 419.8,381.3 422.6,378.7 424.3,376.7 427.6,374.0 428.8,372.2 430.3,371.5 430.3,370.2 432.5,371.8 428.5,371.8 428.0,371.7 427.1,370.5 423.6,370.8 424.8,371.5 424.8,372.6 428.7,371.7 429.4,371.7 427.0,370.2 427.2,370.3 427.4,370.0"/>
<polyline points="410.4,376.7 415.4,377.3 419.1,377.5 422.4,378.4 426.8,378.7 430.3,379.2 434.3,379.5 438.9,380.0 440.4,379.9 444.9,380.3 446.5,380.4 449.4,380.3 451.9,381.1 454.0,381.4 455.1,381.3 458.2,381.6 458.3,382.9 461.1,382.7 457.9,383.0 457.7,382.9 458.1,384.9 456.8,385.0 457.2,385.2 458.0,385.1 460.8,384.3 460.0,383.3 462.0,383.6 461.7,384.1"/>
<polyline points="388.5,383.1 393.4,382.9 396.9,382.9 402.7,383.5 406.5,383.7 409.9,384.3 413.4,384.5 416.3,384.7 419.8,384.5 423.4,385.0 426.9,385.0 428.9,385.3 431.6,385.5 433.8,385.4 435.2,385.5 436.4,385.8 436.7,387.5 437.5,387.7 440.4,388.7 440.6,389.9 441.7,391.9 441.9,392.0 441.9,392.0 441.8,392.0 444.4,392.0 444.4,392.0 446.8,391.3 445.4,390.8"/>
<polyline points="396.9,380.5 401.4,379.5 406.0,378.5 409.6,377.7 412.7,376.7 415.3,376.2 418.5,375.9 420.8,375.2 422.0,374.8 424.2,375.0 425.4,373.7 424.8,373.6 426.2,372.6 426.8,372.4 428.4,372.5 430.0,371.9 426.2,372.2 422.6,370.6"/>
<polyline points="405.2,368.8 408.4,371.6 411.8,374.1 413.8,375.5 416.3,377.0 419.6,379.3 420.6,380.5 421.8,380.9 420.2,381.5 419.0,382.0 417.7,381.6 417.5,381.7 417.2,382.1 417.3,383.2 421.5,384.1 422.1,382.4 422.7,382.8 422.5,382.9 420.7,383.2 421.1,382.8 419.2,383.5 420.7,384.3 420.3,383.4"/>
<polyline points="393.5,375.4 396.7,376.4 401.4,377.7 406.2,379.4 410.9,380.8 414.3,381.5 417.9,382.7 421.3,383.4 425.4,384.6 427.9,385.7 429.7,386.3 433.1,387.1 435.3,387.6 436.9,387.9 437.7,388.5 439.1,386.1 435.4,385.4 432.2,383.7 432.1,384.3 432.3,383.6 432.6,382.9 430.7,381.8 426.3,381.8 427.9,380.9"/>
<polyline points="413.7,376.1 418.5,375.5 423.0,374.7 426.1,374.2 430.6,373.8 432.9,373.2 435.8,372.9 439.2,372.4 442.9,372.2 444.8,371.5 447.1,371.5 448.0,371.3 447.0,373.0 446.5,373.3 448.4,373.8 446.7,375.5 447.2,375.4 444.2,376.3 448.2,375.9 445.0,376.4 445.7,376.1 445.9,377.5 442.3,378.3 443.3,377.3 442.9,376.5 440.9,376.2 437.2,375.5"/>
<polyline points="406.9,371.5 411.5,373.8 414.9,375.7 418.2,377.1 421.9,378.5 423.6,379.5 425.0,380.4 427.0,379.4 427.0,381.0 426.7,380.5 426.4,380.5 427.7,380.3 427.1,380.6 427.9,380.6 426.6,379.4 427.0,380.7"/>
<polyline points="399.5,389.6 404.0,387.4 406.4,386.0 410.9,383.3 413.3,382.2 416.3,380.2 419.3,378.6 420.3,378.4 421.9,379.8 422.0,379.6 420.6,380.3 422.7,381.9 421.5,383.5 422.2,384.5 423.8,385.1 421.2,385.9 420.1,386.1 420.4,387.5 418.2,387.6 419.2,387.4 417.1,387.6"/>
<polyline points="404.6,365.8 408.8,365.4 412.4,365.3 417.6,364.6 420.2,365.0 424.9,364.5 427.7,364.2 430.6,364.0 433.2,364.2 436.7,363.9 438.0,363.6 440.0,363.5 441.4,363.6 440.9,363.4 441.9,363.4 436.5,364.3 435.9,363.9 441.2,363.7 440.0,362.7 438.9,365.2 435.4,364.4 436.0,365.4 434.2,367.2 435.2,368.0 435.1,367.7 437.0,366.9"/>
<polyline points="386.7,373.6 391.7,373.7 395.8,373.8 398.4,374.2 403.0,374.6 408.1,375.0 411.7,375.1 416.3,375.6 419.3,375.2 423.2,375.7 426.0,375.7 430.2,375.9 433.2,376.5 435.6,376.4 439.3,377.0 441.6,377.1 443.8,376.7 446.7,377.5 448.5,377.1 450.5,377.5 451.1,377.7 450.1,376.5 447.9,376.4 444.5,377.0 445.3,377.1 446.3,376.1 444.8,375.8 443.7,374.6 443.4,372.4 440.2,373.0 437.3,369.8 435.3,368.9 435.2,369.3 436.9,367.5 436.1,368.4 440.4,368.4"/>
<polyline points="386.0,385.5 390.7,384.8 394.7,384.9 400.3,383.9 403.9,383.5 407.1,383.3 410.5,383.1 414.9,382.6 418.5,382.7 422.3,382.1 423.8,382.2 427.4,381.5 428.6,381.8 430.8,381.5 432.1,381.2 429.6,383.2 431.2,384.1 433.6,383.5 429.6,385.8 430.0,385.7 427.3,386.0 428.7,384.3 428.4,383.7 426.0,383.9 427.2,383.9 425.3,383.5 426.3,384.9 425.8,383.9 425.5,382.4 427.3,383.9 428.6,385.6"/>
<polyline points="386.5,368.3 391.0,367.9 394.2,367.2 399.9,367.2 402.5,366.5 408.1,366.6 411.1,366.0 415.4,365.4 418.5,365.4 421.6,365.2 425.1,364.6 428.9,364.3 431.0,364.7 434.3,364.1 437.8,363.7 440.4,363.6 442.6,363.7 444.8,363.0 446.2,363.5 447.7,363.0 448.9,362.6 449.9,364.3 452.7,364.1 455.4,364.9 456.9,365.6 456.3,364.4 458.2,364.1 457.2,364.1 458.3,363.6 456.4,363.1 456.3,364.0 458.8,363.7 459.5,363.4"/>
<polyline points="411.7,386.6 416.5,385.1 418.9,384.4 423.0,383.4 425.5,382.6 427.5,382.0 428.1,381.8 429.7,380.6 426.6,379.9 426.0,379.4 427.1,379.8 427.0,379.4 424.1,378.4 422.8,379.3 423.9,379.6 423.2,379.5 424.7,380.6 428.3,381.9"/>
<polyline points="393.9,362.5 399.4,363.2 403.2,363.2 406.3,363.4 411.4,363.5 414.8,363.7 418.5,364.4 422.3,364.3 424.7,364.9 427.7,365.3 430.8,365.4 434.5,365.6 436.8,365.7 438.3,365.8 440.5,365.7 442.3,365.9 443.8,365.7 441.2,366.2 440.5,366.1 440.7,366.4 441.7,365.8 445.7,365.7 444.7,364.9 446.1,365.7 448.2,363.2 444.0,363.8 442.9,365.6 445.3,365.5 446.3,364.8 445.7,364.9 444.9,364.6 444.8,365.4"/>
<polyline points="392.0,382.2 395.8,380.7 399.8,378.8 402.1,377.4 407.7,374.5 410.0,373.3 413.8,371.8 415.6,370.3 418.7,368.9 422.1,367.8 424.5,366.3 425.6,365.9 428.0,364.8 429.3,364.3 430.2,363.6 429.2,364.2 427.7,364.6 427.7,366.0 426.8,368.3 425.6,368.5 425.9,367.0 421.5,368.2"/>
<polyline points="391.4,390.1 395.9,389.6 398.8,389.0 403.1,388.5 408.0,388.0 410.8,388.0 414.9,387.2 418.0,387.5 421.8,386.7 423.9,386.6 426.2,386.4 429.2,386.3 430.8,386.1 431.9,386.0 433.1,384.7 436.5,384.9 435.2,385.3 435.5,386.6 433.7,386.2 433.0,387.6 434.2,386.6 436.2,386.3 436.8,385.1 435.8,385.2 433.7,385.7 438.9,386.0 438.2,384.7 435.7,385.0 434.8,385.4 431.3,383.4"/>
<polyline points="396.8,382.5 399.4,380.6 403.7,377.3 406.3,374.7 409.2,371.6 412.4,369.5 414.4,367.9 417.3,366.1 418.5,364.7 419.8,363.5 421.0,362.0 421.6,361.9 422.5,362.2 423.2,360.9 422.3,361.4 418.3,361.2 421.0,361.9 418.8,360.6 420.3,360.0 422.8,360.6 425.7,360.0 424.5,362.5"/>
<polyline points="417.2,386.9 420.6,386.7 426.8,386.1 428.6,386.0 433.8,385.3 436.5,385.0 439.3,384.6 442.4,384.8 445.1,384.4 446.3,384.1 447.6,384.3 450.2,384.3 449.7,384.0 448.5,383.4 449.7,383.1 453.2,383.9 451.5,384.1 450.4,382.1 451.8,382.2 452.5,380.7 449.6,379.1 449.1,379.5 445.3,379.3 448.2,378.2 448.7,378.6 450.6,380.0"/>
<polyline points="412.2,370.1 415.3,372.1 419.8,373.6 422.4,375.4 425.8,376.7 429.2,378.6 431.9,379.9 433.5,380.8 434.2,381.1 435.7,380.3 434.9,379.4 438.8,377.9 440.2,378.3 438.7,378.3 440.4,379.1 438.8,379.7 437.9,380.8 437.3,380.8 435.3,379.4 437.1,380.1 437.8,381.5"/>
<polyline points="394.5,362.6 399.4,362.9 402.9,362.7 407.8,362.6 410.1,363.0 413.8,362.4 417.6,362.8 420.4,362.7 423.3,362.9 426.6,363.2 428.4,363.1 429.7,363.2 431.5,363.0 432.7,363.1 434.3,363.3 434.4,363.7 433.7,364.2 435.0,365.2 432.5,366.8 433.3,366.2 433.8,365.1 433.5,366.7 432.3,367.2 432.5,367.7 432.6,368.5 430.2,367.7 430.1,367.5 432.2,369.1 434.9,368.7"/>
<polyline points="411.5,386.7 415.3,386.0 419.1,385.6 421.4,384.9 424.7,384.3 426.4,384.3 424.5,383.8 425.0,385.8 421.4,384.8 421.1,386.8 420.3,387.9 419.8,386.9 420.2,387.0 419.2,388.4 417.1,387.1"/>
<polyline points="399.9,368.0 404.4,367.9 408.7,368.1 412.0,368.4 415.9,368.5 419.2,368.6 421.0,368.9 423.9,368.9 425.4,369.1 427.5,371.2 427.4,372.1 424.7,373.2 428.6,372.9 427.6,372.7 427.4,371.4 424.5,372.9 424.0,372.4 423.2,370.4 424.7,371.0 423.2,371.9 421.7,372.6 420.0,372.9 419.9,373.6 421.6,373.0 421.0,372.7"/>
<polyline points="409.1,381.1 412.5,381.2 417.4,381.1 420.9,381.7 426.1,381.4 428.6,381.7 432.4,381.9 435.5,381.4 438.5,381.5 441.4,382.1 442.4,382.1 443.8,382.0 443.7,381.1 441.3,383.2 443.9,383.5 446.4,383.3 447.6,383.8 449.5,383.6 449.5,385.7 451.5,385.4 450.3,384.7 451.3,384.0 452.4,383.8 450.9,385.3 450.3,385.4"/>
<polyline points="402.0,368.2 406.5,367.9 409.1,367.7 413.4,367.3 417.6,367.5 421.2,367.3 423.0,367.0 425.6,367.0 426.9,367.1 428.4,367.5 430.0,368.6 431.2,369.0 430.4,368.5 431.0,367.9 431.9,368.2 432.9,368.4 430.9,368.2 432.4,368.0 434.1,367.3 435.2,365.3 432.7,364.5 430.6,365.7"/>
<polyline points="388.4,372.6 393.7,374.3 396.1,375.5 401.7,377.2 403.6,377.2 408.0,379.0 410.1,379.8 414.6,380.9 416.7,381.9 418.4,382.3 421.0,383.1 421.9,383.3 423.6,382.7 426.7,382.3 431.5,381.9 433.8,381.9 431.1,381.2 429.0,381.4 430.8,380.3 429.7,380.2 430.8,378.8 430.5,379.4 430.9,379.4 432.8,380.2 435.7,379.1 434.8,380.9 434.6,380.8"/>
<polyline points="401.3,371.6 406.8,370.8 409.3,369.7 413.5,369.7 417.6,368.3 421.2,367.6 424.8,366.9 429.0,366.8 431.6,366.1 432.9,365.9 436.1,365.2 436.8,365.3 439.1,366.0 441.5,367.5 440.9,366.5 441.3,366.0 437.9,366.4 438.4,366.4 439.5,366.8 438.6,366.9 437.5,367.4 437.7,367.3 439.6,366.8 438.5,367.9"/>
<polyline points="389.6,367.6 395.0,367.4 399.7,366.8 402.8,366.6 405.9,366.5 409.3,366.8 412.9,366.5 415.6,366.3 417.7,366.5 418.7,366.4 421.8,366.6 422.1,365.9 421.7,365.6 422.9,365.4 420.5,365.8 418.2,365.4 418.0,365.7 417.3,365.5 417.2,364.8 419.9,363.2 420.3,365.3 417.7,365.2 418.8,366.5 421.1,365.1"/>
<polyline points="419.2,374.9 420.4,379.8 421.3,382.7 422.3,385.4 422.8,387.2 423.8,389.2 420.1,389.3 418.0,388.3 417.2,386.5 418.2,386.7 420.5,385.5 421.6,385.4 423.5,385.4 422.1,385.5 421.9,385.6 421.9,384.9 422.2,386.2"/>
<polyline points="455.2,405.1 457.1,406.4 459.6,407.9 460.2,408.1 458.8,410.5 457.8,412.0 459.1,411.4 460.8,410.6 461.7,410.0 461.3,409.7 459.5,409.7 457.9,409.1 456.4,409.2 456.1,408.8"/>
</g>
<g fill="none" stroke="#b45e2c" stroke-width="0.7" stroke-opacity="0.85" marker-start="url(#mb)" marker-mid="url(#mb)" marker-end="url(#mb)">
<polyline points="107.5,398.5 117.9,399.7 128.6,400.6 140.2,402.2 150.0,402.8 152.7,403.4 165.5,404.0 171.7,404.8 182.2,405.6 192.6,406.5 199.9,407.0 201.1,407.3 209.9,407.9 217.6,408.3 226.1,408.5 231.7,409.2 239.9,409.6 245.2,410.1 251.5,410.3 254.5,410.5 258.0,411.0 259.9,411.2"/>
<polyline points="128.9,384.8 139.5,386.4 151.3,388.9 159.9,390.1 163.1,390.5 175.2,392.2 185.3,393.4 192.1,394.4 202.1,395.6 208.3,396.6 210.0,396.6 220.4,397.9 227.8,398.4 232.3,398.9 238.7,399.8 243.5,400.2 248.3,400.9 249.8,401.1"/>
<polyline points="100.5,412.2 114.7,412.4 121.5,412.8 134.8,412.9 140.0,412.9 145.4,413.5 153.2,413.6 163.5,414.3 173.9,414.6 180.1,415.2 180.6,414.8 189.2,415.7 197.1,416.4 202.8,416.6 209.0,417.4 214.7,417.5 217.7,417.8 220.0,418.1"/>
<polyline points="161.4,422.7 171.6,421.5 182.6,420.8 191.1,419.9 204.7,418.0 215.7,417.7 221.5,416.8 231.7,415.9 240.9,415.5 252.8,415.0 257.6,414.4 266.7,414.0 273.5,413.5 280.6,412.8 288.3,412.5 292.8,412.4 298.2,412.3 303.5,411.7 305.5,412.2"/>
<polyline points="130.7,406.5 140.2,407.6 154.4,408.8 164.5,409.1 174.0,410.1 187.5,410.6 197.1,411.2 204.0,411.9 215.1,412.6 224.0,413.2 232.1,413.9 242.0,414.2 250.7,414.9 258.9,415.2 263.6,415.6 271.0,415.9 280.2,416.3 283.8,416.6 291.5,416.6 294.3,416.7 298.7,417.2 301.9,417.3"/>
<polyline points="182.5,416.6 190.7,415.6 204.2,414.4 214.7,413.8 226.0,412.6 234.2,412.4 244.0,411.8 256.7,411.0 265.6,410.4 271.9,410.2 279.0,410.1 289.5,409.6 295.8,408.9 301.9,408.8 307.8,409.1 312.1,408.9 314.0,408.7"/>
<polyline points="144.2,427.1 154.6,426.7 166.7,425.6 174.9,425.5 185.8,424.8 196.2,423.8 209.0,423.0 217.4,422.6 225.1,422.2 235.3,421.8 244.8,421.3 252.7,420.5 263.4,420.2 271.2,419.3 278.2,418.9 287.0,418.8 292.5,418.0 301.5,417.7 308.2,417.2 313.6,417.1 321.3,416.3 327.1,416.0 329.7,415.8 336.6,415.5 339.0,415.4 341.0,414.9"/>
<polyline points="177.8,417.7 186.0,417.5 199.6,417.7 208.7,417.5 217.0,417.2 230.0,417.0 239.5,417.0 248.3,416.6 255.9,416.3 266.6,415.1 276.0,414.6 282.8,414.1 292.4,413.7 296.7,413.0 304.0,412.7 312.4,411.3 317.1,411.2 323.6,410.2 326.9,410.3 332.8,409.5 334.1,409.3"/>
<polyline points="199.6,422.8 209.1,421.5 223.6,419.0 230.9,418.2 240.5,417.2 246.5,416.5 253.8,416.3 261.7,416.1 264.9,415.7"/>
<polyline points="124.8,409.3 137.0,409.0 147.8,409.0 158.3,408.7 167.3,408.6 177.7,408.4 188.4,407.7 196.6,408.1 208.2,407.7 214.7,407.6 224.7,407.3 232.2,407.7 239.2,407.3 246.6,407.1 251.7,407.3 258.9,407.0 263.1,407.3 267.4,406.8 269.9,407.4"/>
<polyline points="167.5,423.7 179.3,424.4 189.7,424.2 199.1,424.4 211.7,423.9 218.1,423.7 228.5,423.9 237.3,423.4 249.3,423.2 255.3,423.0 265.7,422.8 274.8,422.3 281.0,422.3 289.1,421.3 295.8,420.9 302.6,420.7 311.3,420.5 317.3,419.5 321.6,419.3 327.4,419.1 330.3,419.0 332.6,418.5"/>
<polyline points="118.9,412.3 128.1,412.7 138.3,413.1 149.2,413.4 160.9,413.3 170.2,413.4 180.4,413.7 190.3,413.9 200.5,414.1 208.9,414.1 220.4,414.1 231.0,414.1 238.8,414.6 249.1,414.5 257.4,414.6 262.8,414.2 272.7,414.3 280.7,414.6 288.0,414.5 292.9,414.0 299.4,414.5 308.3,414.5 314.9,414.0 318.3,414.3 323.6,413.8 329.5,413.6 333.1,413.6 337.3,413.8 338.8,413.8"/>
<polyline points="144.4,416.7 157.2,416.8 166.3,416.5 175.8,416.5 187.3,416.0 195.0,416.5 206.4,415.9 212.3,416.5 224.3,416.4 231.7,416.3 238.0,416.5 244.8,416.4 251.5,416.6 256.6,416.5 260.0,416.7 263.6,416.7"/>
<polyline points="126.5,412.5 136.6,413.8 150.4,415.0 157.9,415.4 171.5,416.5 181.5,417.0 189.4,417.5 200.7,417.7 208.3,418.1 217.2,419.0 229.2,419.4 236.7,419.3 244.9,419.6 252.6,419.9 262.0,420.5 269.6,420.3 278.8,420.6 285.4,420.9 290.8,421.0 297.2,420.6 302.5,420.6 308.5,421.2 312.1,421.1 316.6,420.7 319.2,421.3"/>
<polyline points="108.7,419.8 119.3,420.1 129.8,420.0 141.1,420.3 152.9,420.8 162.1,420.6 174.3,421.1 181.9,421.2 192.6,421.0 202.7,421.1 213.8,421.4 218.8,421.9 231.6,421.7 239.4,422.0 247.7,421.5 257.5,421.6 265.9,421.5 271.4,421.5 282.8,421.7 289.6,421.4 296.9,421.3 305.5,421.5 311.7,421.4 318.5,421.2 323.2,421.1 329.7,421.2 336.4,421.5 340.1,421.2 346.2,421.4 349.0,420.9 352.7,420.7 354.1,420.9"/>
<polyline points="111.5,425.3 124.7,424.5 133.5,423.9 145.9,423.2 157.2,422.5 166.2,422.2 175.4,421.6 184.0,421.2 196.3,419.8 204.7,419.8 213.8,419.1 223.2,418.4 231.2,417.4 241.3,417.0 248.3,416.8 255.8,415.7 262.5,415.9 268.9,414.8 275.3,414.7 282.5,413.7 287.2,413.6 292.9,413.4 295.5,412.9 298.0,412.9"/>
<polyline points="113.0,422.7 123.3,422.1 135.5,421.8 145.1,421.1 158.8,420.9 165.8,420.7 177.5,419.8 185.1,420.1 194.9,419.2 204.8,419.5 215.8,419.2 225.3,418.8 237.2,418.8 243.2,418.2 252.7,418.2 262.4,417.9 269.5,417.9 279.5,417.7 289.8,418.0 296.9,417.6 302.3,418.0 310.2,417.8 319.3,418.2 326.3,418.0 330.9,418.2 338.4,417.7 344.8,418.2 351.1,417.8 357.3,417.9 359.8,418.5 365.6,418.4 368.5,418.6 373.0,418.1 374.2,418.4"/>
<polyline points="163.7,406.1 175.7,407.1 185.3,407.8 194.6,407.9 206.1,409.1 219.2,409.9 229.9,410.5 236.4,410.7 247.0,412.1 255.6,412.4 267.2,413.5 274.4,414.5 284.7,415.2 292.7,415.9 301.1,417.2 311.2,417.7 316.7,418.9 324.4,419.5 330.8,420.5 338.4,421.1 347.5,422.4 352.6,423.2 358.1,423.9 363.3,424.4 366.1,424.8 370.0,424.9 372.6,425.2"/>
<polyline points="195.6,411.9 208.5,412.6 216.7,412.7 227.8,412.4 238.3,412.4 243.0,412.2 253.4,411.4 257.4,411.0 262.0,410.1"/>
<polyline points="113.5,415.9 125.9,416.5 135.0,416.9 146.9,417.8 154.1,418.4 165.1,418.9 178.4,420.1 188.1,420.4 198.5,421.2 207.4,421.7 214.7,422.2 223.8,422.1 235.3,422.8 241.0,423.1 251.2,423.3 260.7,423.8 269.2,423.8 275.1,424.1 281.1,424.6 291.3,424.3 296.9,424.5 303.3,424.9 311.6,424.7 315.6,424.9 321.5,425.4 327.3,424.9 332.1,425.3 337.2,425.2 340.7,425.5 342.3,425.3"/>
<polyline points="193.3,427.5 205.3,427.6 214.1,427.5 221.5,427.6 231.9,427.0 242.7,427.3 249.0,427.1 258.0,426.3 263.7,426.2 272.7,425.9 277.4,425.8 282.8,425.4 285.6,425.9"/>
<polyline points="317.8,421.1 329.0,420.7 338.7,419.9 348.6,419.4 357.8,418.5 371.2,416.6 377.0,415.7 386.0,414.9 396.0,413.1 400.9,411.9 406.5,411.1 411.5,409.8 415.3,409.4"/>
<polyline points="253.6,411.8 266.4,410.1 273.0,409.0 284.1,406.9 292.6,406.1 304.1,404.4 311.9,403.9 321.7,402.6 326.8,402.3 334.5,401.3 337.4,401.2 341.7,400.9"/>
<polyline points="305.4,405.9 315.6,406.9 328.7,408.0 335.9,409.1 343.7,410.5 350.2,411.4 353.5,411.6"/>
<polyline points="261.4,413.3 272.9,412.2 285.2,411.8 292.5,411.2 301.8,410.3 315.8,408.7 321.1,408.3 334.8,407.0 340.2,405.6 350.7,404.6 359.1,403.5 365.8,401.7 371.7,400.8 377.3,400.2 382.5,398.9 387.3,398.3 389.7,397.9"/>
<polyline points="311.5,422.8 323.9,419.8 332.6,417.7 344.9,413.9 350.7,411.9 359.4,409.1 370.2,405.6 374.5,404.0 381.1,401.6 384.1,400.2"/>
<polyline points="314.6,420.3 324.0,419.3 338.7,418.3 344.3,417.9 356.8,417.0 364.6,416.1 373.2,415.7 384.7,415.2 391.4,414.6 399.6,414.1 404.4,414.2 412.0,413.8 418.5,413.4 422.6,413.4 424.7,412.6"/>
<polyline points="249.1,405.4 261.7,406.1 270.8,406.6 283.4,406.9 292.1,407.3 301.3,407.4 311.9,407.8 321.1,407.1 332.4,407.2 337.4,406.9 347.2,406.3 354.4,406.4 362.8,405.5 368.6,405.3 373.0,405.4 376.9,405.1 380.5,404.6"/>
<polyline points="238.7,419.4 250.7,419.2 260.4,418.6 272.1,417.8 282.0,416.7 290.9,416.1 302.0,415.3 309.0,414.3 320.1,412.3 327.9,411.6 333.1,410.8 340.7,409.1 347.0,408.3 352.1,407.1 353.9,406.7"/>
<polyline points="288.4,404.1 300.7,405.6 308.4,406.6 317.8,407.8 328.3,408.5 339.0,409.6 348.5,410.5 360.3,411.7 367.3,412.3 376.4,413.7 385.0,414.4 391.3,414.9 398.0,415.9 404.8,416.5 410.9,416.9 416.2,417.1 419.2,417.8 422.3,418.0"/>
<polyline points="308.0,415.5 320.7,412.3 327.0,411.1 336.4,409.4 346.3,407.3 359.4,405.1 364.7,404.6 372.8,403.5 381.3,402.2 388.5,400.9 397.8,400.3 402.0,399.7 408.8,399.2 412.8,398.8 415.4,398.7"/>
<polyline points="257.3,411.2 269.4,411.0 277.2,410.6 291.2,410.3 300.2,409.7 310.8,409.9 317.3,409.3 327.1,409.9 334.9,409.6 346.7,409.9 354.2,410.0 363.2,410.6 369.5,411.0 375.8,411.4 382.0,411.6 388.3,412.2 394.7,412.4 400.3,413.2 403.4,413.2 406.0,413.4"/>
<polyline points="246.5,420.9 255.5,419.6 270.0,416.3 276.8,414.8 286.8,413.0 298.5,411.1 311.2,409.2 320.4,407.5 329.3,406.0 335.0,404.9 345.5,403.2 354.0,402.0 362.0,400.5 367.0,400.0 372.9,399.2 379.7,397.9 385.5,397.3 389.8,396.6 391.7,395.7"/>
<polyline points="221.1,403.9 232.8,404.2 241.6,404.0 252.0,404.6 265.7,404.6 274.0,404.8 282.5,404.7 294.9,405.1 304.0,405.2 308.9,405.5 319.1,405.4 325.7,405.9 332.8,406.0 340.3,406.1 344.4,405.9 348.6,406.6 351.3,406.1"/>
<polyline points="228.9,424.0 242.0,422.9 248.9,422.2 259.4,421.6 273.1,420.2 284.1,419.6 291.2,418.9 301.6,417.3 314.1,416.5 322.9,415.6 329.4,415.1 337.2,414.7 348.3,413.5 355.0,412.6 361.9,412.2 368.4,411.4 377.6,410.9 381.5,410.2 387.5,409.6 393.1,409.2 397.0,408.8 398.9,408.2"/>
<polyline points="318.1,419.6 325.5,414.0 333.8,408.5 339.8,405.3 345.2,403.1"/>
<polyline points="297.6,415.9 308.9,412.6 315.8,411.0 328.3,407.2 334.0,406.3 344.6,403.1 349.4,402.1 354.9,400.3 358.5,399.1"/>
<polyline points="280.8,407.5 288.8,408.6 300.1,410.0 314.3,411.8 323.4,412.3 334.4,413.5 344.0,414.3 351.0,414.8 359.4,415.9 369.0,416.7 375.3,417.2 385.7,417.5 390.5,418.1 399.0,418.1 403.2,418.6 409.7,418.9 412.0,419.1 415.3,419.1"/>
<polyline points="214.3,416.7 225.4,415.1 233.1,414.4 244.1,413.5 256.2,412.2 265.3,411.7 277.4,411.3 283.2,410.7 292.6,410.6 301.9,410.4 309.7,410.4 317.7,410.1 323.5,410.5 328.6,410.6 334.0,410.7 337.7,410.4 341.2,410.7"/>
<polyline points="358.0,409.1 366.2,405.7 374.4,402.2 379.9,400.1 387.6,396.6 393.5,394.2 397.5,392.2 400.7,390.9 399.5,390.3"/>
<polyline points="366.4,410.6 373.8,404.3 382.4,401.2 386.6,400.1 387.7,398.2 388.8,397.7 387.8,398.1"/>
<polyline points="342.7,401.1 350.4,401.3 360.2,401.3 370.2,401.2 380.9,400.7 389.1,400.9 397.5,400.4 402.8,400.2 410.4,399.9 415.9,399.4 423.9,399.1 428.1,398.8 433.6,398.7 437.0,398.2 439.5,397.9 434.7,396.2 438.2,395.7"/>
<polyline points="298.6,411.3 309.5,409.9 315.9,409.1 328.1,407.3 334.4,406.1 342.1,405.4 352.1,403.2 359.3,402.5 367.3,401.1 373.6,399.7 381.7,398.3 385.8,397.2 392.8,395.9 399.6,394.8 403.5,393.7 407.7,392.7 411.3,392.3 413.8,391.7 419.3,391.1 418.9,391.0 420.7,389.1"/>
<polyline points="321.6,408.9 331.7,405.6 340.8,402.8 350.0,400.8 354.7,399.3 363.4,397.2 372.1,395.1 379.6,393.6 385.1,392.2 391.9,391.4 396.4,390.6 401.1,389.9 403.0,389.5 402.4,387.5"/>
<polyline points="377.1,399.2 383.2,396.7 390.9,395.8 400.8,394.1 405.8,393.8 408.2,394.1 406.8,393.9 403.9,393.1 403.3,394.8"/>
<polyline points="319.8,402.9 329.1,401.7 339.3,400.1 346.8,399.1 356.0,397.7 367.2,396.0 373.1,394.4 380.7,393.4 388.6,391.9 395.2,390.4 402.9,389.3 407.6,388.2 412.8,387.2 418.1,386.0 421.8,385.4 424.8,385.1 424.4,385.8 424.1,385.0 424.7,386.1"/>
<polyline points="327.3,411.9 334.7,410.5 344.7,408.5 356.5,406.8 361.6,405.7 371.2,404.3 377.4,403.6 382.5,403.0 384.5,402.6 390.9,404.1 390.1,402.9"/>
<polyline points="303.1,398.4 311.6,397.5 320.5,396.1 329.7,395.2 340.5,394.1 348.9,392.9 357.9,391.9 366.4,390.9 372.4,390.4 381.6,389.4 387.2,388.8 391.5,388.1 396.8,387.4 403.5,387.1 406.8,386.4 409.3,386.2 409.5,385.6"/>
<polyline points="308.0,399.2 318.2,398.5 324.6,398.0 336.2,397.1 342.1,397.1 351.3,396.5 359.0,395.9 368.6,395.1 376.2,394.5 381.1,394.0 388.9,393.6 394.3,393.0 398.1,393.2 403.4,392.7 407.3,391.9 409.6,391.8 414.0,391.4 411.1,391.4"/>
<polyline points="246.5,423.0 255.1,423.6 270.9,424.5 275.9,425.3 285.7,425.5 298.0,425.0 303.7,424.9 310.4,424.8 317.2,424.1 320.5,423.8"/>
<polyline points="259.0,428.5 272.8,429.4 278.2,429.3 291.5,429.6 299.6,429.5 309.3,428.5 313.8,428.4 320.1,427.9 324.4,427.8"/>
<polyline points="216.8,418.5 225.5,419.0 237.5,420.9 246.9,421.8 255.9,422.2 266.9,423.4 278.0,424.5 285.4,425.1 295.3,425.9 304.1,426.9 309.5,427.2 316.6,427.5 324.7,428.1 331.2,428.8 338.5,429.4 342.0,429.6 346.9,430.0 349.5,430.1"/>
<polyline points="182.4,418.5 193.0,419.1 202.7,419.7 214.9,420.4 224.1,421.2 236.6,421.8 244.2,422.7 252.9,423.3 263.6,424.1 270.7,424.9 282.4,425.7 289.6,426.7 294.8,427.3 301.6,428.3 306.8,428.6 312.2,429.5 318.0,429.9 320.4,430.4"/>
<polyline points="205.2,425.3 217.4,425.9 225.4,425.9 236.2,426.3 243.3,427.3 247.8,427.9 252.8,428.2"/>
<polyline points="209.1,424.0 218.7,424.1 230.0,423.4 240.8,423.7 250.3,423.9 262.6,423.6 270.1,423.4 280.0,423.3 288.9,423.2 296.7,422.8 302.8,422.6 308.6,422.6 313.2,422.2 316.5,422.1"/>
<polyline points="162.8,423.1 174.3,423.6 187.3,424.1 196.5,424.8 204.2,425.0 216.4,426.0 227.4,427.0 232.4,426.8 243.6,427.9 250.5,428.6 257.6,429.4 265.8,429.9 271.6,430.2 274.8,430.9 277.8,431.5"/>
<polyline points="230.6,418.0 240.2,424.5 245.9,427.6 250.8,431.7"/>
<polyline points="168.8,410.1 174.2,409.5 180.7,409.4 187.2,409.4 195.8,408.8 200.9,408.9 207.2,408.3 211.6,408.7 217.1,408.2 223.6,408.1 227.8,408.6 232.8,408.5 236.4,408.6 241.0,408.2 243.1,408.4 246.7,408.7 247.7,408.3 246.6,407.9 245.0,406.0 247.2,406.4"/>
<polyline points="155.4,413.7 163.1,413.9 168.3,413.9 174.1,414.3 181.5,413.8 187.3,414.2 194.9,414.1 199.8,414.5 204.0,414.7 208.7,414.4 213.6,414.3 217.4,414.3 221.1,414.6 223.4,414.6 225.6,414.8 220.4,414.6 221.0,415.5 220.9,417.4 219.6,418.5 216.2,418.9 219.0,418.8"/>
<polyline points="168.8,426.0 175.8,423.5 181.6,421.7 185.2,420.0 191.9,417.7 194.0,416.7 198.0,415.3 200.1,414.4 201.2,413.7 201.9,413.5 196.1,416.0 195.9,413.3"/>
<polyline points="193.6,409.8 198.4,412.2 205.5,414.1 210.6,414.5 212.9,414.4 215.5,413.9 212.9,415.5 215.1,414.4 218.8,414.1 218.9,412.3"/>
<polyline points="198.9,408.0 203.2,411.8 206.8,416.4 208.5,419.1 210.1,422.4 210.6,422.7 211.0,423.8 205.7,424.0 205.1,423.4 199.5,424.1 196.9,423.4"/>
<polyline points="175.4,408.9 182.6,410.3 188.4,411.3 193.6,413.1 197.4,413.9 201.5,415.6 207.4,417.9 210.1,418.6 211.4,420.0 207.7,420.8 205.2,419.6 198.2,417.6"/>
<polyline points="151.1,417.0 157.5,416.5 164.0,416.3 170.0,415.9 176.7,416.3 183.2,415.7 190.2,415.4 196.1,414.9 200.9,414.2 206.3,413.6 211.1,413.3 215.8,412.9 220.0,412.9 221.4,412.4 225.2,411.8 226.7,411.9 222.2,414.4 224.1,412.2 224.7,412.4 225.2,412.7 229.7,412.2"/>
<polyline points="200.1,425.2 204.2,422.7 210.7,418.3 214.7,415.9 219.0,414.0 223.6,411.7 227.6,411.0 228.3,410.4 231.6,408.1 227.8,406.9 232.4,406.0 230.2,406.0"/>
<polyline points="184.0,412.9 189.3,415.8 195.0,418.1 199.7,421.4 203.4,423.5 205.3,424.8 205.2,424.5 207.1,427.2 206.4,426.2 197.6,424.8 199.7,425.7"/>
<polyline points="175.1,417.6 181.6,418.0 186.8,418.1 194.3,418.3 201.1,419.2 207.1,419.4 213.2,419.8 217.2,420.2 221.2,420.7 228.2,421.2 230.1,422.0 236.4,422.5 238.5,422.8 241.6,423.1 243.3,423.3 243.9,421.6 242.3,421.6 241.5,422.6"/>
<polyline points="151.5,423.7 158.3,422.6 165.1,421.7 171.7,420.7 177.9,419.9 184.6,419.1 191.1,418.9 197.4,418.4 202.2,417.9 206.3,417.8 213.3,416.9 216.4,417.2 222.0,416.7 225.2,416.6 228.9,416.4 233.4,416.8 235.2,416.5 237.4,416.3 238.9,417.5 237.2,419.6 236.1,421.8 235.3,421.1"/>
<polyline points="182.6,406.9 188.0,406.7 193.5,406.6 199.7,406.9 203.4,408.1 205.8,408.0 202.9,408.1 203.1,409.1 204.3,409.2 206.3,410.2 209.7,411.1"/>
<polyline points="107.5,399.1 121.5,400.7 130.5,401.9 142.0,402.6 154.2,404.0 161.1,404.8 169.9,406.3 173.4,406.4 182.6,407.7 191.1,408.2 197.3,409.0 206.4,409.9 213.7,410.7 218.2,411.3 223.4,411.8 227.0,412.2 229.4,412.4"/>
<polyline points="229.3,400.0 234.4,400.9 238.5,401.8 243.6,402.1 245.2,402.4"/>
<polyline points="341.6,424.6 350.3,424.3 359.4,423.3 368.9,421.9 377.0,420.5 382.0,419.8 390.5,418.1 395.2,416.4 400.3,415.6 402.1,414.7 401.0,414.7 400.2,412.1"/>
<polyline points="261.3,401.9 268.8,402.3 279.4,402.0 291.1,401.4 297.3,401.5 307.0,401.3 315.5,401.4 325.2,400.8 330.2,401.1 340.6,400.7 348.6,401.2 355.4,400.6 360.7,400.5 370.0,400.6 375.9,401.0 381.4,400.9 385.2,401.2 390.1,401.1 394.5,401.0 397.9,400.7 400.1,400.6 400.7,400.2"/>
<polyline points="291.4,424.0 300.4,422.9 308.5,422.3 318.6,421.5 329.0,420.5 336.3,420.3 345.1,419.6 354.0,418.7 360.6,418.7 368.4,418.0 375.7,417.1 383.3,416.7 388.8,416.1 394.8,415.8 401.7,415.9 405.2,415.4 409.1,414.8 411.1,414.8 415.6,414.2 416.9,412.4 418.1,411.5"/>
<polyline points="346.3,415.5 354.0,415.0 365.4,415.4 370.8,414.9 381.8,414.3 387.1,414.0 393.6,413.7 399.7,413.8 405.5,413.1 409.9,412.5 413.2,412.4 419.2,411.7 419.4,411.0"/>
<polyline points="303.5,421.6 313.7,419.3 323.7,417.2 332.4,415.8 342.7,414.3 350.5,412.2 359.6,411.3 366.2,410.1 374.0,409.0 382.2,407.6 387.3,406.9 394.9,406.1 401.2,405.0 408.5,404.1 412.7,403.3 418.0,402.7 421.0,402.5 424.3,402.5 424.9,402.2"/>
<polyline points="313.1,403.3 322.4,404.5 332.2,406.1 341.1,406.5 351.6,408.0 358.5,408.5 366.9,409.2 374.6,409.8 380.1,410.1 388.6,411.2 395.2,411.3 401.2,412.1 405.8,412.2 409.4,412.3 414.6,412.8 416.0,413.2 415.1,414.1"/>
<polyline points="322.6,417.7 329.8,418.1 342.9,419.1 347.5,419.2 356.9,419.2 363.7,419.9 372.5,419.5 378.7,419.7 384.7,419.6 392.0,419.3 396.3,419.3 400.3,419.7 403.0,419.3 406.5,421.1"/>
<polyline points="265.6,418.4 273.2,417.4 285.3,416.7 296.1,415.7 305.0,415.3 310.5,414.6 320.9,414.3 330.9,413.3 336.3,413.2 345.5,412.3 352.7,412.2 361.4,411.6 368.5,411.4 378.8,411.0 384.0,410.7 390.4,410.3 399.6,409.5 405.7,409.2 410.5,409.4 416.6,409.0 422.3,409.1 427.1,408.3 431.2,408.3 435.4,408.5 437.4,408.6 439.8,408.4 443.9,409.3"/>
<polyline points="282.4,421.3 290.2,420.5 300.7,420.4 309.7,419.4 320.0,419.1 329.7,418.7 337.7,418.2 348.1,417.4 355.2,417.3 363.6,417.3 370.6,416.8 380.1,416.4 385.0,415.9 392.2,416.0 401.5,415.4 405.8,415.5 412.0,415.3 418.2,415.0 423.4,415.0 430.9,414.3 434.6,414.3 439.2,414.3 442.0,414.1 444.2,414.2 440.3,414.4 440.0,414.3"/>
<polyline points="293.4,409.9 303.4,409.5 312.0,409.2 322.9,409.0 332.5,408.2 337.2,407.9 346.6,407.6 355.8,406.8 364.5,406.6 372.8,406.4 378.0,405.9 387.9,404.8 394.6,404.6 398.6,404.1 405.6,403.6 411.7,403.8 417.7,403.1 421.1,402.6 426.4,402.4 428.9,402.2 431.4,402.3 433.4,401.0 432.8,402.1"/>
<polyline points="404.7,392.7 409.4,395.2 412.5,397.1 416.0,399.0 419.2,400.4 421.8,401.9 424.1,402.8 427.2,404.7 428.4,405.3 429.7,406.1 430.9,405.2 430.5,405.6 429.9,406.8 427.6,407.5 429.1,408.0 431.7,407.9 432.1,406.4 428.1,405.2 429.1,405.5 431.9,405.6 431.6,406.0 432.1,406.9"/>
<polyline points="395.2,392.1 399.1,392.0 404.4,391.1 408.7,390.4 411.6,390.3 415.1,389.9 420.5,389.5 423.2,388.8 425.7,388.6 429.1,388.2 432.6,387.9 434.4,387.4 436.1,387.2 437.8,387.4 438.0,386.4 442.9,387.0 441.6,387.5 441.7,387.0 445.3,385.9 445.6,385.0 448.9,383.9 449.4,383.2 447.8,383.6 448.8,382.0 447.4,382.9 448.4,383.3 446.7,384.9 445.8,386.9"/>
<polyline points="415.1,389.6 418.8,391.1 423.9,392.8 426.7,394.2 431.1,395.4 435.1,397.2 438.2,398.5 440.9,399.4 443.4,400.6 446.8,401.4 447.8,402.2 449.2,402.5 448.3,402.7 447.7,404.6 448.8,403.8 448.7,405.5 447.4,406.0 447.0,404.9 445.5,405.4 447.9,405.1 449.8,404.4 450.8,404.3 452.7,404.7"/>
<polyline points="418.2,406.4 422.2,406.2 425.8,405.8 430.7,405.5 434.5,405.4 437.4,404.7 439.6,404.6 441.4,404.4 443.6,404.4 441.9,404.5 443.1,405.2 444.9,405.2 444.5,405.0 441.5,407.2 439.5,407.0 439.1,407.9 438.3,406.1 439.5,405.8 441.8,406.6 445.2,406.8 444.2,408.0 442.2,408.0 442.0,406.4"/>
<polyline points="417.3,391.5 422.2,392.7 426.0,394.4 428.8,395.1 433.2,396.1 436.9,397.7 440.3,398.9 443.0,399.5 444.4,400.4 445.5,400.4 442.2,400.4 442.7,399.7 443.7,400.3 443.3,399.8 445.0,400.6 445.1,400.8 445.3,401.5 443.6,402.8 445.5,401.8 445.5,402.5 445.6,402.1 444.5,402.3 447.2,403.2"/>
<polyline points="415.4,391.3 420.0,390.5 423.4,389.5 428.6,388.9 431.7,388.2 434.5,387.8 437.5,386.8 441.4,386.4 444.0,385.3 446.9,384.9 448.6,384.6 450.9,384.4 451.9,384.0 451.9,385.1 449.2,385.4 450.9,386.9 446.2,386.6 449.5,386.7 452.4,385.3 451.0,386.4 451.0,385.8 451.5,386.7 455.1,385.5 451.4,384.9 451.2,385.3 450.5,385.1 451.7,386.0 448.2,386.5"/>
<polyline points="423.4,401.8 426.6,399.9 430.6,397.1 432.9,394.7 434.7,393.8 435.1,393.3 435.5,392.4 437.2,392.0 436.3,392.0 436.7,392.0 435.4,390.7 434.5,388.7 436.2,388.4 436.9,387.4 437.2,387.2 439.0,387.1 438.9,384.5 435.9,384.9 433.4,384.9 433.1,385.3 433.6,384.9"/>
<polyline points="409.8,385.2 412.9,385.9 417.5,386.8 422.4,388.4 425.5,389.0 429.7,390.6 432.8,391.5 437.2,392.3 439.8,392.9 442.2,393.8 445.6,394.2 448.2,394.9 449.3,395.2 450.6,395.6 448.0,396.9 451.7,397.6 453.6,395.1 452.1,392.4 451.2,393.5 454.2,393.5 457.3,393.1 458.6,392.5 457.2,393.8 459.7,391.5 462.0,392.0 462.0,393.5 461.9,393.3"/>
<polyline points="398.5,395.3 402.7,394.5 406.2,394.2 409.9,393.5 413.6,393.5 416.6,393.0 418.5,392.6 419.9,392.5 419.5,392.8 417.1,393.8 416.4,393.3 416.6,393.5 415.9,393.2 416.9,391.4 416.9,392.2 414.6,393.3 416.2,394.5 416.6,395.2 416.5,395.4 413.8,396.3 412.3,397.7"/>
<polyline points="411.6,389.9 415.7,389.9 420.5,389.5 423.3,389.0 426.9,388.5 430.2,388.7 431.8,388.7 434.4,389.0 434.0,389.7 432.6,390.0 431.0,390.4 432.0,390.0 436.9,390.9 437.6,390.1 437.0,388.7 437.3,388.7"/>
<polyline points="407.1,395.0 410.1,395.6 413.9,396.3 417.9,397.3 420.1,398.0 421.4,398.4 422.0,398.1 422.1,398.1 423.8,398.7 421.8,399.0 419.5,398.3 419.8,397.8 421.0,397.9 419.6,397.8 420.5,397.6 419.7,398.6 419.3,399.1 418.3,399.5"/>
<polyline points="398.0,404.6 401.0,402.9 405.4,401.6 409.2,399.9 413.4,398.3 417.0,397.3 420.2,395.6 423.9,394.5 426.3,393.6 429.4,392.4 431.2,391.7 433.9,390.7 436.2,389.7 438.1,389.0 439.1,388.4 439.3,388.1 443.2,388.7 442.2,387.3 444.9,389.3 445.1,389.8 448.2,389.2 447.5,391.7 446.2,391.6 445.2,392.0 443.8,389.6 442.1,389.6"/>
<polyline points="417.9,388.7 423.1,389.0 426.4,388.9 429.4,388.9 433.6,388.9 437.1,388.6 441.2,388.4 443.7,388.8 446.7,388.4 448.2,388.4 449.7,388.1 451.1,388.6 449.6,386.9 444.8,386.6 444.0,385.8 440.8,385.4 441.9,386.3 442.6,387.4 442.7,387.3 443.3,389.1 446.2,389.6 449.2,390.1"/>
<polyline points="404.3,388.8 409.2,390.2 412.0,390.6 416.7,391.2 420.3,392.1 424.5,393.3 427.0,393.4 430.9,394.2 434.4,395.3 436.7,395.6 438.5,395.4 439.7,396.3 442.7,394.2 440.6,394.6 443.6,394.8 445.0,394.3 445.8,395.9 446.9,396.4 447.3,396.8 447.1,397.5"/>
<polyline points="397.7,392.8 401.4,393.6 406.9,395.4 409.2,395.7 413.7,397.0 416.7,398.4 421.0,399.3 422.9,400.0 424.7,400.8 426.4,401.4 425.2,401.1 424.8,400.6 428.0,399.5 428.0,399.8 428.5,400.3 427.6,399.1 430.2,399.7 432.3,399.3 438.4,399.1 438.1,396.5"/>
<polyline points="412.8,397.9 416.8,397.5 420.8,396.6 424.8,395.9 429.8,394.8 433.3,393.9 435.9,393.4 439.2,392.8 443.5,391.7 445.5,391.5 449.5,390.8 450.9,390.1 453.3,390.2 455.1,389.3 456.3,389.2 457.9,388.8 460.0,388.6 459.0,388.3 452.4,387.6 453.4,386.7 455.4,385.7 457.0,385.0 455.5,384.3"/>
<polyline points="405.8,398.6 410.2,398.2 415.9,398.4 418.3,397.7 423.2,397.5 426.2,397.7 429.2,397.6 431.4,397.3 433.0,397.3 436.0,397.5 434.3,397.3 437.0,396.0 439.5,396.3 439.5,395.7 439.4,395.9 439.4,395.0 438.0,395.0 434.5,395.8 435.7,397.4"/>
<polyline points="420.8,407.5 422.3,403.1 423.3,400.8 424.1,397.3 424.8,394.2 425.8,391.3 426.9,389.5 427.5,387.6 427.4,388.5 429.5,388.9 429.9,389.0 429.6,389.1 430.9,387.7 432.8,389.5 431.3,389.5 435.1,389.6"/>
<polyline points="419.1,384.3 422.8,386.7 426.2,389.3 430.4,391.8 432.6,393.4 435.6,395.8 437.8,396.9 439.8,398.2 441.2,399.0 441.2,399.2 443.9,401.8 444.5,402.5 443.7,401.6 441.0,400.9 441.1,400.9 438.7,400.7 439.7,400.7 442.0,402.7 444.0,401.9 442.4,401.9 443.4,402.0 442.0,401.2 442.9,399.8 440.9,399.3 435.2,398.9"/>
<polyline points="398.7,393.5 403.1,392.7 408.3,391.8 411.2,391.4 414.9,390.9 420.4,389.8 422.3,389.2 426.0,388.5 430.1,388.0 432.9,387.6 436.8,386.9 438.5,386.8 442.1,386.0 444.0,385.5 447.0,385.1 448.1,385.1 449.2,384.8 448.7,385.2 445.1,386.0 446.1,386.2 445.9,385.3 447.9,385.6 449.5,383.2 452.0,382.6 453.5,382.2 452.9,382.0 452.8,382.7"/>
<polyline points="413.3,398.4 417.1,399.0 421.9,400.2 424.4,400.7 428.3,401.2 431.4,401.4 433.3,402.2 435.0,402.6 435.0,402.2 434.2,403.2 433.7,403.4 430.0,402.9 428.7,402.7 430.6,404.0 429.7,403.4 426.4,403.2 428.7,402.7 428.5,402.0 425.1,401.4 423.4,401.8 423.9,400.8 423.1,402.0 426.7,401.7"/>
<polyline points="401.7,391.4 405.5,393.2 409.8,396.5 411.7,398.1 415.6,400.2 417.7,401.6 420.5,403.1 423.3,404.8 424.2,405.9 425.5,406.8 424.9,406.3 426.0,408.0 422.8,408.0 420.6,408.0 423.9,407.6 421.3,408.0 420.5,408.0 422.6,408.0 422.8,406.3 421.5,408.0 421.7,407.6"/>
<polyline points="418.9,399.5 422.3,395.3 424.5,392.2 426.9,389.2 428.7,387.6 430.1,385.4 431.3,384.2 430.8,384.9 432.2,384.0 430.4,382.8 431.6,382.0 430.9,383.1 430.0,384.1 429.6,383.0 429.0,383.6 434.2,384.7 430.5,385.8"/>
<polyline points="417.4,396.5 419.0,398.7 421.7,402.3 422.8,403.3 423.9,404.0 426.2,402.5 428.5,400.7 429.9,400.5 430.6,400.7 429.6,400.6 428.7,398.6 429.6,398.5 430.6,397.7 429.3,398.1 425.5,397.3 428.0,397.2 427.5,399.3 426.5,398.6 423.7,398.3"/>
<polyline points="417.7,401.1 422.7,401.7 425.3,401.9 430.9,403.0 433.9,403.6 438.7,404.0 441.3,404.3 443.4,404.7 447.0,405.0 449.6,405.2 449.9,405.5 448.0,406.6 449.3,405.4 447.7,406.0 447.1,405.3 445.9,404.8 447.0,403.3 448.0,401.2 447.3,402.0 447.9,401.4 449.5,403.0 448.4,402.3 451.6,403.1 451.1,400.8 453.9,401.6 458.6,403.2"/>
<polyline points="418.1,386.5 422.8,385.8 425.9,385.8 429.7,385.4 433.5,385.4 436.9,385.1 440.1,384.9 442.1,384.6 443.0,384.3 448.0,385.3 447.0,385.0 449.8,385.4 447.6,383.8 450.3,386.2 451.0,385.1 450.5,387.2 449.4,387.7 448.2,388.5 449.6,387.9 449.2,388.2"/>
<polyline points="403.7,388.4 408.6,390.1 411.4,391.2 415.6,392.3 420.0,393.5 424.5,395.2 427.2,396.1 431.3,397.9 434.7,398.5 437.1,399.9 440.6,400.9 443.3,401.7 445.0,402.7 447.9,403.6 450.4,403.9 451.8,404.5 452.4,404.7 449.3,406.1 447.6,407.5 449.1,407.7 447.7,408.0 452.5,408.0 453.3,408.0 456.0,408.0 458.9,408.0 458.1,406.8 457.3,407.5"/>
<polyline points="411.1,387.7 416.0,387.9 418.7,388.0 424.3,387.9 426.0,388.0 429.3,388.0 431.3,387.9 431.1,387.2 428.8,388.6 430.2,389.5 431.9,389.6 434.6,387.2 434.4,386.6 436.3,386.0 437.1,387.5 434.5,385.4 434.2,385.5 432.3,385.7 432.4,384.5"/>
<polyline points="423.9,402.6 428.4,404.0 430.8,404.5 434.3,405.1 435.3,405.6 433.6,406.3 432.6,406.5 433.2,405.4 435.2,404.2 436.4,404.6 435.1,404.8 435.1,403.8 432.1,403.6 434.8,403.9 434.7,403.1 432.2,402.8 435.6,403.0 437.5,402.3 437.7,402.3 432.3,401.8"/>
<polyline points="418.0,404.6 420.5,401.2 422.9,397.1 424.3,395.0 426.2,392.0 427.4,391.0 429.2,389.7 425.7,389.8 428.9,390.0 427.7,390.4 423.6,391.5 425.7,390.7 423.9,392.3 421.9,390.5 419.1,390.0 419.5,391.0 420.1,391.1 420.0,390.5 419.8,390.8 419.4,391.6 416.2,391.9"/>
<polyline points="432.8,407.8 434.5,411.4 436.2,414.7 435.9,415.2 437.4,418.0 439.5,420.6 439.9,422.0 439.7,422.1 438.7,425.8 438.4,427.8 437.8,428.2 439.9,429.2 441.8,430.0 441.8,430.4 441.2,431.7 440.5,433.2 440.3,434.4 440.2,435.1"/>
<polyline points="330.2,408.2 340.9,405.6 348.4,403.8 360.0,401.4 366.6,399.6 376.3,397.7 380.9,396.5 388.0,395.0 394.2,393.3 397.3,392.5 400.3,391.8"/>
<polyline points="370.0,409.9 379.2,406.8 390.0,403.1 398.3,399.5 405.9,397.0 412.3,394.7 417.5,392.5 423.2,390.5 427.3,388.7 430.3,387.9"/>
<polyline points="280.2,412.2 289.2,410.0 298.5,408.2 307.0,406.5 318.0,404.6 324.5,403.2 333.2,401.2 337.8,400.4 343.2,399.5 348.0,398.7 349.7,398.2"/>
<polyline points="229.8,414.2 242.4,411.6 251.1,410.3 259.5,409.0 268.9,407.2 276.6,405.9 283.1,404.6 288.4,404.1 294.0,402.9 297.2,402.4 300.2,402.0"/>
</g>
<line x1="45.50" y1="2.00" x2="45.50" y2="83.30" stroke="#5a5a5a" stroke-width="1"/>
<line x1="45.50" y1="83.30" x2="573.50" y2="83.30" stroke="#5a5a5a" stroke-width="1"/>
<line x1="45.50" y1="60.07" x2="50.50" y2="60.07" stroke="#777" stroke-width="1"/>
<line x1="45.50" y1="36.84" x2="50.50" y2="36.84" stroke="#777" stroke-width="1"/>
<line x1="45.50" y1="13.61" x2="50.50" y2="13.61" stroke="#777" stroke-width="1"/>
<line x1="98.30" y1="83.30" x2="98.30" y2="78.30" stroke="#555" stroke-width="1"/>
<line x1="151.10" y1="83.30" x2="151.10" y2="78.30" stroke="#555" stroke-width="1"/>
<line x1="203.90" y1="83.30" x2="203.90" y2="78.30" stroke="#555" stroke-width="1"/>
<line x1="256.70" y1="83.30" x2="256.70" y2="78.30" stroke="#555" stroke-width="1"/>
<line x1="309.50" y1="83.30" x2="309.50" y2="78.30" stroke="#555" stroke-width="1"/>
<line x1="362.30" y1="83.30" x2="362.30" y2="78.30" stroke="#555" stroke-width="1"/>
<line x1="415.10" y1="83.30" x2="415.10" y2="78.30" stroke="#555" stroke-width="1"/>
<line x1="467.90" y1="83.30" x2="467.90" y2="78.30" stroke="#555" stroke-width="1"/>
<line x1="520.70" y1="83.30" x2="520.70" y2="78.30" stroke="#555" stroke-width="1"/>
<line x1="573.50" y1="83.30" x2="573.50" y2="78.30" stroke="#555" stroke-width="1"/>
<text x="43.00" y="86.70" font-size="9.6" text-anchor="end" fill="#161616">0</text>
<text x="43.00" y="63.47" font-size="9.6" text-anchor="end" fill="#161616">20</text>
<text x="43.00" y="40.24" font-size="9.6" text-anchor="end" fill="#161616">40</text>
<text x="43.00" y="17.01" font-size="9.6" text-anchor="end" fill="#161616">60</text>
<text x="41.80" y="94.20" font-size="9.6" text-anchor="middle" fill="#161616">-10</text>
<text x="98.30" y="94.20" font-size="9.6" text-anchor="middle" fill="#161616">0</text>
<text x="151.10" y="94.20" font-size="9.6" text-anchor="middle" fill="#161616">10</text>
<text x="203.90" y="94.20" font-size="9.6" text-anchor="middle" fill="#161616">20</text>
<text x="256.70" y="94.20" font-size="9.6" text-anchor="middle" fill="#161616">30</text>
<text x="309.50" y="94.20" font-size="9.6" text-anchor="middle" fill="#161616">40</text>
<text x="362.30" y="94.20" font-size="9.6" text-anchor="middle" fill="#161616">50</text>
<text x="415.10" y="94.20" font-size="9.6" text-anchor="middle" fill="#161616">60</text>
<text x="467.90" y="94.20" font-size="9.6" text-anchor="middle" fill="#161616">70</text>
<text x="520.70" y="94.20" font-size="9.6" text-anchor="middle" fill="#161616">80</text>
<text x="573.50" y="94.20" font-size="9.6" text-anchor="middle" fill="#161616">90</text>
<text x="310.30" y="104.70" font-size="13.4" text-anchor="middle" fill="#161616" textLength="43.4" lengthAdjust="spacingAndGlyphs">x [mm]</text>
<text x="0" y="0" font-size="13.4" text-anchor="middle" fill="#161616" transform="translate(27.0 47.70) scale(1.08 1) rotate(-90)" textLength="43.4" lengthAdjust="spacingAndGlyphs">y [mm]</text>
<line x1="98.30" y1="2.00" x2="98.30" y2="83.30" stroke="#444" stroke-width="1"/>
<line x1="198.62" y1="2.00" x2="198.62" y2="83.30" stroke="#999" stroke-width="1"/>
<text x="103.30" y="12.20" font-size="13.4" text-anchor="start" fill="#161616" textLength="64.6" lengthAdjust="spacingAndGlyphs">h= 19 mm</text>
<rect x="581.5" y="2.00" width="82.0" height="81.30" fill="none" stroke="#5a5a5a" stroke-width="1"/>
<line x1="616.05" y1="83.30" x2="616.05" y2="80.30" stroke="#666" stroke-width="1"/>
<line x1="616.05" y1="2.00" x2="616.05" y2="5.00" stroke="#666" stroke-width="1"/>
<text x="616.05" y="94.20" font-size="9.6" text-anchor="middle" fill="#161616">50</text>
<line x1="650.60" y1="83.30" x2="650.60" y2="80.30" stroke="#666" stroke-width="1"/>
<line x1="650.60" y1="2.00" x2="650.60" y2="5.00" stroke="#666" stroke-width="1"/>
<text x="650.60" y="94.20" font-size="9.6" text-anchor="middle" fill="#161616">100</text>
<line x1="581.50" y1="60.07" x2="584.50" y2="60.07" stroke="#666" stroke-width="1"/>
<line x1="663.50" y1="60.07" x2="660.50" y2="60.07" stroke="#666" stroke-width="1"/>
<line x1="581.50" y1="36.84" x2="584.50" y2="36.84" stroke="#666" stroke-width="1"/>
<line x1="663.50" y1="36.84" x2="660.50" y2="36.84" stroke="#666" stroke-width="1"/>
<line x1="581.50" y1="13.61" x2="584.50" y2="13.61" stroke="#666" stroke-width="1"/>
<line x1="663.50" y1="13.61" x2="660.50" y2="13.61" stroke="#666" stroke-width="1"/>
<line x1="45.50" y1="119.50" x2="45.50" y2="200.80" stroke="#5a5a5a" stroke-width="1"/>
<line x1="45.50" y1="200.80" x2="573.50" y2="200.80" stroke="#5a5a5a" stroke-width="1"/>
<line x1="45.50" y1="177.57" x2="50.50" y2="177.57" stroke="#777" stroke-width="1"/>
<line x1="45.50" y1="154.34" x2="50.50" y2="154.34" stroke="#777" stroke-width="1"/>
<line x1="45.50" y1="131.11" x2="50.50" y2="131.11" stroke="#777" stroke-width="1"/>
<line x1="98.30" y1="200.80" x2="98.30" y2="195.80" stroke="#555" stroke-width="1"/>
<line x1="151.10" y1="200.80" x2="151.10" y2="195.80" stroke="#555" stroke-width="1"/>
<line x1="203.90" y1="200.80" x2="203.90" y2="195.80" stroke="#555" stroke-width="1"/>
<line x1="256.70" y1="200.80" x2="256.70" y2="195.80" stroke="#555" stroke-width="1"/>
<line x1="309.50" y1="200.80" x2="309.50" y2="195.80" stroke="#555" stroke-width="1"/>
<line x1="362.30" y1="200.80" x2="362.30" y2="195.80" stroke="#555" stroke-width="1"/>
<line x1="415.10" y1="200.80" x2="415.10" y2="195.80" stroke="#555" stroke-width="1"/>
<line x1="467.90" y1="200.80" x2="467.90" y2="195.80" stroke="#555" stroke-width="1"/>
<line x1="520.70" y1="200.80" x2="520.70" y2="195.80" stroke="#555" stroke-width="1"/>
<line x1="573.50" y1="200.80" x2="573.50" y2="195.80" stroke="#555" stroke-width="1"/>
<text x="43.00" y="204.20" font-size="9.6" text-anchor="end" fill="#161616">0</text>
<text x="43.00" y="180.97" font-size="9.6" text-anchor="end" fill="#161616">20</text>
<text x="43.00" y="157.74" font-size="9.6" text-anchor="end" fill="#161616">40</text>
<text x="43.00" y="134.51" font-size="9.6" text-anchor="end" fill="#161616">60</text>
<text x="41.80" y="211.70" font-size="9.6" text-anchor="middle" fill="#161616">-10</text>
<text x="98.30" y="211.70" font-size="9.6" text-anchor="middle" fill="#161616">0</text>
<text x="151.10" y="211.70" font-size="9.6" text-anchor="middle" fill="#161616">10</text>
<text x="203.90" y="211.70" font-size="9.6" text-anchor="middle" fill="#161616">20</text>
<text x="256.70" y="211.70" font-size="9.6" text-anchor="middle" fill="#161616">30</text>
<text x="309.50" y="211.70" font-size="9.6" text-anchor="middle" fill="#161616">40</text>
<text x="362.30" y="211.70" font-size="9.6" text-anchor="middle" fill="#161616">50</text>
<text x="415.10" y="211.70" font-size="9.6" text-anchor="middle" fill="#161616">60</text>
<text x="467.90" y="211.70" font-size="9.6" text-anchor="middle" fill="#161616">70</text>
<text x="520.70" y="211.70" font-size="9.6" text-anchor="middle" fill="#161616">80</text>
<text x="573.50" y="211.70" font-size="9.6" text-anchor="middle" fill="#161616">90</text>
<text x="310.30" y="222.20" font-size="13.4" text-anchor="middle" fill="#161616" textLength="43.4" lengthAdjust="spacingAndGlyphs">x [mm]</text>
<text x="0" y="0" font-size="13.4" text-anchor="middle" fill="#161616" transform="translate(27.0 165.20) scale(1.08 1) rotate(-90)" textLength="43.4" lengthAdjust="spacingAndGlyphs">y [mm]</text>
<line x1="98.30" y1="119.50" x2="98.30" y2="200.80" stroke="#444" stroke-width="1"/>
<line x1="267.26" y1="119.50" x2="267.26" y2="200.80" stroke="#333" stroke-width="1"/>
<text x="105.10" y="129.70" font-size="13.4" text-anchor="start" fill="#161616" textLength="64.6" lengthAdjust="spacingAndGlyphs">h= 32 mm</text>
<rect x="581.5" y="119.50" width="82.0" height="81.30" fill="none" stroke="#5a5a5a" stroke-width="1"/>
<line x1="616.05" y1="200.80" x2="616.05" y2="197.80" stroke="#666" stroke-width="1"/>
<line x1="616.05" y1="119.50" x2="616.05" y2="122.50" stroke="#666" stroke-width="1"/>
<text x="616.05" y="211.70" font-size="9.6" text-anchor="middle" fill="#161616">50</text>
<line x1="650.60" y1="200.80" x2="650.60" y2="197.80" stroke="#666" stroke-width="1"/>
<line x1="650.60" y1="119.50" x2="650.60" y2="122.50" stroke="#666" stroke-width="1"/>
<text x="650.60" y="211.70" font-size="9.6" text-anchor="middle" fill="#161616">100</text>
<line x1="581.50" y1="177.57" x2="584.50" y2="177.57" stroke="#666" stroke-width="1"/>
<line x1="663.50" y1="177.57" x2="660.50" y2="177.57" stroke="#666" stroke-width="1"/>
<line x1="581.50" y1="154.34" x2="584.50" y2="154.34" stroke="#666" stroke-width="1"/>
<line x1="663.50" y1="154.34" x2="660.50" y2="154.34" stroke="#666" stroke-width="1"/>
<line x1="581.50" y1="131.11" x2="584.50" y2="131.11" stroke="#666" stroke-width="1"/>
<line x1="663.50" y1="131.11" x2="660.50" y2="131.11" stroke="#666" stroke-width="1"/>
<line x1="45.50" y1="236.90" x2="45.50" y2="318.20" stroke="#5a5a5a" stroke-width="1"/>
<line x1="45.50" y1="318.20" x2="573.50" y2="318.20" stroke="#5a5a5a" stroke-width="1"/>
<line x1="45.50" y1="294.97" x2="50.50" y2="294.97" stroke="#777" stroke-width="1"/>
<line x1="45.50" y1="271.74" x2="50.50" y2="271.74" stroke="#777" stroke-width="1"/>
<line x1="45.50" y1="248.51" x2="50.50" y2="248.51" stroke="#777" stroke-width="1"/>
<line x1="98.30" y1="318.20" x2="98.30" y2="313.20" stroke="#555" stroke-width="1"/>
<line x1="151.10" y1="318.20" x2="151.10" y2="313.20" stroke="#555" stroke-width="1"/>
<line x1="203.90" y1="318.20" x2="203.90" y2="313.20" stroke="#555" stroke-width="1"/>
<line x1="256.70" y1="318.20" x2="256.70" y2="313.20" stroke="#555" stroke-width="1"/>
<line x1="309.50" y1="318.20" x2="309.50" y2="313.20" stroke="#555" stroke-width="1"/>
<line x1="362.30" y1="318.20" x2="362.30" y2="313.20" stroke="#555" stroke-width="1"/>
<line x1="415.10" y1="318.20" x2="415.10" y2="313.20" stroke="#555" stroke-width="1"/>
<line x1="467.90" y1="318.20" x2="467.90" y2="313.20" stroke="#555" stroke-width="1"/>
<line x1="520.70" y1="318.20" x2="520.70" y2="313.20" stroke="#555" stroke-width="1"/>
<line x1="573.50" y1="318.20" x2="573.50" y2="313.20" stroke="#555" stroke-width="1"/>
<text x="43.00" y="321.60" font-size="9.6" text-anchor="end" fill="#161616">0</text>
<text x="43.00" y="298.37" font-size="9.6" text-anchor="end" fill="#161616">20</text>
<text x="43.00" y="275.14" font-size="9.6" text-anchor="end" fill="#161616">40</text>
<text x="43.00" y="251.91" font-size="9.6" text-anchor="end" fill="#161616">60</text>
<text x="41.80" y="329.10" font-size="9.6" text-anchor="middle" fill="#161616">-10</text>
<text x="98.30" y="329.10" font-size="9.6" text-anchor="middle" fill="#161616">0</text>
<text x="151.10" y="329.10" font-size="9.6" text-anchor="middle" fill="#161616">10</text>
<text x="203.90" y="329.10" font-size="9.6" text-anchor="middle" fill="#161616">20</text>
<text x="256.70" y="329.10" font-size="9.6" text-anchor="middle" fill="#161616">30</text>
<text x="309.50" y="329.10" font-size="9.6" text-anchor="middle" fill="#161616">40</text>
<text x="362.30" y="329.10" font-size="9.6" text-anchor="middle" fill="#161616">50</text>
<text x="415.10" y="329.10" font-size="9.6" text-anchor="middle" fill="#161616">60</text>
<text x="467.90" y="329.10" font-size="9.6" text-anchor="middle" fill="#161616">70</text>
<text x="520.70" y="329.10" font-size="9.6" text-anchor="middle" fill="#161616">80</text>
<text x="573.50" y="329.10" font-size="9.6" text-anchor="middle" fill="#161616">90</text>
<text x="310.30" y="339.60" font-size="13.4" text-anchor="middle" fill="#161616" textLength="43.4" lengthAdjust="spacingAndGlyphs">x [mm]</text>
<text x="0" y="0" font-size="13.4" text-anchor="middle" fill="#161616" transform="translate(27.0 282.60) scale(1.08 1) rotate(-90)" textLength="43.4" lengthAdjust="spacingAndGlyphs">y [mm]</text>
<line x1="98.30" y1="236.90" x2="98.30" y2="318.20" stroke="#444" stroke-width="1"/>
<line x1="346.46" y1="236.90" x2="346.46" y2="318.20" stroke="#333" stroke-width="1"/>
<text x="105.10" y="247.10" font-size="13.4" text-anchor="start" fill="#161616" textLength="64.6" lengthAdjust="spacingAndGlyphs">h= 47 mm</text>
<rect x="581.5" y="236.90" width="82.0" height="81.30" fill="none" stroke="#5a5a5a" stroke-width="1"/>
<line x1="616.05" y1="318.20" x2="616.05" y2="315.20" stroke="#666" stroke-width="1"/>
<line x1="616.05" y1="236.90" x2="616.05" y2="239.90" stroke="#666" stroke-width="1"/>
<text x="616.05" y="329.10" font-size="9.6" text-anchor="middle" fill="#161616">50</text>
<line x1="650.60" y1="318.20" x2="650.60" y2="315.20" stroke="#666" stroke-width="1"/>
<line x1="650.60" y1="236.90" x2="650.60" y2="239.90" stroke="#666" stroke-width="1"/>
<text x="650.60" y="329.10" font-size="9.6" text-anchor="middle" fill="#161616">100</text>
<line x1="581.50" y1="294.97" x2="584.50" y2="294.97" stroke="#666" stroke-width="1"/>
<line x1="663.50" y1="294.97" x2="660.50" y2="294.97" stroke="#666" stroke-width="1"/>
<line x1="581.50" y1="271.74" x2="584.50" y2="271.74" stroke="#666" stroke-width="1"/>
<line x1="663.50" y1="271.74" x2="660.50" y2="271.74" stroke="#666" stroke-width="1"/>
<line x1="581.50" y1="248.51" x2="584.50" y2="248.51" stroke="#666" stroke-width="1"/>
<line x1="663.50" y1="248.51" x2="660.50" y2="248.51" stroke="#666" stroke-width="1"/>
<line x1="45.50" y1="354.40" x2="45.50" y2="435.70" stroke="#5a5a5a" stroke-width="1"/>
<line x1="45.50" y1="435.70" x2="573.50" y2="435.70" stroke="#5a5a5a" stroke-width="1"/>
<line x1="45.50" y1="412.47" x2="50.50" y2="412.47" stroke="#777" stroke-width="1"/>
<line x1="45.50" y1="389.24" x2="50.50" y2="389.24" stroke="#777" stroke-width="1"/>
<line x1="45.50" y1="366.01" x2="50.50" y2="366.01" stroke="#777" stroke-width="1"/>
<line x1="98.30" y1="435.70" x2="98.30" y2="430.70" stroke="#555" stroke-width="1"/>
<line x1="151.10" y1="435.70" x2="151.10" y2="430.70" stroke="#555" stroke-width="1"/>
<line x1="203.90" y1="435.70" x2="203.90" y2="430.70" stroke="#555" stroke-width="1"/>
<line x1="256.70" y1="435.70" x2="256.70" y2="430.70" stroke="#555" stroke-width="1"/>
<line x1="309.50" y1="435.70" x2="309.50" y2="430.70" stroke="#555" stroke-width="1"/>
<line x1="362.30" y1="435.70" x2="362.30" y2="430.70" stroke="#555" stroke-width="1"/>
<line x1="415.10" y1="435.70" x2="415.10" y2="430.70" stroke="#555" stroke-width="1"/>
<line x1="467.90" y1="435.70" x2="467.90" y2="430.70" stroke="#555" stroke-width="1"/>
<line x1="520.70" y1="435.70" x2="520.70" y2="430.70" stroke="#555" stroke-width="1"/>
<line x1="573.50" y1="435.70" x2="573.50" y2="430.70" stroke="#555" stroke-width="1"/>
<text x="43.00" y="439.10" font-size="9.6" text-anchor="end" fill="#161616">0</text>
<text x="43.00" y="415.87" font-size="9.6" text-anchor="end" fill="#161616">20</text>
<text x="43.00" y="392.64" font-size="9.6" text-anchor="end" fill="#161616">40</text>
<text x="43.00" y="369.41" font-size="9.6" text-anchor="end" fill="#161616">60</text>
<text x="41.80" y="446.60" font-size="9.6" text-anchor="middle" fill="#161616">-10</text>
<text x="98.30" y="446.60" font-size="9.6" text-anchor="middle" fill="#161616">0</text>
<text x="151.10" y="446.60" font-size="9.6" text-anchor="middle" fill="#161616">10</text>
<text x="203.90" y="446.60" font-size="9.6" text-anchor="middle" fill="#161616">20</text>
<text x="256.70" y="446.60" font-size="9.6" text-anchor="middle" fill="#161616">30</text>
<text x="309.50" y="446.60" font-size="9.6" text-anchor="middle" fill="#161616">40</text>
<text x="362.30" y="446.60" font-size="9.6" text-anchor="middle" fill="#161616">50</text>
<text x="415.10" y="446.60" font-size="9.6" text-anchor="middle" fill="#161616">60</text>
<text x="467.90" y="446.60" font-size="9.6" text-anchor="middle" fill="#161616">70</text>
<text x="520.70" y="446.60" font-size="9.6" text-anchor="middle" fill="#161616">80</text>
<text x="573.50" y="446.60" font-size="9.6" text-anchor="middle" fill="#161616">90</text>
<text x="310.30" y="457.10" font-size="13.4" text-anchor="middle" fill="#161616" textLength="43.4" lengthAdjust="spacingAndGlyphs">x [mm]</text>
<text x="0" y="0" font-size="13.4" text-anchor="middle" fill="#161616" transform="translate(27.0 400.10) scale(1.08 1) rotate(-90)" textLength="43.4" lengthAdjust="spacingAndGlyphs">y [mm]</text>
<line x1="98.30" y1="354.40" x2="98.30" y2="435.70" stroke="#444" stroke-width="1"/>
<line x1="446.78" y1="354.40" x2="446.78" y2="435.70" stroke="#333" stroke-width="1"/>
<text x="105.10" y="364.60" font-size="13.4" text-anchor="start" fill="#161616" textLength="64.6" lengthAdjust="spacingAndGlyphs">h= 66 mm</text>
<rect x="581.5" y="354.40" width="82.0" height="81.30" fill="none" stroke="#5a5a5a" stroke-width="1"/>
<line x1="616.05" y1="435.70" x2="616.05" y2="432.70" stroke="#666" stroke-width="1"/>
<line x1="616.05" y1="354.40" x2="616.05" y2="357.40" stroke="#666" stroke-width="1"/>
<text x="616.05" y="446.60" font-size="9.6" text-anchor="middle" fill="#161616">50</text>
<line x1="650.60" y1="435.70" x2="650.60" y2="432.70" stroke="#666" stroke-width="1"/>
<line x1="650.60" y1="354.40" x2="650.60" y2="357.40" stroke="#666" stroke-width="1"/>
<text x="650.60" y="446.60" font-size="9.6" text-anchor="middle" fill="#161616">100</text>
<line x1="581.50" y1="412.47" x2="584.50" y2="412.47" stroke="#666" stroke-width="1"/>
<line x1="663.50" y1="412.47" x2="660.50" y2="412.47" stroke="#666" stroke-width="1"/>
<line x1="581.50" y1="389.24" x2="584.50" y2="389.24" stroke="#666" stroke-width="1"/>
<line x1="663.50" y1="389.24" x2="660.50" y2="389.24" stroke="#666" stroke-width="1"/>
<line x1="581.50" y1="366.01" x2="584.50" y2="366.01" stroke="#666" stroke-width="1"/>
<line x1="663.50" y1="366.01" x2="660.50" y2="366.01" stroke="#666" stroke-width="1"/>
<polyline points="582.00,36.81 583.37,36.81 583.37,39.57 585.67,39.57 585.67,42.18 588.74,42.18 588.74,46.01 597.63,46.01 597.63,51.38 596.40,51.38 596.40,58.28 597.17,58.28 597.17,60.58 591.04,60.58 591.04,62.88 588.74,62.88 588.74,65.95 586.44,65.95 586.44,69.02 584.90,69.02 584.90,70.86 583.37,70.86 583.37,73.62 582.29,73.62 582.29,76.69 582.00,76.69 582.00,83.28" fill="none" stroke="#b07a62" stroke-width="0.95"/>
<polyline points="582.00,8.44 582.29,8.44 582.29,9.20 582.29,11.50 583.37,11.50 583.37,13.80 584.90,13.80 584.90,16.87 587.20,16.87 587.20,19.94 592.57,19.94 592.57,23.01 593.34,23.01 593.34,25.31 596.40,25.31 596.40,27.61 597.94,27.61 597.94,30.67 596.40,30.67 596.40,32.98 594.87,32.98 594.87,36.04 589.50,36.04 589.50,38.04 595.64,38.04 595.64,41.72 591.04,41.72 591.04,45.71 585.67,45.71 585.67,48.31 582.00,48.31 582.00,60.58 582.60,60.58 582.60,65.18 582.00,65.18 582.00,83.28" fill="none" stroke="#4a9c72" stroke-width="0.95"/>
<polyline points="582.00,152.06 584.14,152.06 584.14,154.36 587.21,154.36 587.21,158.96 606.39,158.96 606.39,161.57 601.78,161.57 601.78,163.57 603.32,163.57 603.32,165.87 621.73,165.87 621.73,168.94 607.15,168.94 607.15,170.47 609.46,170.47 609.46,175.08 604.85,175.08 604.85,176.61 606.39,176.61 606.39,179.68 603.32,179.68 603.32,183.52 596.41,183.52 596.41,185.82 591.04,185.82 591.04,187.35 587.97,187.35 587.97,189.65 584.91,189.65 584.91,191.49 582.60,191.49 582.60,195.02 582.00,195.02 582.00,200.39" fill="none" stroke="#b07a62" stroke-width="0.95"/>
<polyline points="582.60,123.67 582.60,125.97 584.14,125.97 584.14,131.34 587.21,131.34 587.21,133.65 591.04,133.65 591.04,135.95 593.34,135.95 593.34,137.48 597.95,137.48 597.95,139.78 602.55,139.78 602.55,141.32 606.39,141.32 606.39,144.39 607.92,144.39 607.92,145.92 611.76,145.92 611.76,147.46 616.36,147.46 616.36,148.99 621.27,148.99 621.27,152.52 615.59,152.52 615.59,154.05 612.53,154.05 612.53,156.20 607.15,156.20 607.15,160.50 587.97,160.50 587.97,161.73 582.60,161.73 582.60,163.57 582.00,163.57 582.00,200.39" fill="none" stroke="#4a9c72" stroke-width="0.95"/>
<polyline points="582.00,269.04 591.80,269.04 591.80,271.34 586.44,271.34 586.44,272.57 585.36,272.57 585.36,274.41 586.44,274.41 586.44,275.94 607.14,275.94 607.14,278.25 617.88,278.25 617.88,281.31 609.44,281.31 609.44,283.31 623.25,283.31 623.25,285.91 617.88,285.91 617.88,287.91 622.48,287.91 622.48,290.52 618.64,290.52 618.64,295.88 610.98,295.88 610.98,297.42 608.67,297.42 608.67,299.72 605.61,299.72 605.61,301.25 596.40,301.25 596.40,302.79 594.87,302.79 594.87,305.09 589.50,305.09 589.50,306.62 587.97,306.62 587.97,308.92 585.67,308.92 585.67,311.22 583.37,311.22 583.37,312.75 582.00,312.75 582.00,315.06 582.00,315.06 582.00,317.36" fill="none" stroke="#b07a62" stroke-width="0.95"/>
<polyline points="582.00,240.67 582.00,242.20 582.60,242.20 582.60,244.50 584.13,244.50 584.13,246.04 586.44,246.04 586.44,248.34 594.10,248.34 594.10,249.87 599.47,249.87 599.47,252.94 601.01,252.94 601.01,255.24 612.51,255.24 612.51,257.54 615.58,257.54 615.58,262.14 639.35,262.14 639.35,264.44 628.61,264.44 628.61,266.74 623.25,266.74 623.25,269.04 617.11,269.04 617.11,271.34 626.31,271.34 626.31,274.72 622.48,274.72 622.48,276.71 607.14,276.71 607.14,277.79 596.40,277.79 596.40,278.40 587.97,278.40 587.97,279.01 585.67,279.01 585.67,280.55 583.37,280.55 583.37,281.31 582.00,281.31 582.00,317.36" fill="none" stroke="#4a9c72" stroke-width="0.95"/>
<polyline points="582.00,374.54 583.37,374.54 583.37,377.30 582.00,377.30 582.00,382.21 584.90,382.21 584.90,384.05 594.10,384.05 594.10,386.81 592.57,386.81 592.57,390.64 595.64,390.64 595.64,392.18 597.17,392.18 597.17,393.71 613.28,393.71 613.28,396.01 617.88,396.01 617.88,398.77 597.17,398.77 597.17,400.31 607.14,400.31 607.14,402.91 608.67,402.91 608.67,407.52 625.55,407.52 625.55,409.05 628.61,409.05 628.61,411.04 630.91,411.04 630.91,412.58 633.21,412.58 633.21,414.42 630.91,414.42 630.91,415.95 624.01,415.95 624.01,417.48 619.41,417.48 619.41,418.25 613.28,418.25 613.28,419.02 605.61,419.02 605.61,420.55 596.40,420.55 596.40,422.85 589.50,422.85 589.50,425.15 585.67,425.15 585.67,426.69 584.13,426.69 584.13,428.22 582.60,428.22 582.60,429.75 582.00,429.75 582.00,433.59" fill="none" stroke="#b07a62" stroke-width="0.95"/>
<polyline points="582.00,355.37 582.00,357.67 584.13,357.67 584.13,361.50 586.44,361.50 586.44,363.80 588.74,363.80 588.74,365.34 602.54,365.34 602.54,367.64 603.31,367.64 603.31,369.94 610.98,369.94 610.98,372.70 616.34,372.70 616.34,375.31 636.28,375.31 636.28,377.61 639.35,377.61 639.35,379.45 631.68,379.45 631.68,382.21 622.48,382.21 622.48,384.05 636.28,384.05 636.28,387.58 637.05,387.58 637.05,389.57 613.28,389.57 613.28,391.10 605.61,391.10 605.61,392.94 601.01,392.94 601.01,393.71 597.94,393.71 597.94,395.71 593.34,395.71 593.34,396.01 588.74,396.01 588.74,398.31 586.44,398.31 586.44,399.85 584.90,399.85 584.90,402.91 583.37,402.91 583.37,404.45 584.90,404.45 584.90,405.98 588.74,405.98 588.74,407.52 584.90,407.52 584.90,410.58 582.60,410.58 582.60,412.12 582.00,412.12 582.00,434.36" fill="none" stroke="#4a9c72" stroke-width="0.95"/>
<line x1="45.50" y1="466.00" x2="45.50" y2="547.50" stroke="#5a5a5a" stroke-width="1"/>
<line x1="45.50" y1="547.50" x2="573.50" y2="547.50" stroke="#5a5a5a" stroke-width="1"/>
<line x1="45.50" y1="530.52" x2="50.50" y2="530.52" stroke="#777" stroke-width="1"/>
<line x1="45.50" y1="513.54" x2="50.50" y2="513.54" stroke="#777" stroke-width="1"/>
<line x1="45.50" y1="496.56" x2="50.50" y2="496.56" stroke="#777" stroke-width="1"/>
<line x1="45.50" y1="479.58" x2="50.50" y2="479.58" stroke="#777" stroke-width="1"/>
<line x1="98.30" y1="547.50" x2="98.30" y2="542.50" stroke="#555" stroke-width="1"/>
<line x1="151.10" y1="547.50" x2="151.10" y2="542.50" stroke="#555" stroke-width="1"/>
<line x1="203.90" y1="547.50" x2="203.90" y2="542.50" stroke="#555" stroke-width="1"/>
<line x1="256.70" y1="547.50" x2="256.70" y2="542.50" stroke="#555" stroke-width="1"/>
<line x1="309.50" y1="547.50" x2="309.50" y2="542.50" stroke="#555" stroke-width="1"/>
<line x1="362.30" y1="547.50" x2="362.30" y2="542.50" stroke="#555" stroke-width="1"/>
<line x1="415.10" y1="547.50" x2="415.10" y2="542.50" stroke="#555" stroke-width="1"/>
<line x1="467.90" y1="547.50" x2="467.90" y2="542.50" stroke="#555" stroke-width="1"/>
<line x1="520.70" y1="547.50" x2="520.70" y2="542.50" stroke="#555" stroke-width="1"/>
<line x1="573.50" y1="547.50" x2="573.50" y2="542.50" stroke="#555" stroke-width="1"/>
<text x="43.00" y="550.90" font-size="9.6" text-anchor="end" fill="#161616">0</text>
<text x="43.00" y="533.92" font-size="9.6" text-anchor="end" fill="#161616">50</text>
<text x="43.00" y="516.94" font-size="9.6" text-anchor="end" fill="#161616">100</text>
<text x="43.00" y="499.96" font-size="9.6" text-anchor="end" fill="#161616">150</text>
<text x="43.00" y="482.98" font-size="9.6" text-anchor="end" fill="#161616">200</text>
<text x="41.80" y="558.40" font-size="9.6" text-anchor="middle" fill="#161616">-10</text>
<text x="98.30" y="558.40" font-size="9.6" text-anchor="middle" fill="#161616">0</text>
<text x="151.10" y="558.40" font-size="9.6" text-anchor="middle" fill="#161616">10</text>
<text x="203.90" y="558.40" font-size="9.6" text-anchor="middle" fill="#161616">20</text>
<text x="256.70" y="558.40" font-size="9.6" text-anchor="middle" fill="#161616">30</text>
<text x="309.50" y="558.40" font-size="9.6" text-anchor="middle" fill="#161616">40</text>
<text x="362.30" y="558.40" font-size="9.6" text-anchor="middle" fill="#161616">50</text>
<text x="415.10" y="558.40" font-size="9.6" text-anchor="middle" fill="#161616">60</text>
<text x="467.90" y="558.40" font-size="9.6" text-anchor="middle" fill="#161616">70</text>
<text x="520.70" y="558.40" font-size="9.6" text-anchor="middle" fill="#161616">80</text>
<text x="573.50" y="558.40" font-size="9.6" text-anchor="middle" fill="#161616">90</text>
<text x="310.30" y="568.90" font-size="13.4" text-anchor="middle" fill="#161616" textLength="43.4" lengthAdjust="spacingAndGlyphs">x [mm]</text>
<text x="11.80" y="512.00" font-size="12.8" text-anchor="middle" fill="#161616" transform="rotate(-90 11.80 512.00)">contact duration</text>
<text x="24.20" y="513.60" font-size="12.6" text-anchor="middle" fill="#161616" transform="rotate(-90 24.20 513.60)">per trial [ms]</text>
<line x1="198.62" y1="466.00" x2="198.62" y2="547.50" stroke="#606060" stroke-width="1"/>
<line x1="267.26" y1="466.00" x2="267.26" y2="547.50" stroke="#606060" stroke-width="1"/>
<line x1="346.46" y1="466.00" x2="346.46" y2="547.50" stroke="#606060" stroke-width="1"/>
<line x1="446.78" y1="466.00" x2="446.78" y2="547.50" stroke="#606060" stroke-width="1"/>
<polyline points="98.30,547.00 98.30,545.80 108.86,545.80 108.86,543.42 119.42,543.42 119.42,543.42 129.98,543.42 129.98,544.10 140.54,544.10 140.54,543.42 151.10,543.42 151.10,542.41 161.66,542.41 161.66,540.03 172.22,540.03 172.22,537.99 182.78,537.99 182.78,524.07 193.34,524.07 193.34,490.79 203.90,490.79 203.90,531.54 214.46,531.54 214.46,547.00 225.02,547.00 225.02,547.00 235.58,547.00 235.58,547.00 246.14,547.00 246.14,546.82 256.70,546.82 256.70,546.48 267.26,546.48 267.26,546.48 277.82,546.48 277.82,546.82 288.38,546.82 288.38,547.00 298.94,547.00 298.94,547.00 309.50,547.00 309.50,547.00 320.06,547.00 320.06,547.00 330.62,547.00 330.62,547.00 341.18,547.00 341.18,547.00 351.74,547.00 351.74,547.00 362.30,547.00 362.30,547.00 372.86,547.00 372.86,547.00 383.42,547.00 383.42,547.00 393.98,547.00 393.98,547.00 404.54,547.00 404.54,547.00 415.10,547.00 415.10,547.00 425.66,547.00 425.66,547.00 436.22,547.00 436.22,547.00 446.78,547.00 446.78,547.00 457.34,547.00 457.34,547.00 467.90,547.00 467.90,547.00 478.46,547.00 478.46,547.00 489.02,547.00 489.02,547.00 499.58,547.00 499.58,547.00 510.14,547.00 510.14,547.00 520.70,547.00 520.70,547.00 531.26,547.00 531.26,547.00 541.82,547.00 541.82,547.00 552.38,547.00 552.38,547.00 562.94,547.00 562.94,547.00 573.50,547.00 573.50,547.00" fill="none" stroke="#5562aa" stroke-width="1"/>
<polyline points="98.30,547.00 98.30,544.78 108.86,544.78 108.86,542.75 119.42,542.75 119.42,542.75 129.98,542.75 129.98,542.41 140.54,542.41 140.54,542.07 151.10,542.07 151.10,540.03 161.66,540.03 161.66,538.33 172.22,538.33 172.22,537.99 182.78,537.99 182.78,537.31 193.34,537.31 193.34,536.63 203.90,536.63 203.90,534.60 214.46,534.60 214.46,536.29 225.02,536.29 225.02,534.60 235.58,534.60 235.58,529.84 246.14,529.84 246.14,491.81 256.70,491.81 256.70,480.94 267.26,480.94 267.26,488.75 277.82,488.75 277.82,533.24 288.38,533.24 288.38,547.00 298.94,547.00 298.94,547.00 309.50,547.00 309.50,547.00 320.06,547.00 320.06,547.00 330.62,547.00 330.62,547.00 341.18,547.00 341.18,547.00 351.74,547.00 351.74,547.00 362.30,547.00 362.30,547.00 372.86,547.00 372.86,547.00 383.42,547.00 383.42,547.00 393.98,547.00 393.98,547.00 404.54,547.00 404.54,547.00 415.10,547.00 415.10,547.00 425.66,547.00 425.66,547.00 436.22,547.00 436.22,547.00 446.78,547.00 446.78,547.00 457.34,547.00 457.34,547.00 467.90,547.00 467.90,547.00 478.46,547.00 478.46,547.00 489.02,547.00 489.02,547.00 499.58,547.00 499.58,547.00 510.14,547.00 510.14,547.00 520.70,547.00 520.70,547.00 531.26,547.00 531.26,547.00 541.82,547.00 541.82,547.00 552.38,547.00 552.38,547.00 562.94,547.00 562.94,547.00 573.50,547.00 573.50,547.00" fill="none" stroke="#3a9466" stroke-width="1"/>
<polyline points="98.30,547.00 98.30,546.48 108.86,546.48 108.86,544.10 119.42,544.10 119.42,543.42 129.98,543.42 129.98,544.78 140.54,544.78 140.54,542.75 151.10,542.75 151.10,537.99 161.66,537.99 161.66,535.27 172.22,535.27 172.22,537.99 182.78,537.99 182.78,536.63 193.34,536.63 193.34,537.31 203.90,537.31 203.90,534.60 214.46,534.60 214.46,538.67 225.02,538.67 225.02,534.60 235.58,534.60 235.58,532.90 246.14,532.90 246.14,534.60 256.70,534.60 256.70,532.56 267.26,532.56 267.26,536.63 277.82,536.63 277.82,530.86 288.38,530.86 288.38,532.56 298.94,532.56 298.94,530.52 309.50,530.52 309.50,525.77 320.06,525.77 320.06,503.01 330.62,503.01 330.62,477.21 341.18,477.21 341.18,479.58 351.74,479.58 351.74,514.56 362.30,514.56 362.30,547.00 372.86,547.00 372.86,547.00 383.42,547.00 383.42,547.00 393.98,547.00 393.98,547.00 404.54,547.00 404.54,547.00 415.10,547.00 415.10,547.00 425.66,547.00 425.66,547.00 436.22,547.00 436.22,547.00 446.78,547.00 446.78,547.00 457.34,547.00 457.34,547.00 467.90,547.00 467.90,547.00 478.46,547.00 478.46,547.00 489.02,547.00 489.02,547.00 499.58,547.00 499.58,547.00 510.14,547.00 510.14,547.00 520.70,547.00 520.70,546.48 531.26,546.48 531.26,546.48 541.82,546.48 541.82,546.82 552.38,546.82 552.38,547.00 562.94,547.00 562.94,547.00 573.50,547.00 573.50,547.00" fill="none" stroke="#e04a52" stroke-width="1"/>
<polyline points="45.50,547.00 98.30,547.00 98.30,544.10 108.86,544.10 108.86,543.42 119.42,543.42 119.42,542.75 129.98,542.75 129.98,542.41 140.54,542.41 140.54,542.07 151.10,542.07 151.10,540.03 161.66,540.03 161.66,539.01 172.22,539.01 172.22,537.99 182.78,537.99 182.78,537.31 193.34,537.31 193.34,536.63 203.90,536.63 203.90,537.99 214.46,537.99 214.46,536.63 225.02,536.63 225.02,534.60 235.58,534.60 235.58,532.90 246.14,532.90 246.14,532.90 256.70,532.90 256.70,534.60 267.26,534.60 267.26,533.92 277.82,533.92 277.82,536.63 288.38,536.63 288.38,536.63 298.94,536.63 298.94,535.27 309.50,535.27 309.50,535.27 320.06,535.27 320.06,538.33 330.62,538.33 330.62,537.65 341.18,537.65 341.18,537.65 351.74,537.65 351.74,532.56 362.30,532.56 362.30,534.60 372.86,534.60 372.86,531.88 383.42,531.88 383.42,530.52 393.98,530.52 393.98,532.56 404.54,532.56 404.54,528.82 415.10,528.82 415.10,517.62 425.66,517.62 425.66,483.66 436.22,483.66 436.22,487.73 446.78,487.73 446.78,497.58 457.34,497.58 457.34,541.73 467.90,541.73 467.90,547.00 478.46,547.00 478.46,547.00 489.02,547.00 489.02,547.00 499.58,547.00 499.58,547.00 510.14,547.00 510.14,547.00 520.70,547.00 520.70,547.00 531.26,547.00 531.26,547.00 541.82,547.00 541.82,547.00 552.38,547.00 552.38,547.00 562.94,547.00 562.94,547.00 573.50,547.00 573.50,547.00" fill="none" stroke="#48c8c8" stroke-width="1"/>
<rect x="487.5" y="470.5" width="81" height="47" fill="#fff" stroke="#555" stroke-width="1"/>
<line x1="493.00" y1="477.50" x2="519.70" y2="477.50" stroke="#5562aa" stroke-width="1"/>
<text x="522.70" y="480.70" font-size="9" text-anchor="start" fill="#161616">h = 19 mm</text>
<line x1="493.00" y1="488.50" x2="519.70" y2="488.50" stroke="#3a9466" stroke-width="1"/>
<text x="522.70" y="491.70" font-size="9" text-anchor="start" fill="#161616">h = 32 mm</text>
<line x1="493.00" y1="499.50" x2="519.70" y2="499.50" stroke="#e04a52" stroke-width="1"/>
<text x="522.70" y="502.70" font-size="9" text-anchor="start" fill="#161616">h = 47 mm</text>
<line x1="493.00" y1="510.50" x2="519.70" y2="510.50" stroke="#48c8c8" stroke-width="1"/>
<text x="522.70" y="513.70" font-size="9" text-anchor="start" fill="#161616">h = 66 mm</text>
<text x="623.50" y="459.00" font-size="12.7" text-anchor="middle" fill="#161616">contact duration</text>
<text x="623.50" y="472.50" font-size="12.7" text-anchor="middle" fill="#161616">per trial [ms]</text>
</svg></body></html>
